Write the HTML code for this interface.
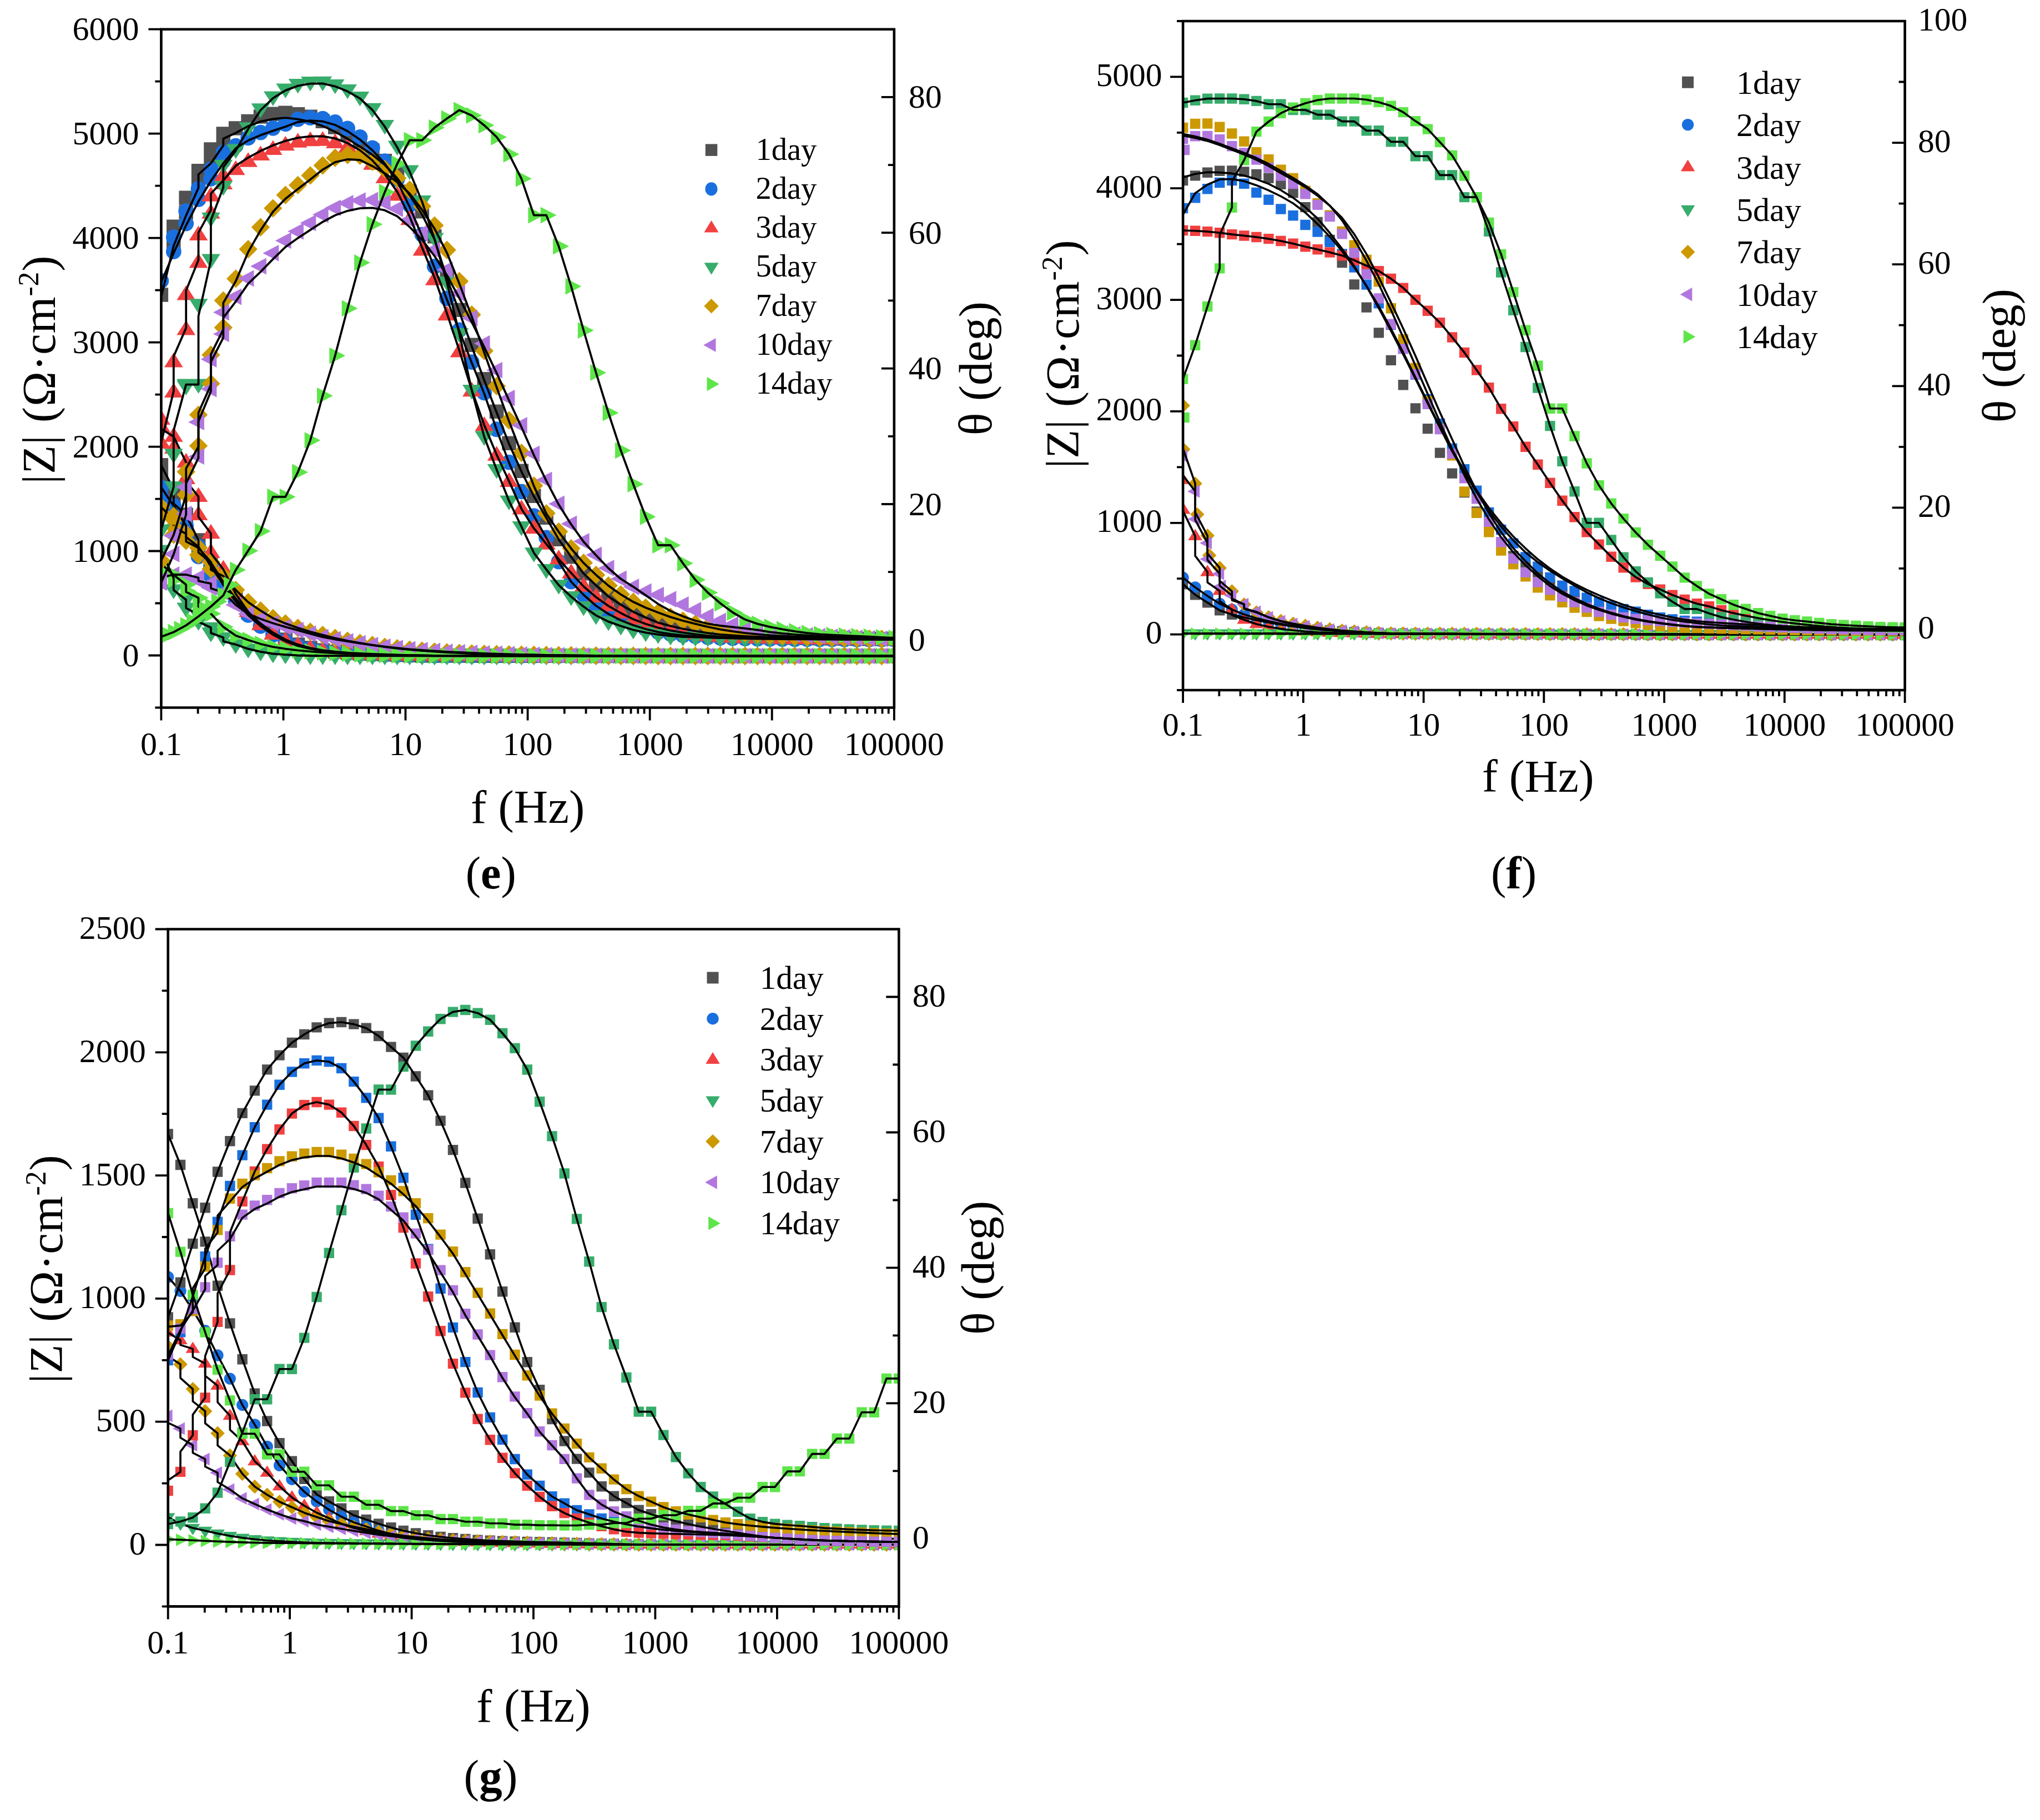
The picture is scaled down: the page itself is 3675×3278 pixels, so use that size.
<!DOCTYPE html>
<html lang="en"><head><meta charset="utf-8"><title>Bode plots (e)-(g)</title>
<style>html,body{margin:0;padding:0;background:#fff}body{width:3675px;height:3278px;overflow:hidden}svg{display:block}text{font-family:"Liberation Serif", "DejaVu Serif", serif;fill:#000}</style></head><body>
<svg width="3675" height="3278" viewBox="0 0 3675 3278">
<rect width="3675" height="3278" fill="#fff"/>
<g id="plot-e">
<clipPath id="clip-e"><rect x="290.4" y="52.7" width="1320.4" height="1221.8"/></clipPath>
<path fill="none" stroke="#000" stroke-width="3.8" d="M1610.8 1152.3h-23M1610.8 1030.1h-11M1610.8 908h-23M1610.8 785.8h-11M1610.8 663.6h-23M1610.8 541.4h-11M1610.8 419.2h-23M1610.8 297.1h-11M1610.8 174.9h-23"/>
<g clip-path="url(#clip-e)">
<g><path fill="#515151" d="M277.6 846.7h25.5v25.5h-25.5zM300 891.6h25.5v25.5h-25.5zM322.4 937.9h25.5v25.5h-25.5zM344.8 981h25.5v25.5h-25.5zM367.2 1018.7h25.5v25.5h-25.5zM277.6 825h25.5v25.5h-25.5zM300 868.8h25.5v25.5h-25.5zM322.4 914.6h25.5v25.5h-25.5zM344.8 960.2h25.5v25.5h-25.5zM367.2 1000.5h25.5v25.5h-25.5zM389.5 1035.6h25.5v25.5h-25.5zM411.9 1065.5h25.5v25.5h-25.5zM434.3 1090.3h25.5v25.5h-25.5zM456.7 1110.1h25.5v25.5h-25.5zM479.1 1126.8h25.5v25.5h-25.5zM501.4 1139.2h25.5v25.5h-25.5zM523.8 1148.2h25.5v25.5h-25.5zM546.2 1154.3h25.5v25.5h-25.5zM568.6 1158.4h25.5v25.5h-25.5zM591 1161h25.5v25.5h-25.5zM613.3 1162.9h25.5v25.5h-25.5zM635.7 1164.2h25.5v25.5h-25.5zM658.1 1165.1h25.5v25.5h-25.5zM680.5 1166h25.5v25.5h-25.5zM702.9 1166.8h25.5v25.5h-25.5zM725.2 1167.4h25.5v25.5h-25.5zM747.6 1167.9h25.5v25.5h-25.5zM770 1168.2h25.5v25.5h-25.5zM792.4 1168.3h25.5v25.5h-25.5zM814.8 1168.3h25.5v25.5h-25.5zM837.1 1168.3h25.5v25.5h-25.5zM859.5 1168.4h25.5v25.5h-25.5zM881.9 1168.4h25.5v25.5h-25.5zM904.3 1168.4h25.5v25.5h-25.5zM926.7 1168.4h25.5v25.5h-25.5zM949 1168.5h25.5v25.5h-25.5zM971.4 1168.5h25.5v25.5h-25.5zM993.8 1168.5h25.5v25.5h-25.5zM1016.2 1168.5h25.5v25.5h-25.5zM1038.6 1168.5h25.5v25.5h-25.5zM1060.9 1168.6h25.5v25.5h-25.5zM1083.3 1168.6h25.5v25.5h-25.5zM1105.7 1168.6h25.5v25.5h-25.5zM1128.1 1168.6h25.5v25.5h-25.5zM1150.5 1168.6h25.5v25.5h-25.5zM1172.8 1168.6h25.5v25.5h-25.5zM1195.2 1168.7h25.5v25.5h-25.5zM1217.6 1168.7h25.5v25.5h-25.5zM1240 1168.7h25.5v25.5h-25.5zM1262.4 1168.7h25.5v25.5h-25.5zM1284.7 1168.7h25.5v25.5h-25.5zM1307.1 1168.7h25.5v25.5h-25.5zM1329.5 1168.7h25.5v25.5h-25.5zM1351.9 1168.7h25.5v25.5h-25.5zM1374.3 1168.7h25.5v25.5h-25.5zM1396.6 1168.7h25.5v25.5h-25.5zM1419 1168.7h25.5v25.5h-25.5zM1441.4 1168.7h25.5v25.5h-25.5zM1463.8 1168.7h25.5v25.5h-25.5zM1486.2 1168.7h25.5v25.5h-25.5zM1508.5 1168.7h25.5v25.5h-25.5zM1530.9 1168.7h25.5v25.5h-25.5zM1553.3 1168.7h25.5v25.5h-25.5zM1575.7 1168.7h25.5v25.5h-25.5zM1598.1 1168.7h25.5v25.5h-25.5z"/><path fill="#1A6FDF" d="M276.5 894.1a13.9 13.9 0 1 0 27.8 0a13.9 13.9 0 1 0 -27.8 0zM298.9 928.8a13.9 13.9 0 1 0 27.8 0a13.9 13.9 0 1 0 -27.8 0zM321.3 965.8a13.9 13.9 0 1 0 27.8 0a13.9 13.9 0 1 0 -27.8 0zM343.6 1002.5a13.9 13.9 0 1 0 27.8 0a13.9 13.9 0 1 0 -27.8 0zM366 1037a13.9 13.9 0 1 0 27.8 0a13.9 13.9 0 1 0 -27.8 0zM276.5 877.6a13.9 13.9 0 1 0 27.8 0a13.9 13.9 0 1 0 -27.8 0zM298.9 911.2a13.9 13.9 0 1 0 27.8 0a13.9 13.9 0 1 0 -27.8 0zM321.3 946.9a13.9 13.9 0 1 0 27.8 0a13.9 13.9 0 1 0 -27.8 0zM343.6 984.5a13.9 13.9 0 1 0 27.8 0a13.9 13.9 0 1 0 -27.8 0zM366 1020a13.9 13.9 0 1 0 27.8 0a13.9 13.9 0 1 0 -27.8 0zM388.4 1053.3a13.9 13.9 0 1 0 27.8 0a13.9 13.9 0 1 0 -27.8 0zM410.8 1083.3a13.9 13.9 0 1 0 27.8 0a13.9 13.9 0 1 0 -27.8 0zM433.2 1108a13.9 13.9 0 1 0 27.8 0a13.9 13.9 0 1 0 -27.8 0zM455.5 1127.7a13.9 13.9 0 1 0 27.8 0a13.9 13.9 0 1 0 -27.8 0zM477.9 1143.3a13.9 13.9 0 1 0 27.8 0a13.9 13.9 0 1 0 -27.8 0zM500.3 1154.8a13.9 13.9 0 1 0 27.8 0a13.9 13.9 0 1 0 -27.8 0zM522.7 1163.1a13.9 13.9 0 1 0 27.8 0a13.9 13.9 0 1 0 -27.8 0zM545.1 1168.5a13.9 13.9 0 1 0 27.8 0a13.9 13.9 0 1 0 -27.8 0zM567.4 1172.2a13.9 13.9 0 1 0 27.8 0a13.9 13.9 0 1 0 -27.8 0zM589.8 1174.7a13.9 13.9 0 1 0 27.8 0a13.9 13.9 0 1 0 -27.8 0zM612.2 1176.7a13.9 13.9 0 1 0 27.8 0a13.9 13.9 0 1 0 -27.8 0zM634.6 1177.9a13.9 13.9 0 1 0 27.8 0a13.9 13.9 0 1 0 -27.8 0zM657 1178.7a13.9 13.9 0 1 0 27.8 0a13.9 13.9 0 1 0 -27.8 0zM679.3 1179.4a13.9 13.9 0 1 0 27.8 0a13.9 13.9 0 1 0 -27.8 0zM701.7 1179.9a13.9 13.9 0 1 0 27.8 0a13.9 13.9 0 1 0 -27.8 0zM724.1 1180.4a13.9 13.9 0 1 0 27.8 0a13.9 13.9 0 1 0 -27.8 0zM746.5 1180.7a13.9 13.9 0 1 0 27.8 0a13.9 13.9 0 1 0 -27.8 0zM768.9 1180.9a13.9 13.9 0 1 0 27.8 0a13.9 13.9 0 1 0 -27.8 0zM791.2 1181a13.9 13.9 0 1 0 27.8 0a13.9 13.9 0 1 0 -27.8 0zM813.6 1181a13.9 13.9 0 1 0 27.8 0a13.9 13.9 0 1 0 -27.8 0zM836 1181.1a13.9 13.9 0 1 0 27.8 0a13.9 13.9 0 1 0 -27.8 0zM858.4 1181.1a13.9 13.9 0 1 0 27.8 0a13.9 13.9 0 1 0 -27.8 0zM880.8 1181.1a13.9 13.9 0 1 0 27.8 0a13.9 13.9 0 1 0 -27.8 0zM903.1 1181.2a13.9 13.9 0 1 0 27.8 0a13.9 13.9 0 1 0 -27.8 0zM925.5 1181.2a13.9 13.9 0 1 0 27.8 0a13.9 13.9 0 1 0 -27.8 0zM947.9 1181.2a13.9 13.9 0 1 0 27.8 0a13.9 13.9 0 1 0 -27.8 0zM970.3 1181.2a13.9 13.9 0 1 0 27.8 0a13.9 13.9 0 1 0 -27.8 0zM992.7 1181.3a13.9 13.9 0 1 0 27.8 0a13.9 13.9 0 1 0 -27.8 0zM1015 1181.3a13.9 13.9 0 1 0 27.8 0a13.9 13.9 0 1 0 -27.8 0zM1037.4 1181.3a13.9 13.9 0 1 0 27.8 0a13.9 13.9 0 1 0 -27.8 0zM1059.8 1181.3a13.9 13.9 0 1 0 27.8 0a13.9 13.9 0 1 0 -27.8 0zM1082.2 1181.3a13.9 13.9 0 1 0 27.8 0a13.9 13.9 0 1 0 -27.8 0zM1104.5 1181.3a13.9 13.9 0 1 0 27.8 0a13.9 13.9 0 1 0 -27.8 0zM1126.9 1181.4a13.9 13.9 0 1 0 27.8 0a13.9 13.9 0 1 0 -27.8 0zM1149.3 1181.4a13.9 13.9 0 1 0 27.8 0a13.9 13.9 0 1 0 -27.8 0zM1171.7 1181.4a13.9 13.9 0 1 0 27.8 0a13.9 13.9 0 1 0 -27.8 0zM1194.1 1181.4a13.9 13.9 0 1 0 27.8 0a13.9 13.9 0 1 0 -27.8 0zM1216.4 1181.4a13.9 13.9 0 1 0 27.8 0a13.9 13.9 0 1 0 -27.8 0zM1238.8 1181.4a13.9 13.9 0 1 0 27.8 0a13.9 13.9 0 1 0 -27.8 0zM1261.2 1181.4a13.9 13.9 0 1 0 27.8 0a13.9 13.9 0 1 0 -27.8 0zM1283.6 1181.4a13.9 13.9 0 1 0 27.8 0a13.9 13.9 0 1 0 -27.8 0zM1306 1181.5a13.9 13.9 0 1 0 27.8 0a13.9 13.9 0 1 0 -27.8 0zM1328.3 1181.5a13.9 13.9 0 1 0 27.8 0a13.9 13.9 0 1 0 -27.8 0zM1350.7 1181.5a13.9 13.9 0 1 0 27.8 0a13.9 13.9 0 1 0 -27.8 0zM1373.1 1181.5a13.9 13.9 0 1 0 27.8 0a13.9 13.9 0 1 0 -27.8 0zM1395.5 1181.5a13.9 13.9 0 1 0 27.8 0a13.9 13.9 0 1 0 -27.8 0zM1417.9 1181.5a13.9 13.9 0 1 0 27.8 0a13.9 13.9 0 1 0 -27.8 0zM1440.2 1181.5a13.9 13.9 0 1 0 27.8 0a13.9 13.9 0 1 0 -27.8 0zM1462.6 1181.5a13.9 13.9 0 1 0 27.8 0a13.9 13.9 0 1 0 -27.8 0zM1485 1181.5a13.9 13.9 0 1 0 27.8 0a13.9 13.9 0 1 0 -27.8 0zM1507.4 1181.5a13.9 13.9 0 1 0 27.8 0a13.9 13.9 0 1 0 -27.8 0zM1529.8 1181.5a13.9 13.9 0 1 0 27.8 0a13.9 13.9 0 1 0 -27.8 0zM1552.1 1181.5a13.9 13.9 0 1 0 27.8 0a13.9 13.9 0 1 0 -27.8 0zM1574.5 1181.5a13.9 13.9 0 1 0 27.8 0a13.9 13.9 0 1 0 -27.8 0zM1596.9 1181.5a13.9 13.9 0 1 0 27.8 0a13.9 13.9 0 1 0 -27.8 0z"/><path fill="#F14040" d="M290.4 752.2L307.2 778.7L273.6 778.7zM312.8 790.6L329.6 817.1L295.9 817.1zM335.2 845.4L352 872L318.3 872zM357.5 910.4L374.4 936.9L340.7 936.9zM379.9 978.5L396.7 1005L363.1 1005zM290.4 738.4L307.2 765L273.6 765zM312.8 769.3L329.6 795.8L295.9 795.8zM335.2 815.8L352 842.3L318.3 842.3zM357.5 877.4L374.4 903.9L340.7 903.9zM379.9 943.8L396.7 970.3L363.1 970.3zM402.3 1008.5L419.1 1035L385.5 1035zM424.7 1052.6L441.5 1079.1L407.8 1079.1zM447.1 1084.8L463.9 1111.3L430.2 1111.3zM469.4 1108.2L486.3 1134.7L452.6 1134.7zM491.8 1125.6L508.6 1152.1L475 1152.1zM514.2 1137.9L531 1164.4L497.4 1164.4zM536.6 1146.1L553.4 1172.6L519.7 1172.6zM559 1151.5L575.8 1178L542.1 1178zM581.3 1155.2L598.2 1181.7L564.5 1181.7zM603.7 1157.7L620.5 1184.3L586.9 1184.3zM626.1 1159.7L642.9 1186.2L609.3 1186.2zM648.5 1161L665.3 1187.5L631.6 1187.5zM670.9 1161.7L687.7 1188.2L654 1188.2zM693.2 1162.4L710.1 1188.9L676.4 1188.9zM715.6 1163L732.4 1189.5L698.8 1189.5zM738 1163.4L754.8 1189.9L721.2 1189.9zM760.4 1163.7L777.2 1190.3L743.5 1190.3zM782.8 1164L799.6 1190.5L765.9 1190.5zM805.1 1164L822 1190.6L788.3 1190.6zM827.5 1164.1L844.3 1190.6L810.7 1190.6zM849.9 1164.1L866.7 1190.6L833.1 1190.6zM872.3 1164.1L889.1 1190.6L855.4 1190.6zM894.7 1164.2L911.5 1190.7L877.8 1190.7zM917 1164.2L933.9 1190.7L900.2 1190.7zM939.4 1164.2L956.2 1190.7L922.6 1190.7zM961.8 1164.2L978.6 1190.8L945 1190.8zM984.2 1164.3L1001 1190.8L967.3 1190.8zM1006.5 1164.3L1023.4 1190.8L989.7 1190.8zM1028.9 1164.3L1045.8 1190.8L1012.1 1190.8zM1051.3 1164.3L1068.1 1190.8L1034.5 1190.8zM1073.7 1164.3L1090.5 1190.9L1056.9 1190.9zM1096.1 1164.4L1112.9 1190.9L1079.2 1190.9zM1118.4 1164.4L1135.3 1190.9L1101.6 1190.9zM1140.8 1164.4L1157.7 1190.9L1124 1190.9zM1163.2 1164.4L1180 1190.9L1146.4 1190.9zM1185.6 1164.4L1202.4 1190.9L1168.8 1190.9zM1208 1164.4L1224.8 1191L1191.1 1191zM1230.3 1164.4L1247.2 1191L1213.5 1191zM1252.7 1164.5L1269.6 1191L1235.9 1191zM1275.1 1164.5L1291.9 1191L1258.3 1191zM1297.5 1164.5L1314.3 1191L1280.7 1191zM1319.9 1164.5L1336.7 1191L1303 1191zM1342.2 1164.5L1359.1 1191L1325.4 1191zM1364.6 1164.5L1381.5 1191L1347.8 1191zM1387 1164.5L1403.8 1191L1370.2 1191zM1409.4 1164.5L1426.2 1191L1392.6 1191zM1431.8 1164.5L1448.6 1191L1414.9 1191zM1454.1 1164.5L1471 1191L1437.3 1191zM1476.5 1164.5L1493.4 1191L1459.7 1191zM1498.9 1164.5L1515.7 1191L1482.1 1191zM1521.3 1164.5L1538.1 1191L1504.5 1191zM1543.7 1164.5L1560.5 1191L1526.8 1191zM1566 1164.5L1582.9 1191L1549.2 1191zM1588.4 1164.5L1605.3 1191L1571.6 1191zM1610.8 1164.5L1627.6 1191L1594 1191z"/><path fill="#37AD6B" d="M290.4 1034.9L307.2 1008.4L273.6 1008.4zM312.8 1079.1L329.6 1052.6L295.9 1052.6zM335.2 1112L352 1085.4L318.3 1085.4zM357.5 1136.1L374.4 1109.6L340.7 1109.6zM379.9 1156.8L396.7 1130.3L363.1 1130.3zM290.4 1008L307.2 981.5L273.6 981.5zM312.8 1058.5L329.6 1032L295.9 1032zM335.2 1097.1L352 1070.6L318.3 1070.6zM357.5 1124.3L374.4 1097.7L340.7 1097.7zM379.9 1147.2L396.7 1120.7L363.1 1120.7zM402.3 1165.2L419.1 1138.7L385.5 1138.7zM424.7 1177.7L441.5 1151.2L407.8 1151.2zM447.1 1185.7L463.9 1159.2L430.2 1159.2zM469.4 1190.9L486.3 1164.4L452.6 1164.4zM491.8 1194.5L508.6 1168L475 1168zM514.2 1196.2L531 1169.7L497.4 1169.7zM536.6 1197.4L553.4 1170.9L519.7 1170.9zM559 1198L575.8 1171.4L542.1 1171.4zM581.3 1198L598.2 1171.5L564.5 1171.5zM603.7 1198.1L620.5 1171.6L586.9 1171.6zM626.1 1198.2L642.9 1171.7L609.3 1171.7zM648.5 1198.2L665.3 1171.7L631.6 1171.7zM670.9 1198.3L687.7 1171.8L654 1171.8zM693.2 1198.3L710.1 1171.8L676.4 1171.8zM715.6 1198.4L732.4 1171.8L698.8 1171.8zM738 1198.4L754.8 1171.9L721.2 1171.9zM760.4 1198.4L777.2 1171.9L743.5 1171.9zM782.8 1198.4L799.6 1171.9L765.9 1171.9zM805.1 1198.4L822 1171.9L788.3 1171.9zM827.5 1198.5L844.3 1171.9L810.7 1171.9zM849.9 1198.5L866.7 1171.9L833.1 1171.9zM872.3 1198.5L889.1 1172L855.4 1172zM894.7 1198.5L911.5 1172L877.8 1172zM917 1198.5L933.9 1172L900.2 1172zM939.4 1198.5L956.2 1172L922.6 1172zM961.8 1198.5L978.6 1172L945 1172zM984.2 1198.5L1001 1172L967.3 1172zM1006.5 1198.5L1023.4 1172L989.7 1172zM1028.9 1198.5L1045.8 1172L1012.1 1172zM1051.3 1198.5L1068.1 1172L1034.5 1172zM1073.7 1198.5L1090.5 1172L1056.9 1172zM1096.1 1198.5L1112.9 1172L1079.2 1172zM1118.4 1198.5L1135.3 1172L1101.6 1172zM1140.8 1198.5L1157.7 1172L1124 1172zM1163.2 1198.5L1180 1172L1146.4 1172zM1185.6 1198.5L1202.4 1172L1168.8 1172zM1208 1198.5L1224.8 1172L1191.1 1172zM1230.3 1198.5L1247.2 1172L1213.5 1172zM1252.7 1198.5L1269.6 1172L1235.9 1172zM1275.1 1198.5L1291.9 1172L1258.3 1172zM1297.5 1198.5L1314.3 1172L1280.7 1172zM1319.9 1198.5L1336.7 1172L1303 1172zM1342.2 1198.5L1359.1 1172L1325.4 1172zM1364.6 1198.5L1381.5 1172L1347.8 1172zM1387 1198.5L1403.8 1172L1370.2 1172zM1409.4 1198.5L1426.2 1172L1392.6 1172zM1431.8 1198.5L1448.6 1172L1414.9 1172zM1454.1 1198.5L1471 1172L1437.3 1172zM1476.5 1198.5L1493.4 1172L1459.7 1172zM1498.9 1198.5L1515.7 1172L1482.1 1172zM1521.3 1198.5L1538.1 1172L1504.5 1172zM1543.7 1198.5L1560.5 1172L1526.8 1172zM1566 1198.5L1582.9 1172L1549.2 1172zM1588.4 1198.5L1605.3 1172L1571.6 1172zM1610.8 1198.5L1627.6 1172L1594 1172z"/><path fill="#CC9900" d="M290.4 907.5L307.1 924.2L290.4 940.9L273.7 924.2zM312.8 931.7L329.5 948.4L312.8 965.1L296.1 948.4zM335.2 957.3L351.9 974L335.2 990.7L318.5 974zM357.5 982.8L374.2 999.5L357.5 1016.2L340.8 999.5zM379.9 1008.2L396.6 1024.9L379.9 1041.6L363.2 1024.9zM290.4 896.7L307.1 913.4L290.4 930.1L273.7 913.4zM312.8 919.1L329.5 935.8L312.8 952.5L296.1 935.8zM335.2 944.6L351.9 961.3L335.2 978L318.5 961.3zM357.5 970L374.2 986.7L357.5 1003.5L340.8 986.7zM379.9 995.5L396.6 1012.2L379.9 1028.9L363.2 1012.2zM402.3 1020.9L419 1037.6L402.3 1054.3L385.6 1037.6zM424.7 1045.9L441.4 1062.6L424.7 1079.3L408 1062.6zM447.1 1067.9L463.8 1084.6L447.1 1101.3L430.4 1084.6zM469.4 1083.1L486.1 1099.8L469.4 1116.5L452.7 1099.8zM491.8 1096.7L508.5 1113.4L491.8 1130.1L475.1 1113.4zM514.2 1106.2L530.9 1122.9L514.2 1139.6L497.5 1122.9zM536.6 1114.2L553.3 1130.9L536.6 1147.6L519.9 1130.9zM559 1121.2L575.7 1137.9L559 1154.6L542.3 1137.9zM581.3 1126.9L598 1143.6L581.3 1160.3L564.6 1143.6zM603.7 1132.6L620.4 1149.3L603.7 1166L587 1149.3zM626.1 1137.5L642.8 1154.2L626.1 1170.9L609.4 1154.2zM648.5 1141.4L665.2 1158.1L648.5 1174.8L631.8 1158.1zM670.9 1145.1L687.6 1161.8L670.9 1178.5L654.2 1161.8zM693.2 1148.4L709.9 1165.1L693.2 1181.8L676.5 1165.1zM715.6 1151.1L732.3 1167.8L715.6 1184.5L698.9 1167.8zM738 1153.4L754.7 1170.1L738 1186.9L721.3 1170.1zM760.4 1155.3L777.1 1172L760.4 1188.7L743.7 1172zM782.8 1156.9L799.5 1173.6L782.8 1190.3L766.1 1173.6zM805.1 1158.3L821.8 1175L805.1 1191.7L788.4 1175zM827.5 1159.4L844.2 1176.1L827.5 1192.8L810.8 1176.1zM849.9 1160.3L866.6 1177L849.9 1193.7L833.2 1177zM872.3 1160.9L889 1177.6L872.3 1194.3L855.6 1177.6zM894.7 1161.5L911.4 1178.2L894.7 1194.9L877.9 1178.2zM917 1162L933.7 1178.7L917 1195.4L900.3 1178.7zM939.4 1162.4L956.1 1179.1L939.4 1195.8L922.7 1179.1zM961.8 1162.8L978.5 1179.5L961.8 1196.2L945.1 1179.5zM984.2 1163.1L1000.9 1179.8L984.2 1196.5L967.5 1179.8zM1006.5 1163.4L1023.3 1180.1L1006.5 1196.8L989.8 1180.1zM1028.9 1163.6L1045.6 1180.3L1028.9 1197L1012.2 1180.3zM1051.3 1163.9L1068 1180.6L1051.3 1197.3L1034.6 1180.6zM1073.7 1164.1L1090.4 1180.8L1073.7 1197.5L1057 1180.8zM1096.1 1164.3L1112.8 1181L1096.1 1197.7L1079.4 1181zM1118.4 1164.5L1135.1 1181.2L1118.4 1197.9L1101.7 1181.2zM1140.8 1164.6L1157.5 1181.3L1140.8 1198L1124.1 1181.3zM1163.2 1164.7L1179.9 1181.4L1163.2 1198.1L1146.5 1181.4zM1185.6 1164.8L1202.3 1181.5L1185.6 1198.2L1168.9 1181.5zM1208 1164.8L1224.7 1181.5L1208 1198.2L1191.3 1181.5zM1230.3 1164.8L1247 1181.5L1230.3 1198.2L1213.6 1181.5zM1252.7 1164.8L1269.4 1181.5L1252.7 1198.2L1236 1181.5zM1275.1 1164.8L1291.8 1181.5L1275.1 1198.2L1258.4 1181.5zM1297.5 1164.8L1314.2 1181.5L1297.5 1198.2L1280.8 1181.5zM1319.9 1164.8L1336.6 1181.5L1319.9 1198.2L1303.2 1181.5zM1342.2 1164.8L1358.9 1181.5L1342.2 1198.2L1325.5 1181.5zM1364.6 1164.8L1381.3 1181.5L1364.6 1198.2L1347.9 1181.5zM1387 1164.8L1403.7 1181.5L1387 1198.2L1370.3 1181.5zM1409.4 1164.8L1426.1 1181.5L1409.4 1198.2L1392.7 1181.5zM1431.8 1164.8L1448.5 1181.5L1431.8 1198.2L1415.1 1181.5zM1454.1 1164.8L1470.8 1181.5L1454.1 1198.2L1437.4 1181.5zM1476.5 1164.8L1493.2 1181.5L1476.5 1198.2L1459.8 1181.5zM1498.9 1164.8L1515.6 1181.5L1498.9 1198.2L1482.2 1181.5zM1521.3 1164.8L1538 1181.5L1521.3 1198.2L1504.6 1181.5zM1543.7 1164.8L1560.4 1181.5L1543.7 1198.2L1527 1181.5zM1566 1164.8L1582.7 1181.5L1566 1198.2L1549.3 1181.5zM1588.4 1164.8L1605.1 1181.5L1588.4 1198.2L1571.7 1181.5zM1610.8 1164.8L1627.5 1181.5L1610.8 1198.2L1594.1 1181.5z"/><path fill="#B177DE" d="M272 1036.4L300.8 1021.5L300.8 1051.3zM294.3 1035L323.2 1020.1L323.2 1049.9zM316.7 1037L345.5 1022.1L345.5 1052zM339.1 1045.2L367.9 1030.2L367.9 1060.1zM361.5 1058.2L390.3 1043.3L390.3 1073.1zM272 1039.9L300.8 1024.9L300.8 1054.8zM294.3 1035L323.2 1020.1L323.2 1049.9zM316.7 1035L345.5 1020.1L345.5 1049.9zM339.1 1040.5L367.9 1025.6L367.9 1055.4zM361.5 1051.1L390.3 1036.2L390.3 1066zM383.9 1067L412.7 1052.1L412.7 1081.9zM406.2 1089.4L435.1 1074.5L435.1 1104.3zM428.6 1105.8L457.4 1090.8L457.4 1120.7zM451 1114.8L479.8 1099.9L479.8 1129.7zM473.4 1122.5L502.2 1107.6L502.2 1137.4zM495.8 1129.1L524.6 1114.2L524.6 1144zM518.1 1135.1L546.9 1120.1L546.9 1150zM540.5 1141.5L569.3 1126.6L569.3 1156.4zM562.9 1147.3L591.7 1132.4L591.7 1162.2zM585.3 1151.5L614.1 1136.5L614.1 1166.4zM607.7 1155.1L636.5 1140.2L636.5 1170.1zM630 1158.7L658.8 1143.7L658.8 1173.6zM652.4 1161.8L681.2 1146.9L681.2 1176.7zM674.8 1164.6L703.6 1149.7L703.6 1179.5zM697.2 1167.1L726 1152.2L726 1182zM719.6 1169.3L748.4 1154.4L748.4 1184.2zM741.9 1171L770.7 1156.1L770.7 1185.9zM764.3 1172.5L793.1 1157.6L793.1 1187.4zM786.7 1173.9L815.5 1159L815.5 1188.8zM809.1 1175L837.9 1160.1L837.9 1190zM831.4 1176L860.3 1161.1L860.3 1190.9zM853.8 1176.8L882.6 1161.9L882.6 1191.7zM876.2 1177.6L905 1162.6L905 1192.5zM898.6 1178.3L927.4 1163.3L927.4 1193.2zM921 1178.9L949.8 1163.9L949.8 1193.8zM943.3 1179.4L972.2 1164.5L972.2 1194.3zM965.7 1179.8L994.5 1164.9L994.5 1194.7zM988.1 1180.1L1016.9 1165.2L1016.9 1195zM1010.5 1180.3L1039.3 1165.4L1039.3 1195.3zM1032.9 1180.6L1061.7 1165.7L1061.7 1195.5zM1055.2 1180.8L1084.1 1165.9L1084.1 1195.7zM1077.6 1181L1106.4 1166.1L1106.4 1195.9zM1100 1181.2L1128.8 1166.3L1128.8 1196.1zM1122.4 1181.3L1151.2 1166.4L1151.2 1196.2zM1144.8 1181.4L1173.6 1166.5L1173.6 1196.4zM1167.1 1181.5L1196 1166.6L1196 1196.4zM1189.5 1181.5L1218.3 1166.6L1218.3 1196.4zM1211.9 1181.5L1240.7 1166.6L1240.7 1196.4zM1234.3 1181.5L1263.1 1166.6L1263.1 1196.4zM1256.7 1181.5L1285.5 1166.6L1285.5 1196.4zM1279 1181.5L1307.9 1166.6L1307.9 1196.4zM1301.4 1181.5L1330.2 1166.6L1330.2 1196.4zM1323.8 1181.5L1352.6 1166.6L1352.6 1196.4zM1346.2 1181.5L1375 1166.6L1375 1196.4zM1368.6 1181.5L1397.4 1166.6L1397.4 1196.4zM1390.9 1181.5L1419.8 1166.6L1419.8 1196.4zM1413.3 1181.5L1442.1 1166.6L1442.1 1196.4zM1435.7 1181.5L1464.5 1166.6L1464.5 1196.4zM1458.1 1181.5L1486.9 1166.6L1486.9 1196.4zM1480.5 1181.5L1509.3 1166.6L1509.3 1196.4zM1502.8 1181.5L1531.7 1166.6L1531.7 1196.4zM1525.2 1181.5L1554 1166.6L1554 1196.4zM1547.6 1181.5L1576.4 1166.6L1576.4 1196.4zM1570 1181.5L1598.8 1166.6L1598.8 1196.4zM1592.4 1181.5L1621.2 1166.6L1621.2 1196.4z"/><path fill="#5EE54A" d="M308.8 1025.9L280 1011L280 1040.8zM331.2 1044.1L302.4 1029.1L302.4 1059zM353.6 1064.2L324.8 1049.3L324.8 1079.1zM376 1091.2L347.2 1076.3L347.2 1106.1zM308.8 1015.4L280 1000.5L280 1030.3zM331.2 1035.6L302.4 1020.7L302.4 1050.6zM353.6 1053L324.8 1038.1L324.8 1068zM376 1076.8L347.2 1061.9L347.2 1091.7zM398.4 1105.3L369.5 1090.3L369.5 1120.2zM420.7 1129.1L391.9 1114.1L391.9 1144zM443.1 1144.7L414.3 1129.8L414.3 1159.7zM465.5 1152.7L436.7 1137.8L436.7 1167.6zM487.9 1159.8L459.1 1144.8L459.1 1174.7zM510.3 1165.1L481.4 1150.2L481.4 1180.1zM532.6 1168.6L503.8 1153.7L503.8 1183.5zM555 1171.3L526.2 1156.3L526.2 1186.2zM577.4 1173.4L548.6 1158.5L548.6 1188.3zM599.8 1175.1L571 1160.2L571 1190zM622.2 1176.4L593.3 1161.5L593.3 1191.3zM644.5 1177.5L615.7 1162.6L615.7 1192.5zM666.9 1178.5L638.1 1163.6L638.1 1193.5zM689.3 1179.3L660.5 1164.4L660.5 1194.3zM711.7 1179.9L682.9 1165L682.9 1194.8zM734.1 1180.2L705.2 1165.3L705.2 1195.1zM756.4 1180.5L727.6 1165.6L727.6 1195.4zM778.8 1180.7L750 1165.8L750 1195.6zM801.2 1180.9L772.4 1166L772.4 1195.9zM823.6 1181.1L794.8 1166.2L794.8 1196zM846 1181.3L817.1 1166.4L817.1 1196.2zM868.3 1181.4L839.5 1166.5L839.5 1196.3zM890.7 1181.5L861.9 1166.5L861.9 1196.4zM913.1 1181.5L884.3 1166.6L884.3 1196.4zM935.5 1181.5L906.7 1166.6L906.7 1196.4zM957.9 1181.5L929 1166.6L929 1196.4zM980.2 1181.5L951.4 1166.6L951.4 1196.4zM1002.6 1181.5L973.8 1166.6L973.8 1196.4zM1025 1181.5L996.2 1166.6L996.2 1196.4zM1047.4 1181.5L1018.6 1166.6L1018.6 1196.4zM1069.8 1181.5L1040.9 1166.6L1040.9 1196.4zM1092.1 1181.5L1063.3 1166.6L1063.3 1196.4zM1114.5 1181.5L1085.7 1166.6L1085.7 1196.4zM1136.9 1181.5L1108.1 1166.6L1108.1 1196.4zM1159.3 1181.5L1130.5 1166.6L1130.5 1196.4zM1181.6 1181.5L1152.8 1166.6L1152.8 1196.4zM1204 1181.5L1175.2 1166.6L1175.2 1196.4zM1226.4 1181.5L1197.6 1166.6L1197.6 1196.4zM1248.8 1181.5L1220 1166.6L1220 1196.4zM1271.2 1181.5L1242.4 1166.6L1242.4 1196.4zM1293.5 1181.5L1264.7 1166.6L1264.7 1196.4zM1315.9 1181.5L1287.1 1166.6L1287.1 1196.4zM1338.3 1181.5L1309.5 1166.6L1309.5 1196.4zM1360.7 1181.5L1331.9 1166.6L1331.9 1196.4zM1383.1 1181.5L1354.3 1166.6L1354.3 1196.4zM1405.4 1181.5L1376.6 1166.6L1376.6 1196.4zM1427.8 1181.5L1399 1166.6L1399 1196.4zM1450.2 1181.5L1421.4 1166.6L1421.4 1196.4zM1472.6 1181.5L1443.8 1166.6L1443.8 1196.4zM1495 1181.5L1466.1 1166.6L1466.1 1196.4zM1517.3 1181.5L1488.5 1166.6L1488.5 1196.4zM1539.7 1181.5L1510.9 1166.6L1510.9 1196.4zM1562.1 1181.5L1533.3 1166.6L1533.3 1196.4zM1584.5 1181.5L1555.7 1166.6L1555.7 1196.4zM1606.9 1181.5L1578 1166.6L1578 1196.4zM1629.2 1181.5L1600.4 1166.6L1600.4 1196.4z"/></g>
<g fill="none" stroke="#000" stroke-width="3.8" stroke-linejoin="round"><polyline points="290.4,837.8 312.8,881.6 312.8,906.8 335.2,927.4 357.5,973 357.5,995.1 379.9,1013.2 402.3,1048.4 424.7,1078.3 447.1,1103 469.4,1122.9 491.8,1139.5 514.2,1152 536.6,1160.9 559,1167.1 581.3,1171.2 603.7,1173.7 626.1,1175.6 648.5,1176.9 670.9,1177.9 693.2,1178.7 715.6,1179.5 738,1180.1 760.4,1180.6 782.8,1180.9 805.1,1181 827.5,1181 849.9,1181.1 872.3,1181.1 894.7,1181.1 917,1181.2 939.4,1181.2 961.8,1181.2 984.2,1181.2 1006.5,1181.3 1028.9,1181.3 1051.3,1181.3 1073.7,1181.3 1096.1,1181.3 1118.4,1181.4 1140.8,1181.4 1163.2,1181.4 1185.6,1181.4 1208,1181.4 1230.3,1181.4 1252.7,1181.4 1275.1,1181.4 1297.5,1181.4 1319.9,1181.5 1342.2,1181.5 1364.6,1181.5 1387,1181.5 1409.4,1181.5 1431.8,1181.5 1454.1,1181.5 1476.5,1181.5 1498.9,1181.5 1521.3,1181.5 1543.7,1181.5 1566,1181.5 1588.4,1181.5 1610.8,1181.5"/><polyline points="290.4,877.6 312.8,911.2 335.2,946.9 335.2,967.6 357.5,984.5 379.9,1020 402.3,1053.3 424.7,1083.3 447.1,1108 469.4,1127.7 491.8,1143.3 514.2,1154.8 536.6,1163.1 559,1168.5 581.3,1172.2 603.7,1174.7 626.1,1176.7 648.5,1177.9 670.9,1178.7 693.2,1179.4 715.6,1179.9 738,1180.4 760.4,1180.7 782.8,1180.9 805.1,1181 827.5,1181 849.9,1181.1 872.3,1181.1 894.7,1181.1 917,1181.2 939.4,1181.2 961.8,1181.2 984.2,1181.2 1006.5,1181.3 1028.9,1181.3 1051.3,1181.3 1073.7,1181.3 1096.1,1181.3 1118.4,1181.3 1140.8,1181.4 1163.2,1181.4 1185.6,1181.4 1208,1181.4 1230.3,1181.4 1252.7,1181.4 1275.1,1181.4 1297.5,1181.4 1319.9,1181.5 1342.2,1181.5 1364.6,1181.5 1387,1181.5 1409.4,1181.5 1431.8,1181.5 1454.1,1181.5 1476.5,1181.5 1498.9,1181.5 1521.3,1181.5 1543.7,1181.5 1566,1181.5 1588.4,1181.5 1610.8,1181.5"/><polyline points="290.4,755.4 290.4,772.4 312.8,786.3 335.2,832.8 335.2,866.7 357.5,894.4 357.5,930.9 379.9,960.8 379.9,996.3 402.3,1025.5 424.7,1069.6 447.1,1101.8 469.4,1125.2 491.8,1142.6 514.2,1154.9 536.6,1163.1 559,1168.5 581.3,1172.2 603.7,1174.7 626.1,1176.7 648.5,1177.9 670.9,1178.7 693.2,1179.4 715.6,1179.9 738,1180.4 760.4,1180.7 782.8,1180.9 805.1,1181 827.5,1181 849.9,1181.1 872.3,1181.1 894.7,1181.1 917,1181.2 939.4,1181.2 961.8,1181.2 984.2,1181.2 1006.5,1181.3 1028.9,1181.3 1051.3,1181.3 1073.7,1181.3 1096.1,1181.3 1118.4,1181.3 1140.8,1181.4 1163.2,1181.4 1185.6,1181.4 1208,1181.4 1230.3,1181.4 1252.7,1181.4 1275.1,1181.4 1297.5,1181.4 1319.9,1181.5 1342.2,1181.5 1364.6,1181.5 1387,1181.5 1409.4,1181.5 1431.8,1181.5 1454.1,1181.5 1476.5,1181.5 1498.9,1181.5 1521.3,1181.5 1543.7,1181.5 1566,1181.5 1588.4,1181.5 1610.8,1181.5"/><polyline points="290.4,991 312.8,1041.5 312.8,1062.8 335.2,1080.2 335.2,1095.1 357.5,1107.3 357.5,1119.9 379.9,1130.2 379.9,1140.1 402.3,1148.3 402.3,1155.1 424.7,1160.8 447.1,1168.7 469.4,1173.9 491.8,1177.5 514.2,1179.2 536.6,1180.5 559,1181 581.3,1181.1 603.7,1181.1 626.1,1181.2 648.5,1181.3 670.9,1181.3 693.2,1181.3 715.6,1181.4 738,1181.4 760.4,1181.4 782.8,1181.5 805.1,1181.5 827.5,1181.5 849.9,1181.5 872.3,1181.5 894.7,1181.5 917,1181.5 939.4,1181.5 961.8,1181.5 984.2,1181.5 1006.5,1181.5 1028.9,1181.5 1051.3,1181.5 1073.7,1181.5 1096.1,1181.5 1118.4,1181.5 1140.8,1181.5 1163.2,1181.5 1185.6,1181.5 1208,1181.5 1230.3,1181.5 1252.7,1181.5 1275.1,1181.5 1297.5,1181.5 1319.9,1181.5 1342.2,1181.5 1364.6,1181.5 1387,1181.5 1409.4,1181.5 1431.8,1181.5 1454.1,1181.5 1476.5,1181.5 1498.9,1181.5 1521.3,1181.5 1543.7,1181.5 1566,1181.5 1588.4,1181.5 1610.8,1181.5"/><polyline points="290.4,913.4 312.8,935.8 312.8,949.8 335.2,961.3 335.2,975.3 357.5,986.7 379.9,1012.2 379.9,1026.2 402.3,1037.6 424.7,1062.6 447.1,1084.6 469.4,1099.8 491.8,1113.4 514.2,1122.9 536.6,1130.9 559,1137.9 581.3,1143.6 603.7,1149.3 626.1,1154.2 648.5,1158.1 670.9,1161.8 693.2,1165.1 715.6,1167.8 738,1170.1 760.4,1172 782.8,1173.6 805.1,1175 827.5,1176.1 849.9,1177 872.3,1177.6 894.7,1178.2 917,1178.7 939.4,1179.1 961.8,1179.5 984.2,1179.8 1006.5,1180.1 1028.9,1180.3 1051.3,1180.6 1073.7,1180.8 1096.1,1181 1118.4,1181.2 1140.8,1181.3 1163.2,1181.4 1185.6,1181.5 1208,1181.5 1230.3,1181.5 1252.7,1181.5 1275.1,1181.5 1297.5,1181.5 1319.9,1181.5 1342.2,1181.5 1364.6,1181.5 1387,1181.5 1409.4,1181.5 1431.8,1181.5 1454.1,1181.5 1476.5,1181.5 1498.9,1181.5 1521.3,1181.5 1543.7,1181.5 1566,1181.5 1588.4,1181.5 1610.8,1181.5"/><polyline points="290.4,1039.9 312.8,1035 335.2,1035 357.5,1040.5 357.5,1046.3 379.9,1051.1 379.9,1059.8 402.3,1067 424.7,1089.4 447.1,1105.8 469.4,1114.8 491.8,1122.5 514.2,1129.1 536.6,1135.1 559,1141.5 581.3,1147.3 603.7,1151.5 626.1,1155.1 648.5,1158.7 670.9,1161.8 693.2,1164.6 715.6,1167.1 738,1169.3 760.4,1171 782.8,1172.5 805.1,1173.9 827.5,1175 849.9,1176 872.3,1176.8 894.7,1177.6 917,1178.3 939.4,1178.9 961.8,1179.4 984.2,1179.8 1006.5,1180.1 1028.9,1180.3 1051.3,1180.6 1073.7,1180.8 1096.1,1181 1118.4,1181.2 1140.8,1181.3 1163.2,1181.4 1185.6,1181.5 1208,1181.5 1230.3,1181.5 1252.7,1181.5 1275.1,1181.5 1297.5,1181.5 1319.9,1181.5 1342.2,1181.5 1364.6,1181.5 1387,1181.5 1409.4,1181.5 1431.8,1181.5 1454.1,1181.5 1476.5,1181.5 1498.9,1181.5 1521.3,1181.5 1543.7,1181.5 1566,1181.5 1588.4,1181.5 1610.8,1181.5"/><polyline points="290.4,1015.4 312.8,1035.6 335.2,1053 335.2,1066.1 357.5,1076.8 357.5,1092.5 379.9,1105.3 402.3,1129.1 424.7,1144.7 447.1,1152.7 469.4,1159.8 491.8,1165.1 514.2,1168.6 536.6,1171.3 559,1173.4 581.3,1175.1 603.7,1176.4 626.1,1177.5 648.5,1178.5 670.9,1179.3 693.2,1179.9 715.6,1180.2 738,1180.5 760.4,1180.7 782.8,1180.9 805.1,1181.1 827.5,1181.3 849.9,1181.4 872.3,1181.5 894.7,1181.5 917,1181.5 939.4,1181.5 961.8,1181.5 984.2,1181.5 1006.5,1181.5 1028.9,1181.5 1051.3,1181.5 1073.7,1181.5 1096.1,1181.5 1118.4,1181.5 1140.8,1181.5 1163.2,1181.5 1185.6,1181.5 1208,1181.5 1230.3,1181.5 1252.7,1181.5 1275.1,1181.5 1297.5,1181.5 1319.9,1181.5 1342.2,1181.5 1364.6,1181.5 1387,1181.5 1409.4,1181.5 1431.8,1181.5 1454.1,1181.5 1476.5,1181.5 1498.9,1181.5 1521.3,1181.5 1543.7,1181.5 1566,1181.5 1588.4,1181.5 1610.8,1181.5"/></g>
<g><path fill="#515151" d="M300 395.4h25.5v25.5h-25.5zM322.4 343.6h25.5v25.5h-25.5zM344.8 295h25.5v25.5h-25.5zM367.2 256.3h25.5v25.5h-25.5zM389.5 228.2h25.5v25.5h-25.5zM277.6 518.2h25.5v25.5h-25.5zM300 424.8h25.5v25.5h-25.5zM322.4 369.5h25.5v25.5h-25.5zM344.8 318.9h25.5v25.5h-25.5zM367.2 274h25.5v25.5h-25.5zM389.5 241.4h25.5v25.5h-25.5zM411.9 218.3h25.5v25.5h-25.5zM434.3 205.8h25.5v25.5h-25.5zM456.7 197.3h25.5v25.5h-25.5zM479.1 192.6h25.5v25.5h-25.5zM501.4 190.4h25.5v25.5h-25.5zM523.8 192.9h25.5v25.5h-25.5zM546.2 197.5h25.5v25.5h-25.5zM568.6 205.4h25.5v25.5h-25.5zM591 216.2h25.5v25.5h-25.5zM613.3 229h25.5v25.5h-25.5zM635.7 243.3h25.5v25.5h-25.5zM658.1 258.2h25.5v25.5h-25.5zM680.5 276.9h25.5v25.5h-25.5zM702.9 301.2h25.5v25.5h-25.5zM725.2 332.4h25.5v25.5h-25.5zM747.6 367.9h25.5v25.5h-25.5zM770 412.9h25.5v25.5h-25.5zM792.4 484.3h25.5v25.5h-25.5zM814.8 545.5h25.5v25.5h-25.5zM837.1 608.6h25.5v25.5h-25.5zM859.5 670h25.5v25.5h-25.5zM881.9 728.6h25.5v25.5h-25.5zM904.3 785.4h25.5v25.5h-25.5zM926.7 835.6h25.5v25.5h-25.5zM949 880.6h25.5v25.5h-25.5zM971.4 919.4h25.5v25.5h-25.5zM993.8 958.5h25.5v25.5h-25.5zM1016.2 989.9h25.5v25.5h-25.5zM1038.6 1020h25.5v25.5h-25.5zM1060.9 1041.3h25.5v25.5h-25.5zM1083.3 1061.5h25.5v25.5h-25.5zM1105.7 1076.3h25.5v25.5h-25.5zM1128.1 1089.1h25.5v25.5h-25.5zM1150.5 1099.5h25.5v25.5h-25.5zM1172.8 1108.8h25.5v25.5h-25.5zM1195.2 1114.8h25.5v25.5h-25.5zM1217.6 1119.7h25.5v25.5h-25.5zM1240 1123.9h25.5v25.5h-25.5zM1262.4 1127.4h25.5v25.5h-25.5zM1284.7 1130h25.5v25.5h-25.5zM1307.1 1131.7h25.5v25.5h-25.5zM1329.5 1133h25.5v25.5h-25.5zM1351.9 1134.1h25.5v25.5h-25.5zM1374.3 1134.9h25.5v25.5h-25.5zM1396.6 1135.5h25.5v25.5h-25.5zM1419 1136h25.5v25.5h-25.5zM1441.4 1136.5h25.5v25.5h-25.5zM1463.8 1136.9h25.5v25.5h-25.5zM1486.2 1137.3h25.5v25.5h-25.5zM1508.5 1137.6h25.5v25.5h-25.5zM1530.9 1137.9h25.5v25.5h-25.5zM1553.3 1138.1h25.5v25.5h-25.5zM1575.7 1138.2h25.5v25.5h-25.5zM1598.1 1138.2h25.5v25.5h-25.5z"/><path fill="#1A6FDF" d="M298.9 427.2a13.9 13.9 0 1 0 27.8 0a13.9 13.9 0 1 0 -27.8 0zM321.3 380.1a13.9 13.9 0 1 0 27.8 0a13.9 13.9 0 1 0 -27.8 0zM343.6 339.9a13.9 13.9 0 1 0 27.8 0a13.9 13.9 0 1 0 -27.8 0zM366 305.4a13.9 13.9 0 1 0 27.8 0a13.9 13.9 0 1 0 -27.8 0zM388.4 274.4a13.9 13.9 0 1 0 27.8 0a13.9 13.9 0 1 0 -27.8 0zM276.5 506a13.9 13.9 0 1 0 27.8 0a13.9 13.9 0 1 0 -27.8 0zM298.9 453.2a13.9 13.9 0 1 0 27.8 0a13.9 13.9 0 1 0 -27.8 0zM321.3 402.6a13.9 13.9 0 1 0 27.8 0a13.9 13.9 0 1 0 -27.8 0zM343.6 359.2a13.9 13.9 0 1 0 27.8 0a13.9 13.9 0 1 0 -27.8 0zM366 322a13.9 13.9 0 1 0 27.8 0a13.9 13.9 0 1 0 -27.8 0zM388.4 289.8a13.9 13.9 0 1 0 27.8 0a13.9 13.9 0 1 0 -27.8 0zM410.8 262.7a13.9 13.9 0 1 0 27.8 0a13.9 13.9 0 1 0 -27.8 0zM433.2 248.4a13.9 13.9 0 1 0 27.8 0a13.9 13.9 0 1 0 -27.8 0zM455.5 238.6a13.9 13.9 0 1 0 27.8 0a13.9 13.9 0 1 0 -27.8 0zM477.9 230.8a13.9 13.9 0 1 0 27.8 0a13.9 13.9 0 1 0 -27.8 0zM500.3 223.3a13.9 13.9 0 1 0 27.8 0a13.9 13.9 0 1 0 -27.8 0zM522.7 214.8a13.9 13.9 0 1 0 27.8 0a13.9 13.9 0 1 0 -27.8 0zM545.1 212.1a13.9 13.9 0 1 0 27.8 0a13.9 13.9 0 1 0 -27.8 0zM567.4 213.7a13.9 13.9 0 1 0 27.8 0a13.9 13.9 0 1 0 -27.8 0zM589.8 220a13.9 13.9 0 1 0 27.8 0a13.9 13.9 0 1 0 -27.8 0zM612.2 231.4a13.9 13.9 0 1 0 27.8 0a13.9 13.9 0 1 0 -27.8 0zM634.6 246.9a13.9 13.9 0 1 0 27.8 0a13.9 13.9 0 1 0 -27.8 0zM657 266.4a13.9 13.9 0 1 0 27.8 0a13.9 13.9 0 1 0 -27.8 0zM679.3 290.3a13.9 13.9 0 1 0 27.8 0a13.9 13.9 0 1 0 -27.8 0zM701.7 323a13.9 13.9 0 1 0 27.8 0a13.9 13.9 0 1 0 -27.8 0zM724.1 369.3a13.9 13.9 0 1 0 27.8 0a13.9 13.9 0 1 0 -27.8 0zM746.5 422.6a13.9 13.9 0 1 0 27.8 0a13.9 13.9 0 1 0 -27.8 0zM768.9 480a13.9 13.9 0 1 0 27.8 0a13.9 13.9 0 1 0 -27.8 0zM791.2 537.3a13.9 13.9 0 1 0 27.8 0a13.9 13.9 0 1 0 -27.8 0zM813.6 594.3a13.9 13.9 0 1 0 27.8 0a13.9 13.9 0 1 0 -27.8 0zM836 652.1a13.9 13.9 0 1 0 27.8 0a13.9 13.9 0 1 0 -27.8 0zM858.4 707.5a13.9 13.9 0 1 0 27.8 0a13.9 13.9 0 1 0 -27.8 0zM880.8 773.3a13.9 13.9 0 1 0 27.8 0a13.9 13.9 0 1 0 -27.8 0zM903.1 832.7a13.9 13.9 0 1 0 27.8 0a13.9 13.9 0 1 0 -27.8 0zM925.5 885.4a13.9 13.9 0 1 0 27.8 0a13.9 13.9 0 1 0 -27.8 0zM947.9 929.1a13.9 13.9 0 1 0 27.8 0a13.9 13.9 0 1 0 -27.8 0zM970.3 968.5a13.9 13.9 0 1 0 27.8 0a13.9 13.9 0 1 0 -27.8 0zM992.7 1011.6a13.9 13.9 0 1 0 27.8 0a13.9 13.9 0 1 0 -27.8 0zM1015 1047.7a13.9 13.9 0 1 0 27.8 0a13.9 13.9 0 1 0 -27.8 0zM1037.4 1071.3a13.9 13.9 0 1 0 27.8 0a13.9 13.9 0 1 0 -27.8 0zM1059.8 1091a13.9 13.9 0 1 0 27.8 0a13.9 13.9 0 1 0 -27.8 0zM1082.2 1105.8a13.9 13.9 0 1 0 27.8 0a13.9 13.9 0 1 0 -27.8 0zM1104.5 1117.2a13.9 13.9 0 1 0 27.8 0a13.9 13.9 0 1 0 -27.8 0zM1126.9 1126a13.9 13.9 0 1 0 27.8 0a13.9 13.9 0 1 0 -27.8 0zM1149.3 1133a13.9 13.9 0 1 0 27.8 0a13.9 13.9 0 1 0 -27.8 0zM1171.7 1138.4a13.9 13.9 0 1 0 27.8 0a13.9 13.9 0 1 0 -27.8 0zM1194.1 1142a13.9 13.9 0 1 0 27.8 0a13.9 13.9 0 1 0 -27.8 0zM1216.4 1144.4a13.9 13.9 0 1 0 27.8 0a13.9 13.9 0 1 0 -27.8 0zM1238.8 1146.2a13.9 13.9 0 1 0 27.8 0a13.9 13.9 0 1 0 -27.8 0zM1261.2 1147.8a13.9 13.9 0 1 0 27.8 0a13.9 13.9 0 1 0 -27.8 0zM1283.6 1148.9a13.9 13.9 0 1 0 27.8 0a13.9 13.9 0 1 0 -27.8 0zM1306 1149.6a13.9 13.9 0 1 0 27.8 0a13.9 13.9 0 1 0 -27.8 0zM1328.3 1150.1a13.9 13.9 0 1 0 27.8 0a13.9 13.9 0 1 0 -27.8 0zM1350.7 1150.6a13.9 13.9 0 1 0 27.8 0a13.9 13.9 0 1 0 -27.8 0zM1373.1 1150.9a13.9 13.9 0 1 0 27.8 0a13.9 13.9 0 1 0 -27.8 0zM1395.5 1151.1a13.9 13.9 0 1 0 27.8 0a13.9 13.9 0 1 0 -27.8 0zM1417.9 1151.3a13.9 13.9 0 1 0 27.8 0a13.9 13.9 0 1 0 -27.8 0zM1440.2 1151.4a13.9 13.9 0 1 0 27.8 0a13.9 13.9 0 1 0 -27.8 0zM1462.6 1151.6a13.9 13.9 0 1 0 27.8 0a13.9 13.9 0 1 0 -27.8 0zM1485 1151.7a13.9 13.9 0 1 0 27.8 0a13.9 13.9 0 1 0 -27.8 0zM1507.4 1151.8a13.9 13.9 0 1 0 27.8 0a13.9 13.9 0 1 0 -27.8 0zM1529.8 1151.9a13.9 13.9 0 1 0 27.8 0a13.9 13.9 0 1 0 -27.8 0zM1552.1 1151.9a13.9 13.9 0 1 0 27.8 0a13.9 13.9 0 1 0 -27.8 0zM1574.5 1152a13.9 13.9 0 1 0 27.8 0a13.9 13.9 0 1 0 -27.8 0zM1596.9 1152a13.9 13.9 0 1 0 27.8 0a13.9 13.9 0 1 0 -27.8 0z"/><path fill="#F14040" d="M312.8 635.1L329.6 661.6L295.9 661.6zM335.2 513.9L352 540.4L318.3 540.4zM357.5 406.6L374.4 433.1L340.7 433.1zM379.9 336.3L396.7 362.8L363.1 362.8zM402.3 299.5L419.1 326L385.5 326zM290.4 781.6L307.2 808.1L273.6 808.1zM312.8 689.5L329.6 716L295.9 716zM335.2 576.9L352 603.4L318.3 603.4zM357.5 455.9L374.4 482.4L340.7 482.4zM379.9 367.1L396.7 393.7L363.1 393.7zM402.3 314.4L419.1 340.9L385.5 340.9zM424.7 288.8L441.5 315.3L407.8 315.3zM447.1 274.2L463.9 300.7L430.2 300.7zM469.4 262.3L486.3 288.9L452.6 288.9zM491.8 252.5L508.6 279L475 279zM514.2 244.7L531 271.2L497.4 271.2zM536.6 239.2L553.4 265.7L519.7 265.7zM559 236.7L575.8 263.2L542.1 263.2zM581.3 236.3L598.2 262.8L564.5 262.8zM603.7 240.4L620.5 266.9L586.9 266.9zM626.1 248.6L642.9 275.1L609.3 275.1zM648.5 261.1L665.3 287.7L631.6 287.7zM670.9 279.2L687.7 305.7L654 305.7zM693.2 303.4L710.1 329.9L676.4 329.9zM715.6 334.9L732.4 361.4L698.8 361.4zM738 378.7L754.8 405.2L721.2 405.2zM760.4 433.9L777.2 460.4L743.5 460.4zM782.8 487.2L799.6 513.7L765.9 513.7zM805.1 550.7L822 577.2L788.3 577.2zM827.5 617.1L844.3 643.6L810.7 643.6zM849.9 687.7L866.7 714.2L833.1 714.2zM872.3 749.9L889.1 776.4L855.4 776.4zM894.7 803.2L911.5 829.7L877.8 829.7zM917 850.4L933.9 876.9L900.2 876.9zM939.4 900L956.2 926.5L922.6 926.5zM961.8 934.8L978.6 961.3L945 961.3zM984.2 963.2L1001 989.8L967.3 989.8zM1006.5 990.1L1023.4 1016.7L989.7 1016.7zM1028.9 1015.2L1045.8 1041.7L1012.1 1041.7zM1051.3 1039.3L1068.1 1065.8L1034.5 1065.8zM1073.7 1058.6L1090.5 1085.1L1056.9 1085.1zM1096.1 1074.4L1112.9 1101L1079.2 1101zM1118.4 1087.2L1135.3 1113.7L1101.6 1113.7zM1140.8 1098.2L1157.7 1124.8L1124 1124.8zM1163.2 1106.8L1180 1133.4L1146.4 1133.4zM1185.6 1113.6L1202.4 1140.1L1168.8 1140.1zM1208 1118.6L1224.8 1145.1L1191.1 1145.1zM1230.3 1122.4L1247.2 1148.9L1213.5 1148.9zM1252.7 1125.4L1269.6 1151.9L1235.9 1151.9zM1275.1 1128L1291.9 1154.5L1258.3 1154.5zM1297.5 1129.9L1314.3 1156.4L1280.7 1156.4zM1319.9 1130.9L1336.7 1157.4L1303 1157.4zM1342.2 1131.7L1359.1 1158.2L1325.4 1158.2zM1364.6 1132.3L1381.5 1158.9L1347.8 1158.9zM1387 1132.8L1403.8 1159.3L1370.2 1159.3zM1409.4 1133.2L1426.2 1159.7L1392.6 1159.7zM1431.8 1133.5L1448.6 1160L1414.9 1160zM1454.1 1133.8L1471 1160.3L1437.3 1160.3zM1476.5 1134.1L1493.4 1160.6L1459.7 1160.6zM1498.9 1134.4L1515.7 1160.9L1482.1 1160.9zM1521.3 1134.6L1538.1 1161.1L1504.5 1161.1zM1543.7 1134.8L1560.5 1161.3L1526.8 1161.3zM1566 1134.9L1582.9 1161.4L1549.2 1161.4zM1588.4 1135L1605.3 1161.5L1571.6 1161.5zM1610.8 1135L1627.6 1161.5L1594 1161.5z"/><path fill="#37AD6B" d="M312.8 834.8L329.6 808.3L295.9 808.3zM335.2 712L352 685.5L318.3 685.5zM357.5 564.8L374.4 538.3L340.7 538.3zM379.9 409.3L396.7 382.8L363.1 382.8zM402.3 314.2L419.1 287.7L385.5 287.7zM290.4 971L307.2 944.5L273.6 944.5zM312.8 893.6L329.6 867.1L295.9 867.1zM335.2 708.9L352 682.4L318.3 682.4zM357.5 708.9L374.4 682.4L340.7 682.4zM379.9 484.1L396.7 457.6L363.1 457.6zM402.3 352.6L419.1 326.1L385.5 326.1zM424.7 286L441.5 259.5L407.8 259.5zM447.1 246.7L463.9 220.2L430.2 220.2zM469.4 212.8L486.3 186.2L452.6 186.2zM491.8 190.9L508.6 164.4L475 164.4zM514.2 176.9L531 150.4L497.4 150.4zM536.6 168.6L553.4 142.1L519.7 142.1zM559 164.6L575.8 138.1L542.1 138.1zM581.3 164.3L598.2 137.8L564.5 137.8zM603.7 169.6L620.5 143.1L586.9 143.1zM626.1 178.6L642.9 152.1L609.3 152.1zM648.5 191.4L665.3 164.9L631.6 164.9zM670.9 212.4L687.7 185.8L654 185.8zM693.2 242.6L710.1 216.1L676.4 216.1zM715.6 280.1L732.4 253.6L698.8 253.6zM738 324L754.8 297.4L721.2 297.4zM760.4 378.5L777.2 352L743.5 352zM782.8 446L799.6 419.5L765.9 419.5zM805.1 524.4L822 497.9L788.3 497.9zM827.5 617.4L844.3 590.9L810.7 590.9zM849.9 719.5L866.7 693L833.1 693zM872.3 803.1L889.1 776.6L855.4 776.6zM894.7 862.5L911.5 836L877.8 836zM917 919L933.9 892.5L900.2 892.5zM939.4 965.4L956.2 938.9L922.6 938.9zM961.8 1012.7L978.6 986.2L945 986.2zM984.2 1042.7L1001 1016.1L967.3 1016.1zM1006.5 1070.8L1023.4 1044.3L989.7 1044.3zM1028.9 1091.6L1045.8 1065.1L1012.1 1065.1zM1051.3 1109.5L1068.1 1082.9L1034.5 1082.9zM1073.7 1125.4L1090.5 1098.9L1056.9 1098.9zM1096.1 1136.6L1112.9 1110.1L1079.2 1110.1zM1118.4 1144.5L1135.3 1118L1101.6 1118zM1140.8 1151.4L1157.7 1124.9L1124 1124.9zM1163.2 1156.2L1180 1129.7L1146.4 1129.7zM1185.6 1159.8L1202.4 1133.3L1168.8 1133.3zM1208 1162.4L1224.8 1135.9L1191.1 1135.9zM1230.3 1164L1247.2 1137.5L1213.5 1137.5zM1252.7 1164.7L1269.6 1138.2L1235.9 1138.2zM1275.1 1165.3L1291.9 1138.7L1258.3 1138.7zM1297.5 1165.7L1314.3 1139.2L1280.7 1139.2zM1319.9 1166.1L1336.7 1139.6L1303 1139.6zM1342.2 1166.4L1359.1 1139.9L1325.4 1139.9zM1364.6 1166.7L1381.5 1140.1L1347.8 1140.1zM1387 1166.9L1403.8 1140.3L1370.2 1140.3zM1409.4 1167L1426.2 1140.5L1392.6 1140.5zM1431.8 1167.2L1448.6 1140.7L1414.9 1140.7zM1454.1 1167.4L1471 1140.8L1437.3 1140.8zM1476.5 1167.5L1493.4 1141L1459.7 1141zM1498.9 1167.6L1515.7 1141.1L1482.1 1141.1zM1521.3 1167.8L1538.1 1141.2L1504.5 1141.2zM1543.7 1167.8L1560.5 1141.3L1526.8 1141.3zM1566 1167.9L1582.9 1141.4L1549.2 1141.4zM1588.4 1168L1605.3 1141.4L1571.6 1141.4zM1610.8 1168L1627.6 1141.5L1594 1141.5z"/><path fill="#CC9900" d="M312.8 912.8L329.5 929.6L312.8 946.3L296.1 929.6zM335.2 833L351.9 849.7L335.2 866.4L318.5 849.7zM357.5 730.4L374.2 747.1L357.5 763.8L340.8 747.1zM379.9 622.5L396.6 639.2L379.9 655.9L363.2 639.2zM402.3 524.5L419 541.2L402.3 557.9L385.6 541.2zM290.4 992.7L307.1 1009.4L290.4 1026.1L273.7 1009.4zM312.8 946.3L329.5 963L312.8 979.7L296.1 963zM335.2 874.2L351.9 890.9L335.2 907.6L318.5 890.9zM357.5 786.4L374.2 803.1L357.5 819.8L340.8 803.1zM379.9 674.2L396.6 690.9L379.9 707.6L363.2 690.9zM402.3 573.3L419 590L402.3 606.7L385.6 590zM424.7 485.2L441.4 501.9L424.7 518.6L408 501.9zM447.1 432L463.8 448.7L447.1 465.4L430.4 448.7zM469.4 392.4L486.1 409.2L469.4 425.9L452.7 409.2zM491.8 358.4L508.5 375.1L491.8 391.8L475.1 375.1zM514.2 334.5L530.9 351.2L514.2 367.9L497.5 351.2zM536.6 316.7L553.3 333.4L536.6 350.1L519.9 333.4zM559 299.2L575.7 316L559 332.7L542.3 316zM581.3 281.3L598 298L581.3 314.7L564.6 298zM603.7 267.5L620.4 284.2L603.7 300.9L587 284.2zM626.1 262.3L642.8 279L626.1 295.7L609.4 279zM648.5 263.5L665.2 280.3L648.5 297L631.8 280.3zM670.9 274.7L687.6 291.4L670.9 308.1L654.2 291.4zM693.2 287.9L709.9 304.6L693.2 321.3L676.5 304.6zM715.6 304L732.3 320.7L715.6 337.4L698.9 320.7zM738 325.1L754.7 341.8L738 358.5L721.3 341.8zM760.4 354.8L777.1 371.5L760.4 388.2L743.7 371.5zM782.8 389.4L799.5 406.1L782.8 422.8L766.1 406.1zM805.1 433.4L821.8 450.2L805.1 466.9L788.4 450.2zM827.5 489.8L844.2 506.5L827.5 523.2L810.8 506.5zM849.9 550.1L866.6 566.8L849.9 583.5L833.2 566.8zM872.3 615.3L889 632L872.3 648.7L855.6 632zM894.7 678.7L911.4 695.4L894.7 712.1L877.9 695.4zM917 740.3L933.7 757L917 773.7L900.3 757zM939.4 798.9L956.1 815.6L939.4 832.3L922.7 815.6zM961.8 857.9L978.5 874.6L961.8 891.3L945.1 874.6zM984.2 907.9L1000.9 924.6L984.2 941.3L967.5 924.6zM1006.5 940.8L1023.3 957.5L1006.5 974.2L989.8 957.5zM1028.9 971L1045.6 987.7L1028.9 1004.4L1012.2 987.7zM1051.3 997L1068 1013.7L1051.3 1030.4L1034.6 1013.7zM1073.7 1018.7L1090.4 1035.4L1073.7 1052.1L1057 1035.4zM1096.1 1038.1L1112.8 1054.8L1096.1 1071.5L1079.4 1054.8zM1118.4 1054L1135.1 1070.7L1118.4 1087.4L1101.7 1070.7zM1140.8 1067.3L1157.5 1084L1140.8 1100.7L1124.1 1084zM1163.2 1077.7L1179.9 1094.4L1163.2 1111.1L1146.5 1094.4zM1185.6 1086.5L1202.3 1103.2L1185.6 1119.9L1168.9 1103.2zM1208 1094.6L1224.7 1111.3L1208 1128.1L1191.3 1111.3zM1230.3 1101.2L1247 1117.9L1230.3 1134.6L1213.6 1117.9zM1252.7 1107L1269.4 1123.7L1252.7 1140.4L1236 1123.7zM1275.1 1112.3L1291.8 1129L1275.1 1145.7L1258.4 1129zM1297.5 1116.9L1314.2 1133.6L1297.5 1150.3L1280.8 1133.6zM1319.9 1120.5L1336.6 1137.2L1319.9 1153.9L1303.2 1137.2zM1342.2 1123.5L1358.9 1140.2L1342.2 1156.9L1325.5 1140.2zM1364.6 1125.7L1381.3 1142.4L1364.6 1159.1L1347.9 1142.4zM1387 1127.5L1403.7 1144.2L1387 1160.9L1370.3 1144.2zM1409.4 1128.8L1426.1 1145.5L1409.4 1162.2L1392.7 1145.5zM1431.8 1129.9L1448.5 1146.6L1431.8 1163.3L1415.1 1146.6zM1454.1 1130.8L1470.8 1147.5L1454.1 1164.2L1437.4 1147.5zM1476.5 1131.6L1493.2 1148.3L1476.5 1165L1459.8 1148.3zM1498.9 1132.3L1515.6 1149L1498.9 1165.7L1482.2 1149zM1521.3 1132.8L1538 1149.5L1521.3 1166.2L1504.6 1149.5zM1543.7 1133.3L1560.4 1150L1543.7 1166.7L1527 1150zM1566 1133.7L1582.7 1150.4L1566 1167.2L1549.3 1150.4zM1588.4 1134.1L1605.1 1150.8L1588.4 1167.5L1571.7 1150.8zM1610.8 1134.3L1627.5 1151L1610.8 1167.7L1594.1 1151z"/><path fill="#B177DE" d="M294.3 964.9L323.2 950L323.2 979.8zM316.7 877L345.5 862.1L345.5 891.9zM339.1 760.2L367.9 745.2L367.9 775.1zM361.5 647L390.3 632.1L390.3 661.9zM383.9 562.6L412.7 547.6L412.7 577.5zM272 1049.3L300.8 1034.4L300.8 1064.2zM294.3 997.9L323.2 983L323.2 1012.8zM316.7 925.6L345.5 910.7L345.5 940.5zM339.1 822.2L367.9 807.3L367.9 837.1zM361.5 700.5L390.3 685.6L390.3 715.4zM383.9 601.4L412.7 586.5L412.7 616.3zM406.2 534.5L435.1 519.6L435.1 549.5zM428.6 501.4L457.4 486.5L457.4 516.4zM451 479.5L479.8 464.5L479.8 494.4zM473.4 455.9L502.2 441L502.2 470.8zM495.8 433.4L524.6 418.5L524.6 448.3zM518.1 416.8L546.9 401.8L546.9 431.7zM540.5 401.6L569.3 386.7L569.3 416.5zM562.9 386.6L591.7 371.7L591.7 401.5zM585.3 374.3L614.1 359.4L614.1 389.3zM607.7 366L636.5 351.1L636.5 380.9zM630 361.1L658.8 346.2L658.8 376.1zM652.4 360.4L681.2 345.5L681.2 375.3zM674.8 364.9L703.6 350L703.6 379.8zM697.2 376.1L726 361.2L726 391zM719.6 396.1L748.4 381.2L748.4 411.1zM741.9 419.9L770.7 405L770.7 434.8zM764.3 450.1L793.1 435.2L793.1 465zM786.7 485.8L815.5 470.9L815.5 500.7zM809.1 528.3L837.9 513.4L837.9 543.2zM831.4 573.1L860.3 558.1L860.3 588zM853.8 618.7L882.6 603.8L882.6 633.6zM876.2 666.7L905 651.8L905 681.6zM898.6 716.9L927.4 701.9L927.4 731.8zM921 766L949.8 751.1L949.8 780.9zM943.3 817.3L972.2 802.4L972.2 832.2zM965.7 864.3L994.5 849.4L994.5 879.3zM988.1 907.5L1016.9 892.5L1016.9 922.4zM1010.5 943.4L1039.3 928.5L1039.3 958.3zM1032.9 974.9L1061.7 960L1061.7 989.8zM1055.2 999.5L1084.1 984.6L1084.1 1014.4zM1077.6 1023.2L1106.4 1008.2L1106.4 1038.1zM1100 1042.4L1128.8 1027.5L1128.8 1057.3zM1122.4 1057L1151.2 1042L1151.2 1071.9zM1144.8 1065.4L1173.6 1050.5L1173.6 1080.4zM1167.1 1071.6L1196 1056.7L1196 1086.5zM1189.5 1079.2L1218.3 1064.3L1218.3 1094.1zM1211.9 1088.8L1240.7 1073.9L1240.7 1103.7zM1234.3 1098.9L1263.1 1084L1263.1 1113.9zM1256.7 1109.9L1285.5 1095L1285.5 1124.8zM1279 1118.3L1307.9 1103.4L1307.9 1133.2zM1301.4 1125L1330.2 1110L1330.2 1139.9zM1323.8 1130.4L1352.6 1115.5L1352.6 1145.3zM1346.2 1134.8L1375 1119.9L1375 1149.7zM1368.6 1138.4L1397.4 1123.5L1397.4 1153.3zM1390.9 1140.9L1419.8 1126L1419.8 1155.8zM1413.3 1142.8L1442.1 1127.9L1442.1 1157.7zM1435.7 1144.4L1464.5 1129.5L1464.5 1159.4zM1458.1 1145.8L1486.9 1130.9L1486.9 1160.7zM1480.5 1146.9L1509.3 1132L1509.3 1161.9zM1502.8 1148L1531.7 1133.1L1531.7 1162.9zM1525.2 1148.9L1554 1134L1554 1163.9zM1547.6 1149.8L1576.4 1134.9L1576.4 1164.7zM1570 1150.5L1598.8 1135.6L1598.8 1165.4zM1592.4 1151L1621.2 1136.1L1621.2 1165.9z"/><path fill="#5EE54A" d="M320 1143.4L291.2 1128.5L291.2 1158.3zM342.4 1132.9L313.6 1118L313.6 1147.9zM364.8 1119.1L336 1104.1L336 1134zM387.2 1101L358.4 1086.1L358.4 1115.9zM409.6 1083.6L380.7 1068.7L380.7 1098.5zM431.9 1053.3L403.1 1038.4L403.1 1068.2zM308.8 1147L280 1132.1L280 1161.9zM331.2 1138.5L302.4 1123.6L302.4 1153.4zM353.6 1126.4L324.8 1111.5L324.8 1141.4zM376 1110.3L347.2 1095.4L347.2 1125.2zM398.4 1092.5L369.5 1077.6L369.5 1107.4zM420.7 1072.3L391.9 1057.3L391.9 1087.2zM443.1 1026.6L414.3 1011.6L414.3 1041.5zM465.5 991.9L436.7 977L436.7 1006.8zM487.9 956.7L459.1 941.8L459.1 971.6zM510.3 894.9L481.4 879.9L481.4 909.8zM532.6 894.9L503.8 879.9L503.8 909.8zM555 850.4L526.2 835.5L526.2 865.3zM577.4 793.1L548.6 778.2L548.6 808.1zM599.8 712.8L571 697.9L571 727.7zM622.2 640.6L593.3 625.7L593.3 655.5zM644.5 555.4L615.7 540.5L615.7 570.3zM666.9 472.9L638.1 458L638.1 487.9zM689.3 404L660.5 389.1L660.5 418.9zM711.7 345.9L682.9 331L682.9 360.8zM734.1 295L705.2 280L705.2 309.9zM756.4 252.6L727.6 237.7L727.6 267.5zM778.8 252.6L750 237.7L750 267.5zM801.2 229.9L772.4 215L772.4 244.8zM823.6 213.5L794.8 198.5L794.8 228.4zM846 198.3L817.1 183.4L817.1 213.2zM868.3 207.9L839.5 193L839.5 222.8zM890.7 225.7L861.9 210.8L861.9 240.6zM913.1 246.9L884.3 232L884.3 261.8zM935.5 277.7L906.7 262.8L906.7 292.7zM957.9 321.8L929 306.9L929 336.8zM980.2 387.6L951.4 372.7L951.4 402.5zM1002.6 387.6L973.8 372.7L973.8 402.5zM1025 443.5L996.2 428.6L996.2 458.4zM1047.4 515.7L1018.6 500.8L1018.6 530.7zM1069.8 595.1L1040.9 580.2L1040.9 610zM1092.1 671.2L1063.3 656.3L1063.3 686.1zM1114.5 743.6L1085.7 728.7L1085.7 758.5zM1136.9 811.3L1108.1 796.4L1108.1 826.3zM1159.3 872L1130.5 857.1L1130.5 886.9zM1181.6 930.8L1152.8 915.8L1152.8 945.7zM1204 982L1175.2 967.1L1175.2 996.9zM1226.4 982L1197.6 967.1L1197.6 996.9zM1248.8 1014.6L1220 999.6L1220 1029.5zM1271.2 1044.3L1242.4 1029.4L1242.4 1059.2zM1293.5 1067.3L1264.7 1052.4L1264.7 1082.3zM1315.9 1086.5L1287.1 1071.6L1287.1 1101.4zM1338.3 1103L1309.5 1088.1L1309.5 1117.9zM1360.7 1115.8L1331.9 1100.9L1331.9 1130.7zM1383.1 1123.6L1354.3 1108.6L1354.3 1138.5zM1405.4 1129.1L1376.6 1114.2L1376.6 1144zM1427.8 1133.4L1399 1118.5L1399 1148.3zM1450.2 1137.1L1421.4 1122.1L1421.4 1152zM1472.6 1140.1L1443.8 1125.2L1443.8 1155.1zM1495 1142.3L1466.1 1127.3L1466.1 1157.2zM1517.3 1143.7L1488.5 1128.7L1488.5 1158.6zM1539.7 1144.7L1510.9 1129.8L1510.9 1159.6zM1562.1 1145.7L1533.3 1130.7L1533.3 1160.6zM1584.5 1146.7L1555.7 1131.7L1555.7 1161.6zM1606.9 1147.8L1578 1132.9L1578 1162.7zM1629.2 1149L1600.4 1134.1L1600.4 1163.9z"/></g>
<g fill="none" stroke="#000" stroke-width="3.8" stroke-linejoin="round"><polyline points="290.4,534.8 312.8,442.7 335.2,388.2 357.5,338.4 357.5,314.1 379.9,294.2 402.3,262.2 402.3,249.7 424.7,239.5 447.1,227.2 469.4,218.9 491.8,214.3 514.2,212.1 536.6,214.6 559,219.1 581.3,226.9 603.7,237.4 626.1,250 648.5,264.1 670.9,278.7 693.2,297.1 715.6,321 738,351.6 760.4,386.6 782.8,430.9 805.1,501.3 827.5,561.8 849.9,624.1 872.3,684.9 894.7,743 917,799.4 939.4,849.3 961.8,894 984.2,932.7 1006.5,971.6 1028.9,1002.9 1051.3,1032.9 1073.7,1054.2 1096.1,1074.3 1118.4,1089.1 1140.8,1101.9 1163.2,1112.2 1185.6,1121.5 1208,1127.5 1230.3,1132.5 1252.7,1136.6 1275.1,1140.1 1297.5,1142.8 1319.9,1144.4 1342.2,1145.8 1364.6,1146.8 1387,1147.6 1409.4,1148.2 1431.8,1148.7 1454.1,1149.2 1476.5,1149.6 1498.9,1150 1521.3,1150.4 1543.7,1150.6 1566,1150.8 1588.4,1151 1610.8,1151"/><polyline points="290.4,508.4 312.8,456 335.2,405.8 357.5,362.8 379.9,325.9 402.3,294 424.7,267.2 447.1,253 469.4,243.4 491.8,235.6 514.2,228.2 536.6,219.8 559,217.1 581.3,218.7 603.7,225 626.1,236.2 648.5,251.5 670.9,270.8 693.2,294.5 715.6,326.9 738,372.8 760.4,425.6 782.8,482.6 805.1,539.5 827.5,596.1 849.9,653.5 872.3,708.6 894.7,774.1 917,833.3 939.4,885.8 961.8,929.4 984.2,968.7 1006.5,1011.7 1028.9,1047.7 1051.3,1071.3 1073.7,1091 1096.1,1105.8 1118.4,1117.2 1140.8,1126 1163.2,1133 1185.6,1138.4 1208,1142 1230.3,1144.4 1252.7,1146.2 1275.1,1147.8 1297.5,1148.9 1319.9,1149.6 1342.2,1150.1 1364.6,1150.6 1387,1150.9 1409.4,1151.1 1431.8,1151.3 1454.1,1151.4 1476.5,1151.6 1498.9,1151.7 1521.3,1151.8 1543.7,1151.9 1566,1151.9 1588.4,1152 1610.8,1152"/><polyline points="290.4,797.3 312.8,704.5 312.8,642 335.2,590.8 335.2,523.4 357.5,468.3 357.5,418.8 379.9,378.3 379.9,348.8 402.3,324.7 424.7,298.7 447.1,283.8 469.4,271.8 491.8,261.8 514.2,253.8 536.6,248.2 559,245.7 581.3,245.3 603.7,249.4 626.1,257.8 648.5,270.6 670.9,288.9 693.2,313.6 715.6,345.5 738,390 760.4,446 782.8,500 805.1,564.3 827.5,631.4 849.9,702.6 872.3,765.4 894.7,819 917,866.6 939.4,916.4 961.8,951.4 984.2,979.9 1006.5,1006.9 1028.9,1032 1051.3,1056.2 1073.7,1075.5 1096.1,1091.4 1118.4,1104.2 1140.8,1115.2 1163.2,1123.8 1185.6,1130.5 1208,1135.6 1230.3,1139.3 1252.7,1142.3 1275.1,1145 1297.5,1146.9 1319.9,1147.9 1342.2,1148.7 1364.6,1149.3 1387,1149.8 1409.4,1150.1 1431.8,1150.5 1454.1,1150.8 1476.5,1151.1 1498.9,1151.3 1521.3,1151.6 1543.7,1151.7 1566,1151.9 1588.4,1152 1610.8,1152"/><polyline points="290.4,954.2 312.8,876.9 312.8,775.5 335.2,692.6 335.2,692.6 357.5,692.6 357.5,569.3 379.9,468.5 379.9,396.5 402.3,337.6 402.3,301.2 424.7,271.4 447.1,232.3 469.4,198.5 491.8,176.8 514.2,162.9 536.6,154.6 559,150.6 581.3,150.4 603.7,155.6 626.1,164.6 648.5,177.3 670.9,198.1 693.2,228.2 715.6,265.4 738,309.1 760.4,363.4 782.8,430.6 805.1,508.6 827.5,601.3 849.9,703.1 872.3,786.5 894.7,845.8 917,902.2 939.4,948.5 961.8,995.8 984.2,1025.7 1006.5,1053.8 1028.9,1074.7 1051.3,1092.5 1073.7,1108.4 1096.1,1119.6 1118.4,1127.5 1140.8,1134.5 1163.2,1139.3 1185.6,1142.8 1208,1145.4 1230.3,1147 1252.7,1147.7 1275.1,1148.3 1297.5,1148.8 1319.9,1149.1 1342.2,1149.4 1364.6,1149.7 1387,1149.9 1409.4,1150.1 1431.8,1150.2 1454.1,1150.4 1476.5,1150.5 1498.9,1150.7 1521.3,1150.8 1543.7,1150.9 1566,1150.9 1588.4,1151 1610.8,1151"/><polyline points="290.4,1009.6 312.8,963.4 335.2,891.7 335.2,843.7 357.5,804.4 357.5,743.2 379.9,693.1 379.9,638.2 402.3,593.3 402.3,545.5 424.7,506.4 447.1,453.9 469.4,414.9 491.8,381.4 514.2,357.9 536.6,340.4 559,323.3 581.3,305.6 603.7,292.1 626.1,287 648.5,288.2 670.9,299.2 693.2,312.1 715.6,328 738,348.7 760.4,377.9 782.8,411.9 805.1,455.3 827.5,510.9 849.9,570.4 872.3,634.8 894.7,697.6 917,758.6 939.4,816.8 961.8,875.4 984.2,925.2 1006.5,957.9 1028.9,987.9 1051.3,1013.9 1073.7,1035.5 1096.1,1054.9 1118.4,1070.7 1140.8,1084.1 1163.2,1094.4 1185.6,1103.2 1208,1111.4 1230.3,1118 1252.7,1123.7 1275.1,1129 1297.5,1133.6 1319.9,1137.2 1342.2,1140.2 1364.6,1142.4 1387,1144.2 1409.4,1145.5 1431.8,1146.6 1454.1,1147.5 1476.5,1148.3 1498.9,1149 1521.3,1149.5 1543.7,1150 1566,1150.4 1588.4,1150.8 1610.8,1151"/><polyline points="290.4,1049.5 312.8,998.4 335.2,926.7 335.2,870.6 357.5,824.6 357.5,758.9 379.9,705 379.9,651.8 402.3,608.2 402.3,572.4 424.7,543.1 447.1,510.9 469.4,489.6 491.8,466.7 514.2,444.9 536.6,428.8 559,414.2 581.3,399.7 603.7,387.8 626.1,379.8 648.5,375.1 670.9,374.4 693.2,378.7 715.6,389.5 738,408.9 760.4,431.9 782.8,461.1 805.1,495.7 827.5,537 849.9,580.5 872.3,625.1 894.7,671.9 917,721.1 939.4,769.3 961.8,819.8 984.2,866.2 1006.5,908.8 1028.9,944.4 1051.3,975.6 1073.7,1000 1096.1,1023.5 1118.4,1042.7 1140.8,1056.8 1163.2,1072.1 1185.6,1087.8 1208,1100.5 1230.3,1110.1 1252.7,1118 1275.1,1123.4 1297.5,1126.8 1319.9,1129.4 1342.2,1131.8 1364.6,1134.7 1387,1138.3 1409.4,1140.9 1431.8,1142.8 1454.1,1144.4 1476.5,1145.8 1498.9,1146.9 1521.3,1148 1543.7,1148.9 1566,1149.8 1588.4,1150.5 1610.8,1151"/><polyline points="290.4,1147 312.8,1138.5 335.2,1126.4 357.5,1110.3 379.9,1092.5 402.3,1072.3 424.7,1026.6 447.1,991.9 469.4,956.7 491.8,894.9 514.2,894.9 536.6,850.4 559,793.1 581.3,712.8 603.7,640.6 626.1,555.4 648.5,472.9 670.9,404 693.2,345.9 715.6,295 738,252.6 760.4,252.6 782.8,229.9 805.1,213.5 827.5,198.3 849.9,207.9 872.3,225.7 894.7,246.9 917,277.7 939.4,321.8 961.8,387.6 984.2,387.6 1006.5,443.5 1028.9,515.7 1051.3,595.1 1073.7,671.2 1096.1,743.6 1118.4,811.3 1140.8,872 1163.2,930.8 1185.6,982 1208,982 1230.3,1014.6 1252.7,1044.3 1275.1,1067.3 1297.5,1086.5 1319.9,1103 1342.2,1115.8 1364.6,1123.6 1387,1129.1 1409.4,1133.4 1431.8,1137.1 1454.1,1140.1 1476.5,1142.3 1498.9,1143.7 1521.3,1144.7 1543.7,1145.7 1566,1146.7 1588.4,1147.8 1610.8,1149"/></g>
</g>
<path fill="none" stroke="#000" stroke-width="4.6" stroke-linejoin="miter" d="M290.4 52.7H1610.8V1274.5H290.4z"/>
<path fill="none" stroke="#000" stroke-width="3.8" stroke-linecap="butt" d="M290.4 1274.5h-11M290.4 1180.5h-23M290.4 1086.5h-11M290.4 992.5h-23M290.4 898.6h-11M290.4 804.6h-23M290.4 710.6h-11M290.4 616.6h-23M290.4 522.6h-11M290.4 428.6h-23M290.4 334.7h-11M290.4 240.7h-23M290.4 146.7h-11M290.4 52.7h-23M290.4 1274.5v23M356.6 1274.5v11M395.4 1274.5v11M422.9 1274.5v11M444.2 1274.5v11M461.6 1274.5v11M476.4 1274.5v11M489.1 1274.5v11M500.4 1274.5v11M510.5 1274.5v23M576.7 1274.5v11M615.5 1274.5v11M643 1274.5v11M664.3 1274.5v11M681.7 1274.5v11M696.4 1274.5v11M709.2 1274.5v11M720.5 1274.5v11M730.5 1274.5v23M796.8 1274.5v11M835.5 1274.5v11M863 1274.5v11M884.4 1274.5v11M901.8 1274.5v11M916.5 1274.5v11M929.3 1274.5v11M940.5 1274.5v11M950.6 1274.5v23M1016.8 1274.5v11M1055.6 1274.5v11M1083.1 1274.5v11M1104.4 1274.5v11M1121.8 1274.5v11M1136.6 1274.5v11M1149.3 1274.5v11M1160.6 1274.5v11M1170.7 1274.5v23M1236.9 1274.5v11M1275.7 1274.5v11M1303.2 1274.5v11M1324.5 1274.5v11M1341.9 1274.5v11M1356.6 1274.5v11M1369.4 1274.5v11M1380.7 1274.5v11M1390.7 1274.5v23M1457 1274.5v11M1495.7 1274.5v11M1523.2 1274.5v11M1544.6 1274.5v11M1562 1274.5v11M1576.7 1274.5v11M1589.5 1274.5v11M1600.7 1274.5v11M1610.8 1274.5v23"/>
<g font-size="60">
<text x="250.4" y="1200" text-anchor="end">0</text>
<text x="250.4" y="1012" text-anchor="end">1000</text>
<text x="250.4" y="824.1" text-anchor="end">2000</text>
<text x="250.4" y="636.1" text-anchor="end">3000</text>
<text x="250.4" y="448.1" text-anchor="end">4000</text>
<text x="250.4" y="260.2" text-anchor="end">5000</text>
<text x="250.4" y="72.2" text-anchor="end">6000</text>
<text x="1636.8" y="1171.8">0</text>
<text x="1636.8" y="927.5">20</text>
<text x="1636.8" y="683.1">40</text>
<text x="1636.8" y="438.7">60</text>
<text x="1636.8" y="194.4">80</text>
<text x="290.4" y="1360" text-anchor="middle">0.1</text>
<text x="510.5" y="1360" text-anchor="middle">1</text>
<text x="730.5" y="1360" text-anchor="middle">10</text>
<text x="950.6" y="1360" text-anchor="middle">100</text>
<text x="1170.7" y="1360" text-anchor="middle">1000</text>
<text x="1390.7" y="1360" text-anchor="middle">10000</text>
<text x="1610.8" y="1360" text-anchor="middle">100000</text>
</g>
<g font-size="85" text-anchor="middle">
<text letter-spacing="0.8" transform="translate(98.9 665.6) rotate(-90)">|Z| (Ω·cm<tspan font-size="52" dy="-30">-2</tspan><tspan dy="30">)</tspan></text>
<text transform="translate(1785.8 663.6) rotate(-90)">θ (deg)</text>
<text x="950.6" y="1482" font-size="85">f (Hz)</text>
</g>
<g font-size="56.5">
<path fill="#515151" d="M1270.8 259.4h21.5v21.5h-21.5z"/>
<text x="1361.5" y="287.7">1day</text>
<path fill="#1A6FDF" d="M1270.5 340.4a11 11 0 1 0 21.9 0a11 11 0 1 0 -21.9 0z"/>
<text x="1361.5" y="357.9">2day</text>
<path fill="#F14040" d="M1281.5 396.9L1294.5 418.4L1268.5 418.4z"/>
<text x="1361.5" y="428.2">3day</text>
<path fill="#37AD6B" d="M1281.5 494.7L1294.5 473.2L1268.5 473.2z"/>
<text x="1361.5" y="498.4">5day</text>
<path fill="#CC9900" d="M1281.5 538L1294.7 551.2L1281.5 564.4L1268.3 551.2z"/>
<text x="1361.5" y="568.7">7day</text>
<path fill="#B177DE" d="M1267.3 621.5L1289.5 608.9L1289.5 634z"/>
<text x="1361.5" y="639">10day</text>
<path fill="#5EE54A" d="M1295.7 691.7L1273.5 679.1L1273.5 704.3z"/>
<text x="1361.5" y="709.2">14day</text>
</g>
<text x="884.3" y="1600" font-size="82" text-anchor="middle" font-family='"Liberation Serif", "DejaVu Serif", serif'>(<tspan font-weight="bold">e</tspan>)</text>
</g>
<g id="plot-f">
<clipPath id="clip-f"><rect x="2131.1" y="38" width="1300.5" height="1205"/></clipPath>
<path fill="none" stroke="#000" stroke-width="3.8" d="M3431.6 1133.5h-23M3431.6 1023.9h-11M3431.6 914.4h-23M3431.6 804.8h-11M3431.6 695.3h-23M3431.6 585.7h-11M3431.6 476.2h-23M3431.6 366.6h-11M3431.6 257.1h-23M3431.6 147.5h-11"/>
<g clip-path="url(#clip-f)">
<g><path fill="#515151" d="M2121.9 1043h18.4v18.4h-18.4zM2143.9 1062h18.4v18.4h-18.4zM2166 1076.1h18.4v18.4h-18.4zM2188 1090.1h18.4v18.4h-18.4zM2210.1 1097.5h18.4v18.4h-18.4zM2232.1 1102.7h18.4v18.4h-18.4zM2254.2 1107.8h18.4v18.4h-18.4zM2276.2 1112h18.4v18.4h-18.4zM2298.2 1115.7h18.4v18.4h-18.4zM2320.3 1118.9h18.4v18.4h-18.4zM2342.3 1121.9h18.4v18.4h-18.4zM2364.4 1124.5h18.4v18.4h-18.4zM2386.4 1126.3h18.4v18.4h-18.4zM2408.5 1127.8h18.4v18.4h-18.4zM2430.5 1129.2h18.4v18.4h-18.4zM2452.5 1130.4h18.4v18.4h-18.4zM2474.6 1131.3h18.4v18.4h-18.4zM2496.6 1131.9h18.4v18.4h-18.4zM2518.7 1132.2h18.4v18.4h-18.4zM2540.7 1132.3h18.4v18.4h-18.4zM2562.7 1132.4h18.4v18.4h-18.4zM2584.8 1132.5h18.4v18.4h-18.4zM2606.8 1132.6h18.4v18.4h-18.4zM2628.9 1132.7h18.4v18.4h-18.4zM2650.9 1132.8h18.4v18.4h-18.4zM2673 1132.9h18.4v18.4h-18.4zM2695 1133h18.4v18.4h-18.4zM2717 1133.1h18.4v18.4h-18.4zM2739.1 1133.2h18.4v18.4h-18.4zM2761.1 1133.2h18.4v18.4h-18.4zM2783.2 1133.3h18.4v18.4h-18.4zM2805.2 1133.4h18.4v18.4h-18.4zM2827.3 1133.4h18.4v18.4h-18.4zM2849.3 1133.5h18.4v18.4h-18.4zM2871.3 1133.6h18.4v18.4h-18.4zM2893.4 1133.6h18.4v18.4h-18.4zM2915.4 1133.7h18.4v18.4h-18.4zM2937.5 1133.7h18.4v18.4h-18.4zM2959.5 1133.8h18.4v18.4h-18.4zM2981.6 1133.8h18.4v18.4h-18.4zM3003.6 1133.8h18.4v18.4h-18.4zM3025.6 1133.9h18.4v18.4h-18.4zM3047.7 1133.9h18.4v18.4h-18.4zM3069.7 1133.9h18.4v18.4h-18.4zM3091.8 1134h18.4v18.4h-18.4zM3113.8 1134h18.4v18.4h-18.4zM3135.8 1134h18.4v18.4h-18.4zM3157.9 1134h18.4v18.4h-18.4zM3179.9 1134.1h18.4v18.4h-18.4zM3202 1134.1h18.4v18.4h-18.4zM3224 1134.1h18.4v18.4h-18.4zM3246.1 1134.1h18.4v18.4h-18.4zM3268.1 1134.1h18.4v18.4h-18.4zM3290.1 1134.1h18.4v18.4h-18.4zM3312.2 1134.1h18.4v18.4h-18.4zM3334.2 1134.1h18.4v18.4h-18.4zM3356.3 1134.1h18.4v18.4h-18.4zM3378.3 1134.1h18.4v18.4h-18.4zM3400.4 1134.2h18.4v18.4h-18.4zM3422.4 1134.2h18.4v18.4h-18.4z"/><path fill="#1A6FDF" d="M2120.5 1040.5a10.6 10.6 0 1 0 21.3 0a10.6 10.6 0 1 0 -21.3 0zM2142.5 1057.8a10.6 10.6 0 1 0 21.3 0a10.6 10.6 0 1 0 -21.3 0zM2164.6 1073.4a10.6 10.6 0 1 0 21.3 0a10.6 10.6 0 1 0 -21.3 0zM2186.6 1087.3a10.6 10.6 0 1 0 21.3 0a10.6 10.6 0 1 0 -21.3 0zM2208.6 1097.9a10.6 10.6 0 1 0 21.3 0a10.6 10.6 0 1 0 -21.3 0zM2230.7 1106.6a10.6 10.6 0 1 0 21.3 0a10.6 10.6 0 1 0 -21.3 0zM2252.7 1113.5a10.6 10.6 0 1 0 21.3 0a10.6 10.6 0 1 0 -21.3 0zM2274.8 1118.8a10.6 10.6 0 1 0 21.3 0a10.6 10.6 0 1 0 -21.3 0zM2296.8 1123.5a10.6 10.6 0 1 0 21.3 0a10.6 10.6 0 1 0 -21.3 0zM2318.9 1127.2a10.6 10.6 0 1 0 21.3 0a10.6 10.6 0 1 0 -21.3 0zM2340.9 1130.4a10.6 10.6 0 1 0 21.3 0a10.6 10.6 0 1 0 -21.3 0zM2362.9 1133a10.6 10.6 0 1 0 21.3 0a10.6 10.6 0 1 0 -21.3 0zM2385 1134.9a10.6 10.6 0 1 0 21.3 0a10.6 10.6 0 1 0 -21.3 0zM2407 1136.5a10.6 10.6 0 1 0 21.3 0a10.6 10.6 0 1 0 -21.3 0zM2429.1 1137.9a10.6 10.6 0 1 0 21.3 0a10.6 10.6 0 1 0 -21.3 0zM2451.1 1139.2a10.6 10.6 0 1 0 21.3 0a10.6 10.6 0 1 0 -21.3 0zM2473.2 1140.1a10.6 10.6 0 1 0 21.3 0a10.6 10.6 0 1 0 -21.3 0zM2495.2 1140.8a10.6 10.6 0 1 0 21.3 0a10.6 10.6 0 1 0 -21.3 0zM2517.2 1141a10.6 10.6 0 1 0 21.3 0a10.6 10.6 0 1 0 -21.3 0zM2539.3 1141.2a10.6 10.6 0 1 0 21.3 0a10.6 10.6 0 1 0 -21.3 0zM2561.3 1141.3a10.6 10.6 0 1 0 21.3 0a10.6 10.6 0 1 0 -21.3 0zM2583.4 1141.4a10.6 10.6 0 1 0 21.3 0a10.6 10.6 0 1 0 -21.3 0zM2605.4 1141.6a10.6 10.6 0 1 0 21.3 0a10.6 10.6 0 1 0 -21.3 0zM2627.4 1141.7a10.6 10.6 0 1 0 21.3 0a10.6 10.6 0 1 0 -21.3 0zM2649.5 1141.8a10.6 10.6 0 1 0 21.3 0a10.6 10.6 0 1 0 -21.3 0zM2671.5 1141.9a10.6 10.6 0 1 0 21.3 0a10.6 10.6 0 1 0 -21.3 0zM2693.6 1142a10.6 10.6 0 1 0 21.3 0a10.6 10.6 0 1 0 -21.3 0zM2715.6 1142.1a10.6 10.6 0 1 0 21.3 0a10.6 10.6 0 1 0 -21.3 0zM2737.7 1142.2a10.6 10.6 0 1 0 21.3 0a10.6 10.6 0 1 0 -21.3 0zM2759.7 1142.3a10.6 10.6 0 1 0 21.3 0a10.6 10.6 0 1 0 -21.3 0zM2781.7 1142.4a10.6 10.6 0 1 0 21.3 0a10.6 10.6 0 1 0 -21.3 0zM2803.8 1142.4a10.6 10.6 0 1 0 21.3 0a10.6 10.6 0 1 0 -21.3 0zM2825.8 1142.5a10.6 10.6 0 1 0 21.3 0a10.6 10.6 0 1 0 -21.3 0zM2847.9 1142.6a10.6 10.6 0 1 0 21.3 0a10.6 10.6 0 1 0 -21.3 0zM2869.9 1142.6a10.6 10.6 0 1 0 21.3 0a10.6 10.6 0 1 0 -21.3 0zM2892 1142.7a10.6 10.6 0 1 0 21.3 0a10.6 10.6 0 1 0 -21.3 0zM2914 1142.8a10.6 10.6 0 1 0 21.3 0a10.6 10.6 0 1 0 -21.3 0zM2936 1142.8a10.6 10.6 0 1 0 21.3 0a10.6 10.6 0 1 0 -21.3 0zM2958.1 1142.9a10.6 10.6 0 1 0 21.3 0a10.6 10.6 0 1 0 -21.3 0zM2980.1 1142.9a10.6 10.6 0 1 0 21.3 0a10.6 10.6 0 1 0 -21.3 0zM3002.2 1143a10.6 10.6 0 1 0 21.3 0a10.6 10.6 0 1 0 -21.3 0zM3024.2 1143a10.6 10.6 0 1 0 21.3 0a10.6 10.6 0 1 0 -21.3 0zM3046.3 1143.1a10.6 10.6 0 1 0 21.3 0a10.6 10.6 0 1 0 -21.3 0zM3068.3 1143.1a10.6 10.6 0 1 0 21.3 0a10.6 10.6 0 1 0 -21.3 0zM3090.3 1143.1a10.6 10.6 0 1 0 21.3 0a10.6 10.6 0 1 0 -21.3 0zM3112.4 1143.2a10.6 10.6 0 1 0 21.3 0a10.6 10.6 0 1 0 -21.3 0zM3134.4 1143.2a10.6 10.6 0 1 0 21.3 0a10.6 10.6 0 1 0 -21.3 0zM3156.5 1143.2a10.6 10.6 0 1 0 21.3 0a10.6 10.6 0 1 0 -21.3 0zM3178.5 1143.2a10.6 10.6 0 1 0 21.3 0a10.6 10.6 0 1 0 -21.3 0zM3200.5 1143.3a10.6 10.6 0 1 0 21.3 0a10.6 10.6 0 1 0 -21.3 0zM3222.6 1143.3a10.6 10.6 0 1 0 21.3 0a10.6 10.6 0 1 0 -21.3 0zM3244.6 1143.3a10.6 10.6 0 1 0 21.3 0a10.6 10.6 0 1 0 -21.3 0zM3266.7 1143.3a10.6 10.6 0 1 0 21.3 0a10.6 10.6 0 1 0 -21.3 0zM3288.7 1143.3a10.6 10.6 0 1 0 21.3 0a10.6 10.6 0 1 0 -21.3 0zM3310.8 1143.3a10.6 10.6 0 1 0 21.3 0a10.6 10.6 0 1 0 -21.3 0zM3332.8 1143.3a10.6 10.6 0 1 0 21.3 0a10.6 10.6 0 1 0 -21.3 0zM3354.8 1143.3a10.6 10.6 0 1 0 21.3 0a10.6 10.6 0 1 0 -21.3 0zM3376.9 1143.3a10.6 10.6 0 1 0 21.3 0a10.6 10.6 0 1 0 -21.3 0zM3398.9 1143.4a10.6 10.6 0 1 0 21.3 0a10.6 10.6 0 1 0 -21.3 0zM3421 1143.4a10.6 10.6 0 1 0 21.3 0a10.6 10.6 0 1 0 -21.3 0z"/><path fill="#F14040" d="M2131.7 905.2L2144.6 925.5L2118.9 925.5zM2175.3 1017.4L2188.2 1037.7L2162.4 1037.7zM2131.1 851.6L2144 871.8L2118.2 871.8zM2153.1 952.6L2166 972.9L2140.3 972.9zM2175.2 1017.2L2188.1 1037.5L2162.3 1037.5zM2197.2 1051.4L2210.1 1071.6L2184.4 1071.6zM2219.3 1084.7L2232.1 1105L2206.4 1105zM2241.3 1103.2L2254.2 1123.5L2228.4 1123.5zM2263.4 1111.1L2276.2 1131.3L2250.5 1131.3zM2285.4 1115.9L2298.3 1136.2L2272.5 1136.2zM2307.4 1119.6L2320.3 1139.9L2294.6 1139.9zM2329.5 1122.2L2342.4 1142.5L2316.6 1142.5zM2351.5 1124.2L2364.4 1144.5L2338.7 1144.5zM2373.6 1125.7L2386.4 1146L2360.7 1146zM2395.6 1126.6L2408.5 1146.9L2382.7 1146.9zM2417.7 1127.3L2430.5 1147.6L2404.8 1147.6zM2439.7 1127.9L2452.6 1148.1L2426.8 1148.1zM2461.7 1128.3L2474.6 1148.6L2448.9 1148.6zM2483.8 1128.7L2496.6 1149L2470.9 1149zM2505.8 1128.9L2518.7 1149.2L2493 1149.2zM2527.9 1129.1L2540.7 1149.3L2515 1149.3zM2549.9 1129.1L2562.8 1149.4L2537 1149.4zM2571.9 1129.2L2584.8 1149.5L2559.1 1149.5zM2594 1129.3L2606.9 1149.5L2581.1 1149.5zM2616 1129.3L2628.9 1149.6L2603.2 1149.6zM2638.1 1129.4L2650.9 1149.7L2625.2 1149.7zM2660.1 1129.5L2673 1149.7L2647.2 1149.7zM2682.2 1129.5L2695 1149.8L2669.3 1149.8zM2704.2 1129.6L2717.1 1149.9L2691.3 1149.9zM2726.2 1129.6L2739.1 1149.9L2713.4 1149.9zM2748.3 1129.7L2761.2 1150L2735.4 1150zM2770.3 1129.7L2783.2 1150L2757.5 1150zM2792.4 1129.8L2805.2 1150.1L2779.5 1150.1zM2814.4 1129.8L2827.3 1150.1L2801.5 1150.1zM2836.5 1129.9L2849.3 1150.2L2823.6 1150.2zM2858.5 1129.9L2871.4 1150.2L2845.6 1150.2zM2880.5 1130L2893.4 1150.2L2867.7 1150.2zM2902.6 1130L2915.5 1150.3L2889.7 1150.3zM2924.6 1130L2937.5 1150.3L2911.8 1150.3zM2946.7 1130.1L2959.5 1150.3L2933.8 1150.3zM2968.7 1130.1L2981.6 1150.4L2955.8 1150.4zM2990.8 1130.1L3003.6 1150.4L2977.9 1150.4zM3012.8 1130.1L3025.7 1150.4L2999.9 1150.4zM3034.8 1130.2L3047.7 1150.5L3022 1150.5zM3056.9 1130.2L3069.7 1150.5L3044 1150.5zM3078.9 1130.2L3091.8 1150.5L3066.1 1150.5zM3101 1130.2L3113.8 1150.5L3088.1 1150.5zM3123 1130.3L3135.9 1150.5L3110.1 1150.5zM3145 1130.3L3157.9 1150.6L3132.2 1150.6zM3167.1 1130.3L3180 1150.6L3154.2 1150.6zM3189.1 1130.3L3202 1150.6L3176.3 1150.6zM3211.2 1130.3L3224 1150.6L3198.3 1150.6zM3233.2 1130.3L3246.1 1150.6L3220.3 1150.6zM3255.3 1130.3L3268.1 1150.6L3242.4 1150.6zM3277.3 1130.3L3290.2 1150.6L3264.4 1150.6zM3299.3 1130.4L3312.2 1150.6L3286.5 1150.6zM3321.4 1130.4L3334.3 1150.6L3308.5 1150.6zM3343.4 1130.4L3356.3 1150.6L3330.6 1150.6zM3365.5 1130.4L3378.3 1150.6L3352.6 1150.6zM3387.5 1130.4L3400.4 1150.7L3374.6 1150.7zM3409.6 1130.4L3422.4 1150.7L3396.7 1150.7zM3431.6 1130.4L3444.5 1150.7L3418.7 1150.7z"/><path fill="#37AD6B" d="M2131.1 1153.6L2144 1133.4L2118.2 1133.4zM2153.1 1153.7L2166 1133.4L2140.3 1133.4zM2175.2 1153.7L2188.1 1133.4L2162.3 1133.4zM2197.2 1153.8L2210.1 1133.5L2184.4 1133.5zM2219.3 1153.8L2232.1 1133.5L2206.4 1133.5zM2241.3 1153.8L2254.2 1133.5L2228.4 1133.5zM2263.4 1153.9L2276.2 1133.6L2250.5 1133.6zM2285.4 1153.9L2298.3 1133.6L2272.5 1133.6zM2307.4 1153.9L2320.3 1133.6L2294.6 1133.6zM2329.5 1154L2342.4 1133.7L2316.6 1133.7zM2351.5 1154L2364.4 1133.7L2338.7 1133.7zM2373.6 1154L2386.4 1133.7L2360.7 1133.7zM2395.6 1154.1L2408.5 1133.8L2382.7 1133.8zM2417.7 1154.1L2430.5 1133.8L2404.8 1133.8zM2439.7 1154.1L2452.6 1133.8L2426.8 1133.8zM2461.7 1154.2L2474.6 1133.9L2448.9 1133.9zM2483.8 1154.2L2496.6 1133.9L2470.9 1133.9zM2505.8 1154.2L2518.7 1134L2493 1134zM2527.9 1154.3L2540.7 1134L2515 1134zM2549.9 1154.3L2562.8 1134L2537 1134zM2571.9 1154.3L2584.8 1134.1L2559.1 1134.1zM2594 1154.4L2606.9 1134.1L2581.1 1134.1zM2616 1154.4L2628.9 1134.1L2603.2 1134.1zM2638.1 1154.4L2650.9 1134.2L2625.2 1134.2zM2660.1 1154.5L2673 1134.2L2647.2 1134.2zM2682.2 1154.5L2695 1134.2L2669.3 1134.2zM2704.2 1154.5L2717.1 1134.3L2691.3 1134.3zM2726.2 1154.6L2739.1 1134.3L2713.4 1134.3zM2748.3 1154.6L2761.2 1134.3L2735.4 1134.3zM2770.3 1154.6L2783.2 1134.4L2757.5 1134.4zM2792.4 1154.7L2805.2 1134.4L2779.5 1134.4zM2814.4 1154.7L2827.3 1134.4L2801.5 1134.4zM2836.5 1154.7L2849.3 1134.5L2823.6 1134.5zM2858.5 1154.8L2871.4 1134.5L2845.6 1134.5zM2880.5 1154.8L2893.4 1134.5L2867.7 1134.5zM2902.6 1154.8L2915.5 1134.6L2889.7 1134.6zM2924.6 1154.9L2937.5 1134.6L2911.8 1134.6zM2946.7 1154.9L2959.5 1134.6L2933.8 1134.6zM2968.7 1154.9L2981.6 1134.7L2955.8 1134.7zM2990.8 1155L3003.6 1134.7L2977.9 1134.7zM3012.8 1155L3025.7 1134.7L2999.9 1134.7zM3034.8 1155.1L3047.7 1134.8L3022 1134.8zM3056.9 1155.1L3069.7 1134.8L3044 1134.8zM3078.9 1155.1L3091.8 1134.8L3066.1 1134.8zM3101 1155.2L3113.8 1134.9L3088.1 1134.9zM3123 1155.2L3135.9 1134.9L3110.1 1134.9zM3145 1155.2L3157.9 1134.9L3132.2 1134.9zM3167.1 1155.3L3180 1135L3154.2 1135zM3189.1 1155.3L3202 1135L3176.3 1135zM3211.2 1155.3L3224 1135L3198.3 1135zM3233.2 1155.4L3246.1 1135.1L3220.3 1135.1zM3255.3 1155.4L3268.1 1135.1L3242.4 1135.1zM3277.3 1155.4L3290.2 1135.1L3264.4 1135.1zM3299.3 1155.5L3312.2 1135.2L3286.5 1135.2zM3321.4 1155.5L3334.3 1135.2L3308.5 1135.2zM3343.4 1155.5L3356.3 1135.3L3330.6 1135.3zM3365.5 1155.6L3378.3 1135.3L3352.6 1135.3zM3387.5 1155.6L3400.4 1135.3L3374.6 1135.3zM3409.6 1155.6L3422.4 1135.4L3396.7 1135.4zM3431.6 1155.7L3444.5 1135.4L3418.7 1135.4z"/><path fill="#CC9900" d="M2131.7 796.5L2144.5 809.2L2131.7 822L2119 809.2zM2156.9 913.8L2169.6 926.5L2156.9 939.3L2144.1 926.5zM2178.6 987.5L2191.4 1000.3L2178.6 1013L2165.9 1000.3zM2131.1 717.7L2143.9 730.5L2131.1 743.3L2118.3 730.5zM2153.1 858.2L2165.9 870.9L2153.1 883.7L2140.4 870.9zM2175.2 952L2188 964.8L2175.2 977.5L2162.4 964.8zM2197.2 1010.1L2210 1022.9L2197.2 1035.7L2184.5 1022.9zM2219.3 1052.2L2232 1065L2219.3 1077.7L2206.5 1065zM2241.3 1075.9L2254.1 1088.6L2241.3 1101.4L2228.5 1088.6zM2263.4 1090.2L2276.1 1103L2263.4 1115.7L2250.6 1103zM2285.4 1099L2298.2 1111.8L2285.4 1124.6L2272.6 1111.8zM2307.4 1105.6L2320.2 1118.4L2307.4 1131.1L2294.7 1118.4zM2329.5 1110.4L2342.3 1123.2L2329.5 1136L2316.7 1123.2zM2351.5 1114.3L2364.3 1127.1L2351.5 1139.9L2338.8 1127.1zM2373.6 1117.7L2386.3 1130.5L2373.6 1143.2L2360.8 1130.5zM2395.6 1120.6L2408.4 1133.4L2395.6 1146.2L2382.8 1133.4zM2417.7 1122.9L2430.4 1135.7L2417.7 1148.4L2404.9 1135.7zM2439.7 1124.5L2452.5 1137.3L2439.7 1150.1L2426.9 1137.3zM2461.7 1126L2474.5 1138.8L2461.7 1151.5L2449 1138.8zM2483.8 1127.2L2496.6 1140L2483.8 1152.7L2471 1140zM2505.8 1128L2518.6 1140.8L2505.8 1153.5L2493 1140.8zM2527.9 1128.3L2540.6 1141L2527.9 1153.8L2515.1 1141zM2549.9 1128.4L2562.7 1141.1L2549.9 1153.9L2537.1 1141.1zM2571.9 1128.5L2584.7 1141.2L2571.9 1154L2559.2 1141.2zM2594 1128.6L2606.8 1141.3L2594 1154.1L2581.2 1141.3zM2616 1128.6L2628.8 1141.4L2616 1154.2L2603.3 1141.4zM2638.1 1128.7L2650.8 1141.5L2638.1 1154.3L2625.3 1141.5zM2660.1 1128.8L2672.9 1141.6L2660.1 1154.4L2647.3 1141.6zM2682.2 1128.9L2694.9 1141.7L2682.2 1154.4L2669.4 1141.7zM2704.2 1129L2717 1141.7L2704.2 1154.5L2691.4 1141.7zM2726.2 1129L2739 1141.8L2726.2 1154.6L2713.5 1141.8zM2748.3 1129.1L2761.1 1141.9L2748.3 1154.6L2735.5 1141.9zM2770.3 1129.2L2783.1 1141.9L2770.3 1154.7L2757.6 1141.9zM2792.4 1129.2L2805.1 1142L2792.4 1154.8L2779.6 1142zM2814.4 1129.3L2827.2 1142.1L2814.4 1154.8L2801.6 1142.1zM2836.5 1129.3L2849.2 1142.1L2836.5 1154.9L2823.7 1142.1zM2858.5 1129.4L2871.3 1142.2L2858.5 1154.9L2845.7 1142.2zM2880.5 1129.4L2893.3 1142.2L2880.5 1155L2867.8 1142.2zM2902.6 1129.5L2915.4 1142.3L2902.6 1155L2889.8 1142.3zM2924.6 1129.5L2937.4 1142.3L2924.6 1155.1L2911.9 1142.3zM2946.7 1129.6L2959.4 1142.3L2946.7 1155.1L2933.9 1142.3zM2968.7 1129.6L2981.5 1142.4L2968.7 1155.1L2955.9 1142.4zM2990.8 1129.6L3003.5 1142.4L2990.8 1155.2L2978 1142.4zM3012.8 1129.7L3025.6 1142.4L3012.8 1155.2L3000 1142.4zM3034.8 1129.7L3047.6 1142.5L3034.8 1155.2L3022.1 1142.5zM3056.9 1129.7L3069.7 1142.5L3056.9 1155.3L3044.1 1142.5zM3078.9 1129.7L3091.7 1142.5L3078.9 1155.3L3066.1 1142.5zM3101 1129.8L3113.7 1142.5L3101 1155.3L3088.2 1142.5zM3123 1129.8L3135.8 1142.6L3123 1155.3L3110.2 1142.6zM3145 1129.8L3157.8 1142.6L3145 1155.4L3132.3 1142.6zM3167.1 1129.8L3179.9 1142.6L3167.1 1155.4L3154.3 1142.6zM3189.1 1129.8L3201.9 1142.6L3189.1 1155.4L3176.4 1142.6zM3211.2 1129.9L3223.9 1142.6L3211.2 1155.4L3198.4 1142.6zM3233.2 1129.9L3246 1142.6L3233.2 1155.4L3220.4 1142.6zM3255.3 1129.9L3268 1142.6L3255.3 1155.4L3242.5 1142.6zM3277.3 1129.9L3290.1 1142.7L3277.3 1155.4L3264.5 1142.7zM3299.3 1129.9L3312.1 1142.7L3299.3 1155.4L3286.6 1142.7zM3321.4 1129.9L3334.2 1142.7L3321.4 1155.4L3308.6 1142.7zM3343.4 1129.9L3356.2 1142.7L3343.4 1155.4L3330.7 1142.7zM3365.5 1129.9L3378.2 1142.7L3365.5 1155.4L3352.7 1142.7zM3387.5 1129.9L3400.3 1142.7L3387.5 1155.5L3374.7 1142.7zM3409.6 1129.9L3422.3 1142.7L3409.6 1155.5L3396.8 1142.7zM3431.6 1129.9L3444.4 1142.7L3431.6 1155.5L3418.8 1142.7z"/><path fill="#B177DE" d="M2139.4 934.9L2161.4 923.5L2161.4 946.3zM2161.2 1007L2183.2 995.5L2183.2 1018.4zM2186.3 1055.5L2208.4 1044.1L2208.4 1067zM2117 821L2139 809.6L2139 832.4zM2139 885L2161.1 873.6L2161.1 896.4zM2161.1 978.1L2183.1 966.7L2183.1 989.5zM2183.1 1033.4L2205.2 1022L2205.2 1044.8zM2205.2 1072.6L2227.2 1061.1L2227.2 1084zM2227.2 1088.2L2249.2 1076.8L2249.2 1099.6zM2249.3 1102L2271.3 1090.5L2271.3 1113.4zM2271.3 1111.8L2293.3 1100.4L2293.3 1123.2zM2293.3 1119L2315.4 1107.6L2315.4 1130.4zM2315.4 1123.9L2337.4 1112.5L2337.4 1135.4zM2337.4 1127.8L2359.5 1116.4L2359.5 1139.2zM2359.5 1131L2381.5 1119.6L2381.5 1142.4zM2381.5 1133.8L2403.5 1122.4L2403.5 1145.2zM2403.5 1136L2425.6 1124.6L2425.6 1147.4zM2425.6 1137.6L2447.6 1126.2L2447.6 1149zM2447.6 1139.1L2469.7 1127.7L2469.7 1150.5zM2469.7 1140.3L2491.7 1128.9L2491.7 1151.7zM2491.7 1141.1L2513.8 1129.7L2513.8 1152.5zM2513.8 1141.4L2535.8 1130L2535.8 1152.8zM2535.8 1141.5L2557.8 1130.1L2557.8 1152.9zM2557.8 1141.6L2579.9 1130.2L2579.9 1153zM2579.9 1141.7L2601.9 1130.3L2601.9 1153.1zM2601.9 1141.7L2624 1130.3L2624 1153.2zM2624 1141.8L2646 1130.4L2646 1153.2zM2646 1141.9L2668 1130.5L2668 1153.3zM2668.1 1142L2690.1 1130.6L2690.1 1153.4zM2690.1 1142.1L2712.1 1130.7L2712.1 1153.5zM2712.1 1142.1L2734.2 1130.7L2734.2 1153.5zM2734.2 1142.2L2756.2 1130.8L2756.2 1153.6zM2756.2 1142.3L2778.3 1130.9L2778.3 1153.7zM2778.3 1142.3L2800.3 1130.9L2800.3 1153.7zM2800.3 1142.4L2822.3 1131L2822.3 1153.8zM2822.4 1142.4L2844.4 1131L2844.4 1153.8zM2844.4 1142.5L2866.4 1131.1L2866.4 1153.9zM2866.4 1142.5L2888.5 1131.1L2888.5 1153.9zM2888.5 1142.6L2910.5 1131.2L2910.5 1154zM2910.5 1142.6L2932.6 1131.2L2932.6 1154zM2932.6 1142.7L2954.6 1131.3L2954.6 1154.1zM2954.6 1142.7L2976.6 1131.3L2976.6 1154.1zM2976.7 1142.7L2998.7 1131.3L2998.7 1154.1zM2998.7 1142.8L3020.7 1131.4L3020.7 1154.2zM3020.7 1142.8L3042.8 1131.4L3042.8 1154.2zM3042.8 1142.8L3064.8 1131.4L3064.8 1154.2zM3064.8 1142.9L3086.9 1131.4L3086.9 1154.3zM3086.9 1142.9L3108.9 1131.5L3108.9 1154.3zM3108.9 1142.9L3130.9 1131.5L3130.9 1154.3zM3130.9 1142.9L3153 1131.5L3153 1154.3zM3153 1142.9L3175 1131.5L3175 1154.3zM3175 1142.9L3197.1 1131.5L3197.1 1154.4zM3197.1 1143L3219.1 1131.6L3219.1 1154.4zM3219.1 1143L3241.2 1131.6L3241.2 1154.4zM3241.2 1143L3263.2 1131.6L3263.2 1154.4zM3263.2 1143L3285.2 1131.6L3285.2 1154.4zM3285.2 1143L3307.3 1131.6L3307.3 1154.4zM3307.3 1143L3329.3 1131.6L3329.3 1154.4zM3329.3 1143L3351.4 1131.6L3351.4 1154.4zM3351.4 1143L3373.4 1131.6L3373.4 1154.4zM3373.4 1143L3395.4 1131.6L3395.4 1154.4zM3395.5 1143L3417.5 1131.6L3417.5 1154.4zM3417.5 1143L3439.5 1131.6L3439.5 1154.4z"/><path fill="#5EE54A" d="M2145.2 1141.3L2123.2 1129.9L2123.2 1152.7zM2167.2 1141.4L2145.2 1130L2145.2 1152.8zM2189.3 1141.4L2167.3 1130L2167.3 1152.8zM2211.3 1141.4L2189.3 1130L2189.3 1152.8zM2233.4 1141.5L2211.3 1130L2211.3 1152.9zM2255.4 1141.5L2233.4 1130.1L2233.4 1152.9zM2277.5 1141.5L2255.4 1130.1L2255.4 1152.9zM2299.5 1141.5L2277.5 1130.1L2277.5 1152.9zM2321.5 1141.6L2299.5 1130.2L2299.5 1153zM2343.6 1141.6L2321.5 1130.2L2321.5 1153zM2365.6 1141.6L2343.6 1130.2L2343.6 1153zM2387.7 1141.7L2365.6 1130.2L2365.6 1153.1zM2409.7 1141.7L2387.7 1130.3L2387.7 1153.1zM2431.8 1141.7L2409.7 1130.3L2409.7 1153.1zM2453.8 1141.7L2431.8 1130.3L2431.8 1153.1zM2475.8 1141.8L2453.8 1130.4L2453.8 1153.2zM2497.9 1141.8L2475.8 1130.4L2475.8 1153.2zM2519.9 1141.8L2497.9 1130.4L2497.9 1153.2zM2542 1141.9L2519.9 1130.4L2519.9 1153.3zM2564 1141.9L2542 1130.5L2542 1153.3zM2586 1141.9L2564 1130.5L2564 1153.3zM2608.1 1141.9L2586.1 1130.5L2586.1 1153.3zM2630.1 1142L2608.1 1130.6L2608.1 1153.4zM2652.2 1142L2630.1 1130.6L2630.1 1153.4zM2674.2 1142L2652.2 1130.6L2652.2 1153.4zM2696.3 1142.1L2674.2 1130.6L2674.2 1153.5zM2718.3 1142.1L2696.3 1130.7L2696.3 1153.5zM2740.3 1142.1L2718.3 1130.7L2718.3 1153.5zM2762.4 1142.1L2740.4 1130.7L2740.4 1153.5zM2784.4 1142.2L2762.4 1130.8L2762.4 1153.6zM2806.5 1142.2L2784.4 1130.8L2784.4 1153.6zM2828.5 1142.2L2806.5 1130.8L2806.5 1153.6zM2850.6 1142.3L2828.5 1130.8L2828.5 1153.7zM2872.6 1142.3L2850.6 1130.9L2850.6 1153.7zM2894.6 1142.3L2872.6 1130.9L2872.6 1153.7zM2916.7 1142.3L2894.7 1130.9L2894.7 1153.7zM2938.7 1142.4L2916.7 1131L2916.7 1153.8zM2960.8 1142.4L2938.7 1131L2938.7 1153.8zM2982.8 1142.4L2960.8 1131L2960.8 1153.8zM3004.9 1142.5L2982.8 1131L2982.8 1153.9zM3026.9 1142.5L3004.9 1131.1L3004.9 1153.9zM3048.9 1142.5L3026.9 1131.1L3026.9 1153.9zM3071 1142.5L3048.9 1131.1L3048.9 1153.9zM3093 1142.6L3071 1131.2L3071 1154zM3115.1 1142.6L3093 1131.2L3093 1154zM3137.1 1142.6L3115.1 1131.2L3115.1 1154zM3159.2 1142.7L3137.1 1131.2L3137.1 1154.1zM3181.2 1142.7L3159.2 1131.3L3159.2 1154.1zM3203.2 1142.7L3181.2 1131.3L3181.2 1154.1zM3225.3 1142.7L3203.2 1131.3L3203.2 1154.1zM3247.3 1142.8L3225.3 1131.4L3225.3 1154.2zM3269.4 1142.8L3247.3 1131.4L3247.3 1154.2zM3291.4 1142.8L3269.4 1131.4L3269.4 1154.2zM3313.4 1142.9L3291.4 1131.4L3291.4 1154.3zM3335.5 1142.9L3313.5 1131.5L3313.5 1154.3zM3357.5 1142.9L3335.5 1131.5L3335.5 1154.3zM3379.6 1142.9L3357.5 1131.5L3357.5 1154.3zM3401.6 1143L3379.6 1131.6L3379.6 1154.4zM3423.7 1143L3401.6 1131.6L3401.6 1154.4zM3445.7 1143L3423.7 1131.6L3423.7 1154.4z"/></g>
<g fill="none" stroke="#000" stroke-width="3.6" stroke-linejoin="round"><polyline points="2131.1,1052.2 2153.1,1071.2 2175.2,1085.3 2197.2,1099.3 2219.3,1106.7 2241.3,1111.9 2263.4,1117 2285.4,1121.2 2307.4,1124.9 2329.5,1128.1 2351.5,1131.1 2373.6,1133.7 2395.6,1135.5 2417.7,1137 2439.7,1138.4 2461.7,1139.6 2483.8,1140.5 2505.8,1141.1 2527.9,1141.4 2549.9,1141.5 2571.9,1141.6 2594,1141.7 2616,1141.8 2638.1,1141.9 2660.1,1142 2682.2,1142.1 2704.2,1142.2 2726.2,1142.3 2748.3,1142.4 2770.3,1142.4 2792.4,1142.5 2814.4,1142.6 2836.5,1142.6 2858.5,1142.7 2880.5,1142.8 2902.6,1142.8 2924.6,1142.9 2946.7,1142.9 2968.7,1143 2990.8,1143 3012.8,1143 3034.8,1143.1 3056.9,1143.1 3078.9,1143.1 3101,1143.2 3123,1143.2 3145,1143.2 3167.1,1143.2 3189.1,1143.3 3211.2,1143.3 3233.2,1143.3 3255.3,1143.3 3277.3,1143.3 3299.3,1143.3 3321.4,1143.3 3343.4,1143.3 3365.5,1143.3 3387.5,1143.3 3409.6,1143.4 3431.6,1143.4"/><polyline points="2131.1,1040.5 2153.1,1057.8 2175.2,1073.4 2197.2,1087.3 2219.3,1097.9 2241.3,1106.6 2263.4,1113.5 2285.4,1118.8 2307.4,1123.5 2329.5,1127.2 2351.5,1130.4 2373.6,1133 2395.6,1134.9 2417.7,1136.5 2439.7,1137.9 2461.7,1139.2 2483.8,1140.1 2505.8,1140.8 2527.9,1141 2549.9,1141.2 2571.9,1141.3 2594,1141.4 2616,1141.6 2638.1,1141.7 2660.1,1141.8 2682.2,1141.9 2704.2,1142 2726.2,1142.1 2748.3,1142.2 2770.3,1142.3 2792.4,1142.4 2814.4,1142.4 2836.5,1142.5 2858.5,1142.6 2880.5,1142.6 2902.6,1142.7 2924.6,1142.8 2946.7,1142.8 2968.7,1142.9 2990.8,1142.9 3012.8,1143 3034.8,1143 3056.9,1143.1 3078.9,1143.1 3101,1143.1 3123,1143.2 3145,1143.2 3167.1,1143.2 3189.1,1143.2 3211.2,1143.3 3233.2,1143.3 3255.3,1143.3 3277.3,1143.3 3299.3,1143.3 3321.4,1143.3 3343.4,1143.3 3365.5,1143.3 3387.5,1143.3 3409.6,1143.4 3431.6,1143.4"/><polyline points="2131.1,864.5 2131.1,920.1 2153.1,965.6 2153.1,1001.1 2175.2,1030.2 2175.2,1049 2197.2,1064.3 2197.2,1082.7 2219.3,1097.7 2219.3,1107.9 2241.3,1116.2 2263.4,1124 2285.4,1128.9 2307.4,1132.6 2329.5,1135.2 2351.5,1137.2 2373.6,1138.7 2395.6,1139.6 2417.7,1140.3 2439.7,1140.8 2461.7,1141.3 2483.8,1141.7 2505.8,1141.9 2527.9,1142 2549.9,1142.1 2571.9,1142.2 2594,1142.2 2616,1142.3 2638.1,1142.4 2660.1,1142.4 2682.2,1142.5 2704.2,1142.6 2726.2,1142.6 2748.3,1142.7 2770.3,1142.7 2792.4,1142.8 2814.4,1142.8 2836.5,1142.9 2858.5,1142.9 2880.5,1142.9 2902.6,1143 2924.6,1143 2946.7,1143 2968.7,1143.1 2990.8,1143.1 3012.8,1143.1 3034.8,1143.2 3056.9,1143.2 3078.9,1143.2 3101,1143.2 3123,1143.2 3145,1143.3 3167.1,1143.3 3189.1,1143.3 3211.2,1143.3 3233.2,1143.3 3255.3,1143.3 3277.3,1143.3 3299.3,1143.3 3321.4,1143.3 3343.4,1143.3 3365.5,1143.3 3387.5,1143.3 3409.6,1143.4 3431.6,1143.4"/><polyline points="2131.1,1140.7 2153.1,1140.7 2175.2,1140.7 2197.2,1140.8 2219.3,1140.8 2241.3,1140.8 2263.4,1140.9 2285.4,1140.9 2307.4,1140.9 2329.5,1141 2351.5,1141 2373.6,1141 2395.6,1141.1 2417.7,1141.1 2439.7,1141.1 2461.7,1141.2 2483.8,1141.2 2505.8,1141.3 2527.9,1141.3 2549.9,1141.3 2571.9,1141.4 2594,1141.4 2616,1141.4 2638.1,1141.5 2660.1,1141.5 2682.2,1141.5 2704.2,1141.6 2726.2,1141.6 2748.3,1141.6 2770.3,1141.7 2792.4,1141.7 2814.4,1141.7 2836.5,1141.8 2858.5,1141.8 2880.5,1141.8 2902.6,1141.9 2924.6,1141.9 2946.7,1141.9 2968.7,1142 2990.8,1142 3012.8,1142 3034.8,1142.1 3056.9,1142.1 3078.9,1142.1 3101,1142.2 3123,1142.2 3145,1142.2 3167.1,1142.3 3189.1,1142.3 3211.2,1142.3 3233.2,1142.4 3255.3,1142.4 3277.3,1142.4 3299.3,1142.5 3321.4,1142.5 3343.4,1142.6 3365.5,1142.6 3387.5,1142.6 3409.6,1142.7 3431.6,1142.7"/><polyline points="2131.1,730.5 2131.1,807.7 2153.1,870.9 2153.1,922.5 2175.2,964.8 2175.2,996.8 2197.2,1022.9 2197.2,1046 2219.3,1065 2219.3,1078 2241.3,1088.6 2241.3,1096.5 2263.4,1103 2285.4,1111.8 2307.4,1118.4 2329.5,1123.2 2351.5,1127.1 2373.6,1130.5 2395.6,1133.4 2417.7,1135.7 2439.7,1137.3 2461.7,1138.8 2483.8,1140 2505.8,1140.8 2527.9,1141 2549.9,1141.1 2571.9,1141.2 2594,1141.3 2616,1141.4 2638.1,1141.5 2660.1,1141.6 2682.2,1141.7 2704.2,1141.7 2726.2,1141.8 2748.3,1141.9 2770.3,1141.9 2792.4,1142 2814.4,1142.1 2836.5,1142.1 2858.5,1142.2 2880.5,1142.2 2902.6,1142.3 2924.6,1142.3 2946.7,1142.3 2968.7,1142.4 2990.8,1142.4 3012.8,1142.4 3034.8,1142.5 3056.9,1142.5 3078.9,1142.5 3101,1142.5 3123,1142.6 3145,1142.6 3167.1,1142.6 3189.1,1142.6 3211.2,1142.6 3233.2,1142.6 3255.3,1142.6 3277.3,1142.7 3299.3,1142.7 3321.4,1142.7 3343.4,1142.7 3365.5,1142.7 3387.5,1142.7 3409.6,1142.7 3431.6,1142.7"/><polyline points="2131.1,821 2131.1,856.2 2153.1,885 2153.1,936.2 2175.2,978.1 2175.2,1008.5 2197.2,1033.4 2197.2,1054.9 2219.3,1072.6 2219.3,1081.1 2241.3,1088.2 2241.3,1095.7 2263.4,1102 2285.4,1111.8 2307.4,1119 2329.5,1123.9 2351.5,1127.8 2373.6,1131 2395.6,1133.8 2417.7,1136 2439.7,1137.6 2461.7,1139.1 2483.8,1140.3 2505.8,1141.1 2527.9,1141.4 2549.9,1141.5 2571.9,1141.6 2594,1141.7 2616,1141.7 2638.1,1141.8 2660.1,1141.9 2682.2,1142 2704.2,1142.1 2726.2,1142.1 2748.3,1142.2 2770.3,1142.3 2792.4,1142.3 2814.4,1142.4 2836.5,1142.4 2858.5,1142.5 2880.5,1142.5 2902.6,1142.6 2924.6,1142.6 2946.7,1142.7 2968.7,1142.7 2990.8,1142.7 3012.8,1142.8 3034.8,1142.8 3056.9,1142.8 3078.9,1142.9 3101,1142.9 3123,1142.9 3145,1142.9 3167.1,1142.9 3189.1,1142.9 3211.2,1143 3233.2,1143 3255.3,1143 3277.3,1143 3299.3,1143 3321.4,1143 3343.4,1143 3365.5,1143 3387.5,1143 3409.6,1143 3431.6,1143"/><polyline points="2131.1,1141.3 2153.1,1141.4 2175.2,1141.4 2197.2,1141.4 2219.3,1141.5 2241.3,1141.5 2263.4,1141.5 2285.4,1141.5 2307.4,1141.6 2329.5,1141.6 2351.5,1141.6 2373.6,1141.7 2395.6,1141.7 2417.7,1141.7 2439.7,1141.7 2461.7,1141.8 2483.8,1141.8 2505.8,1141.8 2527.9,1141.9 2549.9,1141.9 2571.9,1141.9 2594,1141.9 2616,1142 2638.1,1142 2660.1,1142 2682.2,1142.1 2704.2,1142.1 2726.2,1142.1 2748.3,1142.1 2770.3,1142.2 2792.4,1142.2 2814.4,1142.2 2836.5,1142.3 2858.5,1142.3 2880.5,1142.3 2902.6,1142.3 2924.6,1142.4 2946.7,1142.4 2968.7,1142.4 2990.8,1142.5 3012.8,1142.5 3034.8,1142.5 3056.9,1142.5 3078.9,1142.6 3101,1142.6 3123,1142.6 3145,1142.7 3167.1,1142.7 3189.1,1142.7 3211.2,1142.7 3233.2,1142.8 3255.3,1142.8 3277.3,1142.8 3299.3,1142.9 3321.4,1142.9 3343.4,1142.9 3365.5,1142.9 3387.5,1143 3409.6,1143 3431.6,1143"/></g>
<g><path fill="#515151" d="M2121.9 315.8h18.4v18.4h-18.4zM2143.9 307.2h18.4v18.4h-18.4zM2166 301.6h18.4v18.4h-18.4zM2188 298.5h18.4v18.4h-18.4zM2210.1 298.3h18.4v18.4h-18.4zM2232.1 300.2h18.4v18.4h-18.4zM2254.2 304.7h18.4v18.4h-18.4zM2276.2 311.5h18.4v18.4h-18.4zM2298.2 322.6h18.4v18.4h-18.4zM2320.3 338.1h18.4v18.4h-18.4zM2342.3 363.9h18.4v18.4h-18.4zM2364.4 390.7h18.4v18.4h-18.4zM2386.4 422.7h18.4v18.4h-18.4zM2408.5 463.9h18.4v18.4h-18.4zM2430.5 503.2h18.4v18.4h-18.4zM2452.5 544.4h18.4v18.4h-18.4zM2474.6 590.2h18.4v18.4h-18.4zM2496.6 639.7h18.4v18.4h-18.4zM2518.7 684.1h18.4v18.4h-18.4zM2540.7 726.2h18.4v18.4h-18.4zM2562.7 762.9h18.4v18.4h-18.4zM2584.8 806.4h18.4v18.4h-18.4zM2606.8 843.4h18.4v18.4h-18.4zM2628.9 877.8h18.4v18.4h-18.4zM2650.9 912.3h18.4v18.4h-18.4zM2673 942.2h18.4v18.4h-18.4zM2695 969.6h18.4v18.4h-18.4zM2717 992.2h18.4v18.4h-18.4zM2739.1 1012.3h18.4v18.4h-18.4zM2761.1 1030h18.4v18.4h-18.4zM2783.2 1044.8h18.4v18.4h-18.4zM2805.2 1057.8h18.4v18.4h-18.4zM2827.3 1069h18.4v18.4h-18.4zM2849.3 1078.9h18.4v18.4h-18.4zM2871.3 1087h18.4v18.4h-18.4zM2893.4 1093.8h18.4v18.4h-18.4zM2915.4 1099.4h18.4v18.4h-18.4zM2937.5 1104.4h18.4v18.4h-18.4zM2959.5 1109h18.4v18.4h-18.4zM2981.6 1112.8h18.4v18.4h-18.4zM3003.6 1115.3h18.4v18.4h-18.4zM3025.6 1116.5h18.4v18.4h-18.4zM3047.7 1117.6h18.4v18.4h-18.4zM3069.7 1118.5h18.4v18.4h-18.4zM3091.8 1119.4h18.4v18.4h-18.4zM3113.8 1120.3h18.4v18.4h-18.4zM3135.8 1121h18.4v18.4h-18.4zM3157.9 1121.7h18.4v18.4h-18.4zM3179.9 1122.4h18.4v18.4h-18.4zM3202 1123h18.4v18.4h-18.4zM3224 1123.5h18.4v18.4h-18.4zM3246.1 1124h18.4v18.4h-18.4zM3268.1 1124.4h18.4v18.4h-18.4zM3290.1 1124.8h18.4v18.4h-18.4zM3312.2 1125.1h18.4v18.4h-18.4zM3334.2 1125.3h18.4v18.4h-18.4zM3356.3 1125.5h18.4v18.4h-18.4zM3378.3 1125.7h18.4v18.4h-18.4zM3400.4 1125.8h18.4v18.4h-18.4zM3422.4 1125.8h18.4v18.4h-18.4z"/><path fill="#1A6FDF" d="M2121.9 365.8h18.4v18.4h-18.4zM2143.9 347h18.4v18.4h-18.4zM2166 331h18.4v18.4h-18.4zM2188 319.8h18.4v18.4h-18.4zM2210.1 315.9h18.4v18.4h-18.4zM2232.1 321.6h18.4v18.4h-18.4zM2254.2 337.7h18.4v18.4h-18.4zM2276.2 350.5h18.4v18.4h-18.4zM2298.2 367.3h18.4v18.4h-18.4zM2320.3 379.1h18.4v18.4h-18.4zM2342.3 395.8h18.4v18.4h-18.4zM2364.4 408.3h18.4v18.4h-18.4zM2386.4 426.5h18.4v18.4h-18.4zM2408.5 448.3h18.4v18.4h-18.4zM2430.5 472.4h18.4v18.4h-18.4zM2452.5 503.4h18.4v18.4h-18.4zM2474.6 537.2h18.4v18.4h-18.4zM2496.6 575.5h18.4v18.4h-18.4zM2518.7 618.8h18.4v18.4h-18.4zM2540.7 665.4h18.4v18.4h-18.4zM2562.7 709.7h18.4v18.4h-18.4zM2584.8 753.8h18.4v18.4h-18.4zM2606.8 798.4h18.4v18.4h-18.4zM2628.9 835.9h18.4v18.4h-18.4zM2650.9 874.6h18.4v18.4h-18.4zM2673 913.8h18.4v18.4h-18.4zM2695 944.8h18.4v18.4h-18.4zM2717 969.4h18.4v18.4h-18.4zM2739.1 994.2h18.4v18.4h-18.4zM2761.1 1011.6h18.4v18.4h-18.4zM2783.2 1030.7h18.4v18.4h-18.4zM2805.2 1045.5h18.4v18.4h-18.4zM2827.3 1055.3h18.4v18.4h-18.4zM2849.3 1067.6h18.4v18.4h-18.4zM2871.3 1075.2h18.4v18.4h-18.4zM2893.4 1082.6h18.4v18.4h-18.4zM2915.4 1087.7h18.4v18.4h-18.4zM2937.5 1092.5h18.4v18.4h-18.4zM2959.5 1098h18.4v18.4h-18.4zM2981.6 1103h18.4v18.4h-18.4zM3003.6 1106.2h18.4v18.4h-18.4zM3025.6 1108.8h18.4v18.4h-18.4zM3047.7 1110.6h18.4v18.4h-18.4zM3069.7 1111.9h18.4v18.4h-18.4zM3091.8 1113.1h18.4v18.4h-18.4zM3113.8 1114.3h18.4v18.4h-18.4zM3135.8 1115.4h18.4v18.4h-18.4zM3157.9 1116.5h18.4v18.4h-18.4zM3179.9 1117.5h18.4v18.4h-18.4zM3202 1118.4h18.4v18.4h-18.4zM3224 1119.3h18.4v18.4h-18.4zM3246.1 1120.1h18.4v18.4h-18.4zM3268.1 1120.8h18.4v18.4h-18.4zM3290.1 1121.4h18.4v18.4h-18.4zM3312.2 1122h18.4v18.4h-18.4zM3334.2 1122.4h18.4v18.4h-18.4zM3356.3 1122.8h18.4v18.4h-18.4zM3378.3 1123.1h18.4v18.4h-18.4zM3400.4 1123.2h18.4v18.4h-18.4zM3422.4 1123.3h18.4v18.4h-18.4z"/><path fill="#F14040" d="M2121.9 405.8h18.4v18.4h-18.4zM2143.9 406.5h18.4v18.4h-18.4zM2166 407.9h18.4v18.4h-18.4zM2188 410.1h18.4v18.4h-18.4zM2210.1 412.9h18.4v18.4h-18.4zM2232.1 415.3h18.4v18.4h-18.4zM2254.2 417.8h18.4v18.4h-18.4zM2276.2 420.9h18.4v18.4h-18.4zM2298.2 424.8h18.4v18.4h-18.4zM2320.3 429.6h18.4v18.4h-18.4zM2342.3 435h18.4v18.4h-18.4zM2364.4 440.1h18.4v18.4h-18.4zM2386.4 445.3h18.4v18.4h-18.4zM2408.5 451.1h18.4v18.4h-18.4zM2430.5 459.6h18.4v18.4h-18.4zM2452.5 469.3h18.4v18.4h-18.4zM2474.6 478.9h18.4v18.4h-18.4zM2496.6 492.8h18.4v18.4h-18.4zM2518.7 509.4h18.4v18.4h-18.4zM2540.7 530.8h18.4v18.4h-18.4zM2562.7 550.5h18.4v18.4h-18.4zM2584.8 572h18.4v18.4h-18.4zM2606.8 598.3h18.4v18.4h-18.4zM2628.9 625.8h18.4v18.4h-18.4zM2650.9 657.3h18.4v18.4h-18.4zM2673 688.9h18.4v18.4h-18.4zM2695 727h18.4v18.4h-18.4zM2717 758.9h18.4v18.4h-18.4zM2739.1 795.6h18.4v18.4h-18.4zM2761.1 827.6h18.4v18.4h-18.4zM2783.2 860.6h18.4v18.4h-18.4zM2805.2 892.5h18.4v18.4h-18.4zM2827.3 922h18.4v18.4h-18.4zM2849.3 949.1h18.4v18.4h-18.4zM2871.3 971.4h18.4v18.4h-18.4zM2893.4 993.5h18.4v18.4h-18.4zM2915.4 1013h18.4v18.4h-18.4zM2937.5 1030.3h18.4v18.4h-18.4zM2959.5 1042.7h18.4v18.4h-18.4zM2981.6 1052.5h18.4v18.4h-18.4zM3003.6 1062.4h18.4v18.4h-18.4zM3025.6 1070.7h18.4v18.4h-18.4zM3047.7 1078.1h18.4v18.4h-18.4zM3069.7 1083h18.4v18.4h-18.4zM3091.8 1089.7h18.4v18.4h-18.4zM3113.8 1095h18.4v18.4h-18.4zM3135.8 1099.8h18.4v18.4h-18.4zM3157.9 1104.1h18.4v18.4h-18.4zM3179.9 1107.8h18.4v18.4h-18.4zM3202 1111h18.4v18.4h-18.4zM3224 1113.7h18.4v18.4h-18.4zM3246.1 1116.2h18.4v18.4h-18.4zM3268.1 1118.4h18.4v18.4h-18.4zM3290.1 1120.1h18.4v18.4h-18.4zM3312.2 1121.5h18.4v18.4h-18.4zM3334.2 1122.7h18.4v18.4h-18.4zM3356.3 1123.8h18.4v18.4h-18.4zM3378.3 1124.7h18.4v18.4h-18.4zM3400.4 1125.4h18.4v18.4h-18.4zM3422.4 1125.8h18.4v18.4h-18.4z"/><path fill="#37AD6B" d="M2121.9 175.8h18.4v18.4h-18.4zM2143.9 171.5h18.4v18.4h-18.4zM2166 168.4h18.4v18.4h-18.4zM2188 168.3h18.4v18.4h-18.4zM2210.1 168.3h18.4v18.4h-18.4zM2232.1 169.6h18.4v18.4h-18.4zM2254.2 172.7h18.4v18.4h-18.4zM2276.2 178.5h18.4v18.4h-18.4zM2298.2 178.5h18.4v18.4h-18.4zM2320.3 188.8h18.4v18.4h-18.4zM2342.3 188.8h18.4v18.4h-18.4zM2364.4 197.4h18.4v18.4h-18.4zM2386.4 197.4h18.4v18.4h-18.4zM2408.5 209.4h18.4v18.4h-18.4zM2430.5 209.4h18.4v18.4h-18.4zM2452.5 226.1h18.4v18.4h-18.4zM2474.6 226.1h18.4v18.4h-18.4zM2496.6 246.2h18.4v18.4h-18.4zM2518.7 246.2h18.4v18.4h-18.4zM2540.7 272.1h18.4v18.4h-18.4zM2562.7 272.1h18.4v18.4h-18.4zM2584.8 306.2h18.4v18.4h-18.4zM2606.8 306.2h18.4v18.4h-18.4zM2628.9 345.9h18.4v18.4h-18.4zM2650.9 345.9h18.4v18.4h-18.4zM2673 407.6h18.4v18.4h-18.4zM2695 481.3h18.4v18.4h-18.4zM2717 549.6h18.4v18.4h-18.4zM2739.1 615.8h18.4v18.4h-18.4zM2761.1 689.4h18.4v18.4h-18.4zM2783.2 757.9h18.4v18.4h-18.4zM2805.2 821.7h18.4v18.4h-18.4zM2827.3 876h18.4v18.4h-18.4zM2849.3 932.6h18.4v18.4h-18.4zM2871.3 932.6h18.4v18.4h-18.4zM2893.4 963.3h18.4v18.4h-18.4zM2915.4 994.4h18.4v18.4h-18.4zM2937.5 1020h18.4v18.4h-18.4zM2959.5 1039.7h18.4v18.4h-18.4zM2981.6 1059.4h18.4v18.4h-18.4zM3003.6 1074.5h18.4v18.4h-18.4zM3025.6 1087.7h18.4v18.4h-18.4zM3047.7 1087.7h18.4v18.4h-18.4zM3069.7 1095.5h18.4v18.4h-18.4zM3091.8 1102.3h18.4v18.4h-18.4zM3113.8 1106.9h18.4v18.4h-18.4zM3135.8 1110.8h18.4v18.4h-18.4zM3157.9 1114.1h18.4v18.4h-18.4zM3179.9 1116.7h18.4v18.4h-18.4zM3202 1118.4h18.4v18.4h-18.4zM3224 1119.6h18.4v18.4h-18.4zM3246.1 1120.8h18.4v18.4h-18.4zM3268.1 1121.8h18.4v18.4h-18.4zM3290.1 1122.8h18.4v18.4h-18.4zM3312.2 1123.7h18.4v18.4h-18.4zM3334.2 1124.4h18.4v18.4h-18.4zM3356.3 1125h18.4v18.4h-18.4zM3378.3 1125.4h18.4v18.4h-18.4zM3400.4 1125.7h18.4v18.4h-18.4zM3422.4 1125.8h18.4v18.4h-18.4z"/><path fill="#CC9900" d="M2121.9 220.8h18.4v18.4h-18.4zM2143.9 213.7h18.4v18.4h-18.4zM2166 213.3h18.4v18.4h-18.4zM2188 219.5h18.4v18.4h-18.4zM2210.1 231.3h18.4v18.4h-18.4zM2232.1 245.6h18.4v18.4h-18.4zM2254.2 265.1h18.4v18.4h-18.4zM2276.2 278h18.4v18.4h-18.4zM2298.2 296.5h18.4v18.4h-18.4zM2320.3 311.7h18.4v18.4h-18.4zM2342.3 334.4h18.4v18.4h-18.4zM2364.4 356.9h18.4v18.4h-18.4zM2386.4 378.4h18.4v18.4h-18.4zM2408.5 407.8h18.4v18.4h-18.4zM2430.5 432.6h18.4v18.4h-18.4zM2452.5 458.7h18.4v18.4h-18.4zM2474.6 498.2h18.4v18.4h-18.4zM2496.6 546h18.4v18.4h-18.4zM2518.7 601.7h18.4v18.4h-18.4zM2540.7 653.4h18.4v18.4h-18.4zM2562.7 712.9h18.4v18.4h-18.4zM2584.8 763.1h18.4v18.4h-18.4zM2606.8 811.1h18.4v18.4h-18.4zM2628.9 876.3h18.4v18.4h-18.4zM2650.9 914.5h18.4v18.4h-18.4zM2673 949h18.4v18.4h-18.4zM2695 982.3h18.4v18.4h-18.4zM2717 1007h18.4v18.4h-18.4zM2739.1 1029.2h18.4v18.4h-18.4zM2761.1 1049.2h18.4v18.4h-18.4zM2783.2 1063.2h18.4v18.4h-18.4zM2805.2 1075.5h18.4v18.4h-18.4zM2827.3 1085.4h18.4v18.4h-18.4zM2849.3 1092.8h18.4v18.4h-18.4zM2871.3 1100.3h18.4v18.4h-18.4zM2893.4 1105.3h18.4v18.4h-18.4zM2915.4 1109.4h18.4v18.4h-18.4zM2937.5 1112.8h18.4v18.4h-18.4zM2959.5 1115.8h18.4v18.4h-18.4zM2981.6 1118.6h18.4v18.4h-18.4zM3003.6 1120.5h18.4v18.4h-18.4zM3025.6 1121.3h18.4v18.4h-18.4zM3047.7 1121.9h18.4v18.4h-18.4zM3069.7 1122.5h18.4v18.4h-18.4zM3091.8 1123h18.4v18.4h-18.4zM3113.8 1123.5h18.4v18.4h-18.4zM3135.8 1124h18.4v18.4h-18.4zM3157.9 1124.4h18.4v18.4h-18.4zM3179.9 1124.8h18.4v18.4h-18.4zM3202 1125.2h18.4v18.4h-18.4zM3224 1125.5h18.4v18.4h-18.4zM3246.1 1125.8h18.4v18.4h-18.4zM3268.1 1126h18.4v18.4h-18.4zM3290.1 1126.2h18.4v18.4h-18.4zM3312.2 1126.4h18.4v18.4h-18.4zM3334.2 1126.5h18.4v18.4h-18.4zM3356.3 1126.7h18.4v18.4h-18.4zM3378.3 1126.7h18.4v18.4h-18.4zM3400.4 1126.8h18.4v18.4h-18.4zM3422.4 1126.8h18.4v18.4h-18.4z"/><path fill="#B177DE" d="M2124.8 260.8h18.4v18.4h-18.4zM2121.9 240.8h18.4v18.4h-18.4zM2143.9 236.1h18.4v18.4h-18.4zM2166 235.8h18.4v18.4h-18.4zM2188 242h18.4v18.4h-18.4zM2210.1 254h18.4v18.4h-18.4zM2232.1 266.3h18.4v18.4h-18.4zM2254.2 278.4h18.4v18.4h-18.4zM2276.2 292.7h18.4v18.4h-18.4zM2298.2 307.4h18.4v18.4h-18.4zM2320.3 321.8h18.4v18.4h-18.4zM2342.3 340.2h18.4v18.4h-18.4zM2364.4 359.7h18.4v18.4h-18.4zM2386.4 380.8h18.4v18.4h-18.4zM2408.5 412.2h18.4v18.4h-18.4zM2430.5 446.2h18.4v18.4h-18.4zM2452.5 484.7h18.4v18.4h-18.4zM2474.6 528.2h18.4v18.4h-18.4zM2496.6 574.6h18.4v18.4h-18.4zM2518.7 618.9h18.4v18.4h-18.4zM2540.7 664.4h18.4v18.4h-18.4zM2562.7 718.7h18.4v18.4h-18.4zM2584.8 763.9h18.4v18.4h-18.4zM2606.8 807.9h18.4v18.4h-18.4zM2628.9 852.2h18.4v18.4h-18.4zM2650.9 889.2h18.4v18.4h-18.4zM2673 930.7h18.4v18.4h-18.4zM2695 967.1h18.4v18.4h-18.4zM2717 996.8h18.4v18.4h-18.4zM2739.1 1021.7h18.4v18.4h-18.4zM2761.1 1039.3h18.4v18.4h-18.4zM2783.2 1053.2h18.4v18.4h-18.4zM2805.2 1065.5h18.4v18.4h-18.4zM2827.3 1075.3h18.4v18.4h-18.4zM2849.3 1085.2h18.4v18.4h-18.4zM2871.3 1092.8h18.4v18.4h-18.4zM2893.4 1097.8h18.4v18.4h-18.4zM2915.4 1102.8h18.4v18.4h-18.4zM2937.5 1105.7h18.4v18.4h-18.4zM2959.5 1107.9h18.4v18.4h-18.4zM2981.6 1109.6h18.4v18.4h-18.4zM3003.6 1111h18.4v18.4h-18.4zM3025.6 1112.2h18.4v18.4h-18.4zM3047.7 1113.4h18.4v18.4h-18.4zM3069.7 1114.6h18.4v18.4h-18.4zM3091.8 1115.7h18.4v18.4h-18.4zM3113.8 1116.9h18.4v18.4h-18.4zM3135.8 1117.9h18.4v18.4h-18.4zM3157.9 1119h18.4v18.4h-18.4zM3179.9 1119.9h18.4v18.4h-18.4zM3202 1120.9h18.4v18.4h-18.4zM3224 1121.7h18.4v18.4h-18.4zM3246.1 1122.5h18.4v18.4h-18.4zM3268.1 1123.2h18.4v18.4h-18.4zM3290.1 1123.9h18.4v18.4h-18.4zM3312.2 1124.4h18.4v18.4h-18.4zM3334.2 1124.9h18.4v18.4h-18.4zM3356.3 1125.3h18.4v18.4h-18.4zM3378.3 1125.5h18.4v18.4h-18.4zM3400.4 1125.7h18.4v18.4h-18.4zM3422.4 1125.8h18.4v18.4h-18.4z"/><path fill="#5EE54A" d="M2124.3 742.8h18.4v18.4h-18.4zM2121.9 673.3h18.4v18.4h-18.4zM2143.9 612.5h18.4v18.4h-18.4zM2166 542.8h18.4v18.4h-18.4zM2188 474.2h18.4v18.4h-18.4zM2210.1 364.6h18.4v18.4h-18.4zM2232.1 279.2h18.4v18.4h-18.4zM2254.2 227.9h18.4v18.4h-18.4zM2276.2 209.8h18.4v18.4h-18.4zM2298.2 194.7h18.4v18.4h-18.4zM2320.3 184.5h18.4v18.4h-18.4zM2342.3 176.8h18.4v18.4h-18.4zM2364.4 171h18.4v18.4h-18.4zM2386.4 168.3h18.4v18.4h-18.4zM2408.5 168.3h18.4v18.4h-18.4zM2430.5 168.3h18.4v18.4h-18.4zM2452.5 170.3h18.4v18.4h-18.4zM2474.6 174.8h18.4v18.4h-18.4zM2496.6 181.6h18.4v18.4h-18.4zM2518.7 192.9h18.4v18.4h-18.4zM2540.7 208.9h18.4v18.4h-18.4zM2562.7 223.4h18.4v18.4h-18.4zM2584.8 246.8h18.4v18.4h-18.4zM2606.8 270.7h18.4v18.4h-18.4zM2628.9 307.3h18.4v18.4h-18.4zM2650.9 346.3h18.4v18.4h-18.4zM2673 391.7h18.4v18.4h-18.4zM2695 448.9h18.4v18.4h-18.4zM2717 516.9h18.4v18.4h-18.4zM2739.1 585.6h18.4v18.4h-18.4zM2761.1 649.6h18.4v18.4h-18.4zM2783.2 726.5h18.4v18.4h-18.4zM2805.2 726.5h18.4v18.4h-18.4zM2827.3 776.3h18.4v18.4h-18.4zM2849.3 825.3h18.4v18.4h-18.4zM2871.3 865.1h18.4v18.4h-18.4zM2893.4 897.6h18.4v18.4h-18.4zM2915.4 924.9h18.4v18.4h-18.4zM2937.5 949.8h18.4v18.4h-18.4zM2959.5 972.1h18.4v18.4h-18.4zM2981.6 991.8h18.4v18.4h-18.4zM3003.6 1011.3h18.4v18.4h-18.4zM3025.6 1031.2h18.4v18.4h-18.4zM3047.7 1046.3h18.4v18.4h-18.4zM3069.7 1060.2h18.4v18.4h-18.4zM3091.8 1070.1h18.4v18.4h-18.4zM3113.8 1080h18.4v18.4h-18.4zM3135.8 1087.5h18.4v18.4h-18.4zM3157.9 1095h18.4v18.4h-18.4zM3179.9 1100.1h18.4v18.4h-18.4zM3202 1105.1h18.4v18.4h-18.4zM3224 1108.1h18.4v18.4h-18.4zM3246.1 1110.3h18.4v18.4h-18.4zM3268.1 1112.7h18.4v18.4h-18.4zM3290.1 1115h18.4v18.4h-18.4zM3312.2 1116.5h18.4v18.4h-18.4zM3334.2 1117.8h18.4v18.4h-18.4zM3356.3 1118.9h18.4v18.4h-18.4zM3378.3 1119.9h18.4v18.4h-18.4zM3400.4 1120.5h18.4v18.4h-18.4zM3422.4 1120.8h18.4v18.4h-18.4z"/></g>
<g fill="none" stroke="#000" stroke-width="3.6" stroke-linejoin="round"><polyline points="2131.1,319.6 2153.1,313.2 2175.2,310.1 2197.2,310.6 2219.3,312.4 2241.3,316.3 2263.4,322.8 2285.4,331.1 2307.4,342.5 2329.5,356.2 2351.5,373.2 2373.6,393.6 2395.6,419.5 2417.7,448 2439.7,479.5 2461.7,515.6 2483.8,554.8 2505.8,596 2527.9,638.3 2549.9,682.2 2571.9,726.5 2594,770.3 2616,812.8 2638.1,850.6 2660.1,886.6 2682.2,920.5 2704.2,948.2 2726.2,973.4 2748.3,995 2770.3,1012.7 2792.4,1027.9 2814.4,1041.7 2836.5,1054.7 2858.5,1066.9 2880.5,1077.3 2902.6,1086.4 2924.6,1094 2946.7,1100.7 2968.7,1106.8 2990.8,1112.2 3012.8,1116.4 3034.8,1119.6 3056.9,1122.3 3078.9,1124.7 3101,1126.5 3123,1127.6 3145,1128.4 3167.1,1129.2 3189.1,1129.9 3211.2,1130.6 3233.2,1131.2 3255.3,1131.8 3277.3,1132.3 3299.3,1132.7 3321.4,1133.1 3343.4,1133.4 3365.5,1133.7 3387.5,1133.8 3409.6,1134 3431.6,1134"/><polyline points="2131.1,386.4 2153.1,348 2175.2,332.5 2197.2,323.1 2219.3,322.5 2241.3,326.3 2263.4,333.7 2285.4,342.9 2307.4,353.5 2329.5,366.3 2351.5,382.9 2373.6,403.6 2395.6,426.3 2417.7,452.1 2439.7,481.6 2461.7,514.8 2483.8,551.7 2505.8,592.1 2527.9,635 2549.9,679.7 2571.9,724.4 2594,768.5 2616,809.9 2638.1,848.7 2660.1,883.5 2682.2,914.9 2704.2,942.1 2726.2,966.2 2748.3,987.8 2770.3,1007.3 2792.4,1024.1 2814.4,1038.7 2836.5,1051.3 2858.5,1062.3 2880.5,1072.1 2902.6,1081.1 2924.6,1089.1 2946.7,1096.2 2968.7,1102.2 2990.8,1107.2 3012.8,1111.9 3034.8,1115.9 3056.9,1118.8 3078.9,1120.6 3101,1122 3123,1123.4 3145,1124.6 3167.1,1125.8 3189.1,1126.9 3211.2,1127.9 3233.2,1128.9 3255.3,1129.7 3277.3,1130.4 3299.3,1131.1 3321.4,1131.7 3343.4,1132.1 3365.5,1132.5 3387.5,1132.8 3409.6,1132.9 3431.6,1133"/><polyline points="2131.1,415 2153.1,415.7 2175.2,417.1 2197.2,419.3 2219.3,422.1 2241.3,424.5 2263.4,427 2285.4,430.1 2307.4,434 2329.5,438.8 2351.5,444.2 2373.6,449.3 2395.6,454.5 2417.7,460.3 2439.7,468.8 2461.7,478.5 2483.8,488.1 2505.8,502 2527.9,518.6 2549.9,540 2571.9,559.7 2594,581.2 2616,607.5 2638.1,635 2660.1,666.5 2682.2,698.1 2704.2,736.2 2726.2,768.1 2748.3,804.8 2770.3,836.8 2792.4,869.8 2814.4,901.7 2836.5,931.2 2858.5,958.3 2880.5,980.6 2902.6,1002.7 2924.6,1022.2 2946.7,1039.5 2968.7,1051.9 2990.8,1061.7 3012.8,1071.6 3034.8,1079.9 3056.9,1087.3 3078.9,1092.2 3101,1098.9 3123,1104.2 3145,1109 3167.1,1113.3 3189.1,1117 3211.2,1120.2 3233.2,1122.9 3255.3,1125.4 3277.3,1127.6 3299.3,1129.3 3321.4,1130.7 3343.4,1131.9 3365.5,1133 3387.5,1133.9 3409.6,1134.6 3431.6,1135"/><polyline points="2131.1,185 2153.1,180.7 2175.2,177.6 2197.2,177.5 2219.3,177.5 2241.3,178.8 2263.4,181.9 2285.4,187.7 2307.4,187.7 2329.5,198 2351.5,198 2373.6,206.6 2395.6,206.6 2417.7,218.6 2439.7,218.6 2461.7,235.3 2483.8,235.3 2505.8,255.4 2527.9,255.4 2549.9,281.3 2571.9,281.3 2594,315.4 2616,315.4 2638.1,355.1 2660.1,355.1 2682.2,416.8 2704.2,490.5 2726.2,558.8 2748.3,625 2770.3,698.6 2792.4,767.1 2814.4,830.9 2836.5,885.2 2858.5,941.8 2880.5,941.8 2902.6,972.5 2924.6,1003.6 2946.7,1029.2 2968.7,1048.9 2990.8,1068.6 3012.8,1083.7 3034.8,1096.9 3056.9,1096.9 3078.9,1104.7 3101,1111.5 3123,1116.1 3145,1120 3167.1,1123.3 3189.1,1125.9 3211.2,1127.6 3233.2,1128.8 3255.3,1130 3277.3,1131 3299.3,1132 3321.4,1132.9 3343.4,1133.6 3365.5,1134.2 3387.5,1134.6 3409.6,1134.9 3431.6,1135"/><polyline points="2131.1,241.2 2153.1,245.7 2175.2,251.5 2197.2,258.9 2219.3,267.2 2241.3,275.5 2263.4,284.5 2285.4,295.2 2307.4,307.7 2329.5,320.5 2351.5,334.2 2373.6,349.7 2395.6,370.3 2417.7,396.9 2439.7,431 2461.7,469.6 2483.8,511.9 2505.8,558.3 2527.9,607.9 2549.9,658.8 2571.9,709.5 2594,760.2 2616,808.9 2638.1,856.1 2660.1,897.9 2682.2,935.3 2704.2,967.7 2726.2,994.8 2748.3,1018.2 2770.3,1037.8 2792.4,1055.6 2814.4,1069.4 2836.5,1081 2858.5,1090.7 2880.5,1098.6 2902.6,1105.4 2924.6,1111.1 2946.7,1116 2968.7,1119.8 2990.8,1122.8 3012.8,1125.5 3034.8,1127.8 3056.9,1129.4 3078.9,1130.3 3101,1131 3123,1131.6 3145,1132.2 3167.1,1132.8 3189.1,1133.3 3211.2,1133.7 3233.2,1134.2 3255.3,1134.5 3277.3,1134.9 3299.3,1135.2 3321.4,1135.4 3343.4,1135.6 3365.5,1135.8 3387.5,1135.9 3409.6,1136 3431.6,1136"/><polyline points="2131.1,244.2 2153.1,248.4 2175.2,253.9 2197.2,261.3 2219.3,269.7 2241.3,278.4 2263.4,287.9 2285.4,299 2307.4,311.8 2329.5,324.2 2351.5,337.1 2373.6,352.5 2395.6,370.6 2417.7,392.4 2439.7,421.9 2461.7,457.6 2483.8,499.4 2505.8,544.9 2527.9,592 2549.9,641.1 2571.9,692 2594,742.7 2616,791.3 2638.1,840.3 2660.1,884.4 2682.2,924 2704.2,958.7 2726.2,987.4 2748.3,1010.9 2770.3,1032.8 2792.4,1050.6 2814.4,1065.7 2836.5,1077.5 2858.5,1087.7 2880.5,1096.4 2902.6,1103.6 2924.6,1109.7 2946.7,1114.8 2968.7,1118.8 2990.8,1122 3012.8,1124.8 3034.8,1127.2 3056.9,1128.9 3078.9,1129.8 3101,1130.5 3123,1131.1 3145,1131.7 3167.1,1132.3 3189.1,1132.8 3211.2,1133.3 3233.2,1133.7 3255.3,1134.1 3277.3,1134.4 3299.3,1134.7 3321.4,1134.9 3343.4,1135.1 3365.5,1135.3 3387.5,1135.4 3409.6,1135.5 3431.6,1135.5"/><polyline points="2131.1,682.5 2153.1,621.7 2175.2,552 2197.2,483.4 2197.2,423.1 2219.3,373.8 2219.3,326.8 2241.3,288.4 2263.4,237.1 2285.4,219 2307.4,203.9 2329.5,193.7 2351.5,186 2373.6,180.2 2395.6,177.5 2417.7,177.5 2439.7,177.5 2461.7,179.5 2483.8,184 2505.8,190.8 2527.9,202.1 2549.9,218.1 2571.9,232.6 2594,256 2616,279.9 2638.1,316.5 2660.1,355.5 2682.2,400.9 2704.2,458.1 2726.2,526.1 2748.3,594.8 2770.3,658.8 2792.4,735.7 2814.4,735.7 2836.5,785.5 2858.5,834.5 2880.5,874.3 2902.6,906.8 2924.6,934.1 2946.7,959 2968.7,981.3 2990.8,1001 3012.8,1020.5 3034.8,1040.4 3056.9,1055.5 3078.9,1069.4 3101,1079.3 3123,1089.2 3145,1096.7 3167.1,1104.2 3189.1,1109.3 3211.2,1114.3 3233.2,1117.3 3255.3,1119.5 3277.3,1121.9 3299.3,1124.2 3321.4,1125.7 3343.4,1127 3365.5,1128.1 3387.5,1129.1 3409.6,1129.7 3431.6,1130"/></g>
</g>
<path fill="none" stroke="#000" stroke-width="4.6" stroke-linejoin="miter" d="M2131.1 38H3431.6V1243H2131.1z"/>
<path fill="none" stroke="#000" stroke-width="3.8" stroke-linecap="butt" d="M2131.1 1243h-11M2131.1 1142.6h-23M2131.1 1042.2h-11M2131.1 941.8h-23M2131.1 841.3h-11M2131.1 740.9h-23M2131.1 640.5h-11M2131.1 540.1h-23M2131.1 439.7h-11M2131.1 339.2h-23M2131.1 238.8h-11M2131.1 138.4h-23M2131.1 38h-11M2131.1 1243v23M2196.3 1243v11M2234.5 1243v11M2261.6 1243v11M2282.6 1243v11M2299.8 1243v11M2314.3 1243v11M2326.8 1243v11M2337.9 1243v11M2347.8 1243v23M2413.1 1243v11M2451.3 1243v11M2478.3 1243v11M2499.4 1243v11M2516.5 1243v11M2531 1243v11M2543.6 1243v11M2554.7 1243v11M2564.6 1243v23M2629.8 1243v11M2668 1243v11M2695.1 1243v11M2716.1 1243v11M2733.3 1243v11M2747.8 1243v11M2760.3 1243v11M2771.4 1243v11M2781.3 1243v23M2846.6 1243v11M2884.8 1243v11M2911.8 1243v11M2932.9 1243v11M2950 1243v11M2964.5 1243v11M2977.1 1243v11M2988.2 1243v11M2998.1 1243v23M3063.3 1243v11M3101.5 1243v11M3128.6 1243v11M3149.6 1243v11M3166.8 1243v11M3181.3 1243v11M3193.8 1243v11M3204.9 1243v11M3214.8 1243v23M3280.1 1243v11M3318.3 1243v11M3345.3 1243v11M3366.4 1243v11M3383.5 1243v11M3398 1243v11M3410.6 1243v11M3421.7 1243v11M3431.6 1243v23"/>
<g font-size="59.5">
<text x="2093.5" y="1159.1" text-anchor="end">0</text>
<text x="2093.5" y="958.2" text-anchor="end">1000</text>
<text x="2093.5" y="757.4" text-anchor="end">2000</text>
<text x="2093.5" y="556.6" text-anchor="end">3000</text>
<text x="2093.5" y="355.8" text-anchor="end">4000</text>
<text x="2093.5" y="154.9" text-anchor="end">5000</text>
<text x="3455.1" y="1150">0</text>
<text x="3455.1" y="930.9">20</text>
<text x="3455.1" y="711.8">40</text>
<text x="3455.1" y="492.7">60</text>
<text x="3455.1" y="273.6">80</text>
<text x="3455.1" y="54.5">100</text>
<text x="2131.1" y="1325" text-anchor="middle">0.1</text>
<text x="2347.8" y="1325" text-anchor="middle">1</text>
<text x="2564.6" y="1325" text-anchor="middle">10</text>
<text x="2781.3" y="1325" text-anchor="middle">100</text>
<text x="2998.1" y="1325" text-anchor="middle">1000</text>
<text x="3214.8" y="1325" text-anchor="middle">10000</text>
<text x="3431.6" y="1325" text-anchor="middle">100000</text>
</g>
<g font-size="85" text-anchor="middle">
<text letter-spacing="0.8" transform="translate(1943.1 637.5) rotate(-90)">|Z| (Ω·cm<tspan font-size="52" dy="-30">-2</tspan><tspan dy="30">)</tspan></text>
<text transform="translate(3629.6 640.5) rotate(-90)">θ (deg)</text>
<text x="2770.8" y="1426" font-size="83.5">f (Hz)</text>
</g>
<g font-size="60">
<path fill="#515151" d="M3030.1 137.7h21v21h-21z"/>
<text x="3128" y="168.7">1day</text>
<path fill="#1A6FDF" d="M3029.9 224.6a10.7 10.7 0 1 0 21.4 0a10.7 10.7 0 1 0 -21.4 0z"/>
<text x="3128" y="245.1">2day</text>
<path fill="#F14040" d="M3040.6 287.6L3053.3 308.6L3027.9 308.6z"/>
<text x="3128" y="321.5">3day</text>
<path fill="#37AD6B" d="M3040.6 390.8L3053.3 369.8L3027.9 369.8z"/>
<text x="3128" y="397.9">5day</text>
<path fill="#CC9900" d="M3040.6 440.9L3053.5 453.8L3040.6 466.7L3027.7 453.8z"/>
<text x="3128" y="474.3">7day</text>
<path fill="#B177DE" d="M3026.8 530.2L3048.4 517.9L3048.4 542.5z"/>
<text x="3128" y="550.7">10day</text>
<path fill="#5EE54A" d="M3054.4 606.6L3032.8 594.3L3032.8 618.9z"/>
<text x="3128" y="627.1">14day</text>
</g>
<text x="2727" y="1599.5" font-size="82" text-anchor="middle" font-family='"Liberation Serif", "DejaVu Serif", serif'>(<tspan font-weight="bold">f</tspan>)</text>
</g>
<g id="plot-g">
<clipPath id="clip-g"><rect x="302.7" y="1673.5" width="1316.6" height="1219.9"/></clipPath>
<path fill="none" stroke="#000" stroke-width="3.8" d="M1619.3 2771.4h-23M1619.3 2649.4h-11M1619.3 2527.4h-23M1619.3 2405.4h-11M1619.3 2283.4h-23M1619.3 2161.5h-11M1619.3 2039.5h-23M1619.3 1917.5h-11M1619.3 1795.5h-23"/>
<g clip-path="url(#clip-g)">
<g><path fill="#515151" d="M293.5 2033.3h18.4v18.4h-18.4zM315.8 2088.8h18.4v18.4h-18.4zM338.1 2158.1h18.4v18.4h-18.4zM360.4 2227.2h18.4v18.4h-18.4zM382.8 2306.5h18.4v18.4h-18.4zM405.1 2374.3h18.4v18.4h-18.4zM427.4 2439h18.4v18.4h-18.4zM449.7 2500.6h18.4v18.4h-18.4zM472 2550.3h18.4v18.4h-18.4zM494.3 2590.1h18.4v18.4h-18.4zM516.7 2622.4h18.4v18.4h-18.4zM539 2654.7h18.4v18.4h-18.4zM561.3 2682.5h18.4v18.4h-18.4zM583.6 2695.1h18.4v18.4h-18.4zM605.9 2707.5h18.4v18.4h-18.4zM628.2 2720.1h18.4v18.4h-18.4zM650.5 2727.7h18.4v18.4h-18.4zM672.9 2735.2h18.4v18.4h-18.4zM695.2 2742h18.4v18.4h-18.4zM717.5 2747.8h18.4v18.4h-18.4zM739.8 2752.3h18.4v18.4h-18.4zM762.1 2756h18.4v18.4h-18.4zM784.4 2758.8h18.4v18.4h-18.4zM806.8 2761h18.4v18.4h-18.4zM829.1 2762.8h18.4v18.4h-18.4zM851.4 2764.4h18.4v18.4h-18.4zM873.7 2765.5h18.4v18.4h-18.4zM896 2766.4h18.4v18.4h-18.4zM918.3 2767.2h18.4v18.4h-18.4zM940.6 2767.8h18.4v18.4h-18.4zM963 2768.3h18.4v18.4h-18.4zM985.3 2768.8h18.4v18.4h-18.4zM1007.6 2769.3h18.4v18.4h-18.4zM1029.9 2769.8h18.4v18.4h-18.4zM1052.2 2770.4h18.4v18.4h-18.4zM1074.5 2770.9h18.4v18.4h-18.4zM1096.8 2771.5h18.4v18.4h-18.4zM1119.2 2772.1h18.4v18.4h-18.4zM1141.5 2772.5h18.4v18.4h-18.4zM1163.8 2772.7h18.4v18.4h-18.4zM1186.1 2772.8h18.4v18.4h-18.4zM1208.4 2772.8h18.4v18.4h-18.4zM1230.7 2772.8h18.4v18.4h-18.4zM1253.1 2772.8h18.4v18.4h-18.4zM1275.4 2772.8h18.4v18.4h-18.4zM1297.7 2772.8h18.4v18.4h-18.4zM1320 2772.8h18.4v18.4h-18.4zM1342.3 2772.8h18.4v18.4h-18.4zM1364.6 2772.8h18.4v18.4h-18.4zM1386.9 2772.8h18.4v18.4h-18.4zM1409.3 2772.8h18.4v18.4h-18.4zM1431.6 2772.8h18.4v18.4h-18.4zM1453.9 2772.8h18.4v18.4h-18.4zM1476.2 2772.8h18.4v18.4h-18.4zM1498.5 2772.8h18.4v18.4h-18.4zM1520.8 2772.8h18.4v18.4h-18.4zM1543.2 2772.8h18.4v18.4h-18.4zM1565.5 2772.8h18.4v18.4h-18.4zM1587.8 2772.8h18.4v18.4h-18.4zM1610.1 2772.8h18.4v18.4h-18.4z"/><path fill="#1A6FDF" d="M292.1 2300a10.6 10.6 0 1 0 21.3 0a10.6 10.6 0 1 0 -21.3 0zM314.4 2325.3a10.6 10.6 0 1 0 21.3 0a10.6 10.6 0 1 0 -21.3 0zM336.7 2359.8a10.6 10.6 0 1 0 21.3 0a10.6 10.6 0 1 0 -21.3 0zM359 2396.7a10.6 10.6 0 1 0 21.3 0a10.6 10.6 0 1 0 -21.3 0zM381.3 2441a10.6 10.6 0 1 0 21.3 0a10.6 10.6 0 1 0 -21.3 0zM403.6 2483.1a10.6 10.6 0 1 0 21.3 0a10.6 10.6 0 1 0 -21.3 0zM426 2530.5a10.6 10.6 0 1 0 21.3 0a10.6 10.6 0 1 0 -21.3 0zM448.3 2565.8a10.6 10.6 0 1 0 21.3 0a10.6 10.6 0 1 0 -21.3 0zM470.6 2605.4a10.6 10.6 0 1 0 21.3 0a10.6 10.6 0 1 0 -21.3 0zM492.9 2639.4a10.6 10.6 0 1 0 21.3 0a10.6 10.6 0 1 0 -21.3 0zM515.2 2664.3a10.6 10.6 0 1 0 21.3 0a10.6 10.6 0 1 0 -21.3 0zM537.5 2686.8a10.6 10.6 0 1 0 21.3 0a10.6 10.6 0 1 0 -21.3 0zM559.9 2704.3a10.6 10.6 0 1 0 21.3 0a10.6 10.6 0 1 0 -21.3 0zM582.2 2719.3a10.6 10.6 0 1 0 21.3 0a10.6 10.6 0 1 0 -21.3 0zM604.5 2731.8a10.6 10.6 0 1 0 21.3 0a10.6 10.6 0 1 0 -21.3 0zM626.8 2741.9a10.6 10.6 0 1 0 21.3 0a10.6 10.6 0 1 0 -21.3 0zM649.1 2749.4a10.6 10.6 0 1 0 21.3 0a10.6 10.6 0 1 0 -21.3 0zM671.4 2757a10.6 10.6 0 1 0 21.3 0a10.6 10.6 0 1 0 -21.3 0zM693.7 2762.7a10.6 10.6 0 1 0 21.3 0a10.6 10.6 0 1 0 -21.3 0zM716.1 2767.1a10.6 10.6 0 1 0 21.3 0a10.6 10.6 0 1 0 -21.3 0zM738.4 2770.2a10.6 10.6 0 1 0 21.3 0a10.6 10.6 0 1 0 -21.3 0zM760.7 2772.6a10.6 10.6 0 1 0 21.3 0a10.6 10.6 0 1 0 -21.3 0zM783 2774.3a10.6 10.6 0 1 0 21.3 0a10.6 10.6 0 1 0 -21.3 0zM805.3 2775.6a10.6 10.6 0 1 0 21.3 0a10.6 10.6 0 1 0 -21.3 0zM827.6 2776.8a10.6 10.6 0 1 0 21.3 0a10.6 10.6 0 1 0 -21.3 0zM850 2777.7a10.6 10.6 0 1 0 21.3 0a10.6 10.6 0 1 0 -21.3 0zM872.3 2778.4a10.6 10.6 0 1 0 21.3 0a10.6 10.6 0 1 0 -21.3 0zM894.6 2778.8a10.6 10.6 0 1 0 21.3 0a10.6 10.6 0 1 0 -21.3 0zM916.9 2779.3a10.6 10.6 0 1 0 21.3 0a10.6 10.6 0 1 0 -21.3 0zM939.2 2779.7a10.6 10.6 0 1 0 21.3 0a10.6 10.6 0 1 0 -21.3 0zM961.5 2780.1a10.6 10.6 0 1 0 21.3 0a10.6 10.6 0 1 0 -21.3 0zM983.8 2780.4a10.6 10.6 0 1 0 21.3 0a10.6 10.6 0 1 0 -21.3 0zM1006.2 2780.7a10.6 10.6 0 1 0 21.3 0a10.6 10.6 0 1 0 -21.3 0zM1028.5 2781a10.6 10.6 0 1 0 21.3 0a10.6 10.6 0 1 0 -21.3 0zM1050.8 2781.3a10.6 10.6 0 1 0 21.3 0a10.6 10.6 0 1 0 -21.3 0zM1073.1 2781.5a10.6 10.6 0 1 0 21.3 0a10.6 10.6 0 1 0 -21.3 0zM1095.4 2781.7a10.6 10.6 0 1 0 21.3 0a10.6 10.6 0 1 0 -21.3 0zM1117.7 2781.8a10.6 10.6 0 1 0 21.3 0a10.6 10.6 0 1 0 -21.3 0zM1140.1 2781.9a10.6 10.6 0 1 0 21.3 0a10.6 10.6 0 1 0 -21.3 0zM1162.4 2782a10.6 10.6 0 1 0 21.3 0a10.6 10.6 0 1 0 -21.3 0zM1184.7 2782a10.6 10.6 0 1 0 21.3 0a10.6 10.6 0 1 0 -21.3 0zM1207 2782a10.6 10.6 0 1 0 21.3 0a10.6 10.6 0 1 0 -21.3 0zM1229.3 2782a10.6 10.6 0 1 0 21.3 0a10.6 10.6 0 1 0 -21.3 0zM1251.6 2782a10.6 10.6 0 1 0 21.3 0a10.6 10.6 0 1 0 -21.3 0zM1273.9 2782a10.6 10.6 0 1 0 21.3 0a10.6 10.6 0 1 0 -21.3 0zM1296.3 2782a10.6 10.6 0 1 0 21.3 0a10.6 10.6 0 1 0 -21.3 0zM1318.6 2782a10.6 10.6 0 1 0 21.3 0a10.6 10.6 0 1 0 -21.3 0zM1340.9 2782a10.6 10.6 0 1 0 21.3 0a10.6 10.6 0 1 0 -21.3 0zM1363.2 2782a10.6 10.6 0 1 0 21.3 0a10.6 10.6 0 1 0 -21.3 0zM1385.5 2782a10.6 10.6 0 1 0 21.3 0a10.6 10.6 0 1 0 -21.3 0zM1407.8 2782a10.6 10.6 0 1 0 21.3 0a10.6 10.6 0 1 0 -21.3 0zM1430.2 2782a10.6 10.6 0 1 0 21.3 0a10.6 10.6 0 1 0 -21.3 0zM1452.5 2782a10.6 10.6 0 1 0 21.3 0a10.6 10.6 0 1 0 -21.3 0zM1474.8 2782a10.6 10.6 0 1 0 21.3 0a10.6 10.6 0 1 0 -21.3 0zM1497.1 2782a10.6 10.6 0 1 0 21.3 0a10.6 10.6 0 1 0 -21.3 0zM1519.4 2782a10.6 10.6 0 1 0 21.3 0a10.6 10.6 0 1 0 -21.3 0zM1541.7 2782a10.6 10.6 0 1 0 21.3 0a10.6 10.6 0 1 0 -21.3 0zM1564 2782a10.6 10.6 0 1 0 21.3 0a10.6 10.6 0 1 0 -21.3 0zM1586.4 2782a10.6 10.6 0 1 0 21.3 0a10.6 10.6 0 1 0 -21.3 0zM1608.7 2782a10.6 10.6 0 1 0 21.3 0a10.6 10.6 0 1 0 -21.3 0z"/><path fill="#F14040" d="M302.7 2387L315.6 2407.3L289.8 2407.3zM325 2400.9L337.9 2421.2L312.1 2421.2zM347.3 2416.4L360.2 2436.7L334.5 2436.7zM369.6 2442.9L382.5 2463.2L356.8 2463.2zM392 2482.8L404.8 2503.1L379.1 2503.1zM414.3 2537L427.1 2557.2L401.4 2557.2zM436.6 2582.7L449.5 2603L423.7 2603zM458.9 2618.9L471.8 2639.2L446 2639.2zM481.2 2639.4L494.1 2659.7L468.4 2659.7zM503.5 2664.1L516.4 2684.3L490.7 2684.3zM525.9 2684L538.7 2704.3L513 2704.3zM548.2 2699L561 2719.3L535.3 2719.3zM570.5 2711.5L583.4 2731.8L557.6 2731.8zM592.8 2721.5L605.7 2741.8L579.9 2741.8zM615.1 2731.5L628 2751.8L602.2 2751.8zM637.4 2739.1L650.3 2759.4L624.6 2759.4zM659.7 2744.6L672.6 2764.9L646.9 2764.9zM682.1 2749.2L694.9 2769.4L669.2 2769.4zM704.4 2753.2L717.2 2773.5L691.5 2773.5zM726.7 2756.6L739.6 2776.9L713.8 2776.9zM749 2759L761.9 2779.2L736.1 2779.2zM771.3 2760.9L784.2 2781.1L758.5 2781.1zM793.6 2762.5L806.5 2782.7L780.8 2782.7zM816 2763.7L828.8 2784L803.1 2784zM838.3 2764.5L851.1 2784.8L825.4 2784.8zM860.6 2765L873.5 2785.3L847.7 2785.3zM882.9 2765.5L895.8 2785.8L870 2785.8zM905.2 2766L918.1 2786.3L892.3 2786.3zM927.5 2766.4L940.4 2786.7L914.7 2786.7zM949.8 2766.9L962.7 2787.1L937 2787.1zM972.2 2767.2L985 2787.5L959.3 2787.5zM994.5 2767.6L1007.3 2787.9L981.6 2787.9zM1016.8 2767.9L1029.7 2788.2L1003.9 2788.2zM1039.1 2768.2L1052 2788.4L1026.2 2788.4zM1061.4 2768.4L1074.3 2788.7L1048.5 2788.7zM1083.7 2768.6L1096.6 2788.9L1070.9 2788.9zM1106 2768.7L1118.9 2789L1093.2 2789zM1128.4 2768.9L1141.2 2789.2L1115.5 2789.2zM1150.7 2769L1163.5 2789.2L1137.8 2789.2zM1173 2769L1185.9 2789.3L1160.1 2789.3zM1195.3 2769L1208.2 2789.3L1182.4 2789.3zM1217.6 2769L1230.5 2789.3L1204.8 2789.3zM1239.9 2769L1252.8 2789.3L1227.1 2789.3zM1262.3 2769L1275.1 2789.3L1249.4 2789.3zM1284.6 2769L1297.4 2789.3L1271.7 2789.3zM1306.9 2769L1319.8 2789.3L1294 2789.3zM1329.2 2769L1342.1 2789.3L1316.3 2789.3zM1351.5 2769L1364.4 2789.3L1338.6 2789.3zM1373.8 2769L1386.7 2789.3L1361 2789.3zM1396.1 2769L1409 2789.3L1383.3 2789.3zM1418.5 2769L1431.3 2789.3L1405.6 2789.3zM1440.8 2769L1453.6 2789.3L1427.9 2789.3zM1463.1 2769L1476 2789.3L1450.2 2789.3zM1485.4 2769L1498.3 2789.3L1472.5 2789.3zM1507.7 2769L1520.6 2789.3L1494.9 2789.3zM1530 2769L1542.9 2789.3L1517.2 2789.3zM1552.4 2769L1565.2 2789.3L1539.5 2789.3zM1574.7 2769L1587.5 2789.3L1561.8 2789.3zM1597 2769L1609.9 2789.3L1584.1 2789.3zM1619.3 2769L1632.2 2789.3L1606.4 2789.3z"/><path fill="#37AD6B" d="M302.7 2745.5L315.6 2725.2L289.8 2725.2zM325 2757.3L337.9 2737L312.1 2737zM347.3 2765L360.2 2744.8L334.5 2744.8zM369.6 2770.1L382.5 2749.8L356.8 2749.8zM392 2775.1L404.8 2754.8L379.1 2754.8zM414.3 2779.2L427.1 2758.9L401.4 2758.9zM436.6 2782.7L449.5 2762.4L423.7 2762.4zM458.9 2785.3L471.8 2765.1L446 2765.1zM481.2 2787.4L494.1 2767.2L468.4 2767.2zM503.5 2788.8L516.4 2768.5L490.7 2768.5zM525.9 2790L538.7 2769.7L513 2769.7zM548.2 2791L561 2770.7L535.3 2770.7zM570.5 2791.7L583.4 2771.4L557.6 2771.4zM592.8 2792L605.7 2771.7L579.9 2771.7zM615.1 2792.3L628 2772L602.2 2772zM637.4 2792.5L650.3 2772.2L624.6 2772.2zM659.7 2792.7L672.6 2772.4L646.9 2772.4zM682.1 2792.9L694.9 2772.6L669.2 2772.6zM704.4 2793.1L717.2 2772.8L691.5 2772.8zM726.7 2793.3L739.6 2773L713.8 2773zM749 2793.4L761.9 2773.2L736.1 2773.2zM771.3 2793.6L784.2 2773.3L758.5 2773.3zM793.6 2793.8L806.5 2773.5L780.8 2773.5zM816 2793.9L828.8 2773.6L803.1 2773.6zM838.3 2794L851.1 2773.8L825.4 2773.8zM860.6 2794.2L873.5 2773.9L847.7 2773.9zM882.9 2794.3L895.8 2774L870 2774zM905.2 2794.4L918.1 2774.1L892.3 2774.1zM927.5 2794.5L940.4 2774.2L914.7 2774.2zM949.8 2794.6L962.7 2774.3L937 2774.3zM972.2 2794.6L985 2774.4L959.3 2774.4zM994.5 2794.7L1007.3 2774.4L981.6 2774.4zM1016.8 2794.8L1029.7 2774.5L1003.9 2774.5zM1039.1 2794.8L1052 2774.5L1026.2 2774.5zM1061.4 2794.9L1074.3 2774.6L1048.5 2774.6zM1083.7 2794.9L1096.6 2774.6L1070.9 2774.6zM1106 2794.9L1118.9 2774.7L1093.2 2774.7zM1128.4 2795L1141.2 2774.7L1115.5 2774.7zM1150.7 2795L1163.5 2774.7L1137.8 2774.7zM1173 2795L1185.9 2774.7L1160.1 2774.7zM1195.3 2795L1208.2 2774.7L1182.4 2774.7zM1217.6 2795L1230.5 2774.7L1204.8 2774.7zM1239.9 2795L1252.8 2774.7L1227.1 2774.7zM1262.3 2795L1275.1 2774.7L1249.4 2774.7zM1284.6 2795L1297.4 2774.7L1271.7 2774.7zM1306.9 2795L1319.8 2774.7L1294 2774.7zM1329.2 2795L1342.1 2774.7L1316.3 2774.7zM1351.5 2795L1364.4 2774.7L1338.6 2774.7zM1373.8 2795L1386.7 2774.7L1361 2774.7zM1396.1 2795L1409 2774.7L1383.3 2774.7zM1418.5 2795L1431.3 2774.7L1405.6 2774.7zM1440.8 2795L1453.6 2774.7L1427.9 2774.7zM1463.1 2795L1476 2774.7L1450.2 2774.7zM1485.4 2795L1498.3 2774.7L1472.5 2774.7zM1507.7 2795L1520.6 2774.7L1494.9 2774.7zM1530 2795L1542.9 2774.7L1517.2 2774.7zM1552.4 2795L1565.2 2774.7L1539.5 2774.7zM1574.7 2795L1587.5 2774.7L1561.8 2774.7zM1597 2795L1609.9 2774.7L1584.1 2774.7zM1619.3 2795L1632.2 2774.7L1606.4 2774.7z"/><path fill="#CC9900" d="M302.7 2412.2L315.5 2425L302.7 2437.8L289.9 2425zM325 2444.5L337.8 2457.2L325 2470L312.2 2457.2zM347.3 2489L360.1 2501.8L347.3 2514.6L334.6 2501.8zM369.6 2528.9L382.4 2541.7L369.6 2554.5L356.9 2541.7zM392 2568.6L404.7 2581.4L392 2594.1L379.2 2581.4zM414.3 2608.6L427 2621.4L414.3 2634.2L401.5 2621.4zM436.6 2641.8L449.4 2654.6L436.6 2667.3L423.8 2654.6zM458.9 2664.7L471.7 2677.4L458.9 2690.2L446.1 2677.4zM481.2 2679.6L494 2692.3L481.2 2705.1L468.4 2692.3zM503.5 2692L516.3 2704.8L503.5 2717.5L490.8 2704.8zM525.9 2701.9L538.6 2714.7L525.9 2727.5L513.1 2714.7zM548.2 2711.9L560.9 2724.7L548.2 2737.5L535.4 2724.7zM570.5 2719.4L583.3 2732.2L570.5 2744.9L557.7 2732.2zM592.8 2726.9L605.6 2739.7L592.8 2752.4L580 2739.7zM615.1 2731.9L627.9 2744.7L615.1 2757.5L602.3 2744.7zM637.4 2736.9L650.2 2749.7L637.4 2762.4L624.7 2749.7zM659.7 2741.6L672.5 2754.3L659.7 2767.1L647 2754.3zM682.1 2745.9L694.8 2758.7L682.1 2771.4L669.3 2758.7zM704.4 2749.8L717.1 2762.6L704.4 2775.3L691.6 2762.6zM726.7 2753.2L739.5 2766L726.7 2778.8L713.9 2766zM749 2755.8L761.8 2768.5L749 2781.3L736.2 2768.5zM771.3 2757.9L784.1 2770.6L771.3 2783.4L758.5 2770.6zM793.6 2759.7L806.4 2772.5L793.6 2785.2L780.9 2772.5zM816 2761.2L828.7 2773.9L816 2786.7L803.2 2773.9zM838.3 2762.2L851 2775L838.3 2787.7L825.5 2775zM860.6 2763L873.4 2775.7L860.6 2788.5L847.8 2775.7zM882.9 2763.7L895.7 2776.5L882.9 2789.3L870.1 2776.5zM905.2 2764.4L918 2777.2L905.2 2790L892.4 2777.2zM927.5 2765.1L940.3 2777.9L927.5 2790.6L914.8 2777.9zM949.8 2765.7L962.6 2778.5L949.8 2791.3L937.1 2778.5zM972.2 2766.3L984.9 2779.1L972.2 2791.8L959.4 2779.1zM994.5 2766.8L1007.2 2779.6L994.5 2792.4L981.7 2779.6zM1016.8 2767.3L1029.6 2780.1L1016.8 2792.9L1004 2780.1zM1039.1 2767.8L1051.9 2780.5L1039.1 2793.3L1026.3 2780.5zM1061.4 2768.2L1074.2 2780.9L1061.4 2793.7L1048.6 2780.9zM1083.7 2768.5L1096.5 2781.3L1083.7 2794L1071 2781.3zM1106 2768.8L1118.8 2781.5L1106 2794.3L1093.3 2781.5zM1128.4 2769L1141.1 2781.7L1128.4 2794.5L1115.6 2781.7zM1150.7 2769.1L1163.5 2781.9L1150.7 2794.7L1137.9 2781.9zM1173 2769.2L1185.8 2782L1173 2794.8L1160.2 2782zM1195.3 2769.2L1208.1 2782L1195.3 2794.8L1182.5 2782zM1217.6 2769.2L1230.4 2782L1217.6 2794.8L1204.9 2782zM1239.9 2769.2L1252.7 2782L1239.9 2794.8L1227.2 2782zM1262.3 2769.2L1275 2782L1262.3 2794.8L1249.5 2782zM1284.6 2769.2L1297.3 2782L1284.6 2794.8L1271.8 2782zM1306.9 2769.2L1319.7 2782L1306.9 2794.8L1294.1 2782zM1329.2 2769.2L1342 2782L1329.2 2794.8L1316.4 2782zM1351.5 2769.2L1364.3 2782L1351.5 2794.8L1338.7 2782zM1373.8 2769.2L1386.6 2782L1373.8 2794.8L1361.1 2782zM1396.1 2769.2L1408.9 2782L1396.1 2794.8L1383.4 2782zM1418.5 2769.2L1431.2 2782L1418.5 2794.8L1405.7 2782zM1440.8 2769.2L1453.6 2782L1440.8 2794.8L1428 2782zM1463.1 2769.2L1475.9 2782L1463.1 2794.8L1450.3 2782zM1485.4 2769.2L1498.2 2782L1485.4 2794.8L1472.6 2782zM1507.7 2769.2L1520.5 2782L1507.7 2794.8L1495 2782zM1530 2769.2L1542.8 2782L1530 2794.8L1517.3 2782zM1552.4 2769.2L1565.1 2782L1552.4 2794.8L1539.6 2782zM1574.7 2769.2L1587.4 2782L1574.7 2794.8L1561.9 2782zM1597 2769.2L1609.8 2782L1597 2794.8L1584.2 2782zM1619.3 2769.2L1632.1 2782L1619.3 2794.8L1606.5 2782z"/><path fill="#B177DE" d="M288.6 2550L310.6 2538.6L310.6 2561.4zM310.9 2573.1L332.9 2561.7L332.9 2584.5zM333.2 2602.9L355.3 2591.5L355.3 2614.3zM355.5 2628L377.6 2616.5L377.6 2639.4zM377.9 2652.6L399.9 2641.2L399.9 2664zM400.2 2682.8L422.2 2671.4L422.2 2694.2zM422.5 2698.7L444.5 2687.3L444.5 2710.1zM444.8 2708.9L466.8 2697.5L466.8 2720.3zM467.1 2718.8L489.2 2707.4L489.2 2730.3zM489.4 2727.3L511.5 2715.9L511.5 2738.7zM511.8 2734.8L533.8 2723.4L533.8 2746.2zM534.1 2739.8L556.1 2728.4L556.1 2751.2zM556.4 2745.8L578.4 2734.4L578.4 2757.2zM578.7 2749.8L600.7 2738.4L600.7 2761.2zM601 2753.6L623 2742.2L623 2765zM623.3 2757.3L645.4 2745.8L645.4 2768.7zM645.6 2760.8L667.7 2749.4L667.7 2772.2zM668 2764.1L690 2752.7L690 2775.5zM690.3 2766.8L712.3 2755.4L712.3 2778.2zM712.6 2769.2L734.6 2757.8L734.6 2780.6zM734.9 2771.4L756.9 2760L756.9 2782.8zM757.2 2773.1L779.3 2761.7L779.3 2784.5zM779.5 2774.2L801.6 2762.8L801.6 2785.6zM801.8 2775L823.9 2763.6L823.9 2786.4zM824.2 2775.8L846.2 2764.3L846.2 2787.2zM846.5 2776.5L868.5 2765.1L868.5 2787.9zM868.8 2777.2L890.8 2765.8L890.8 2788.6zM891.1 2777.8L913.1 2766.4L913.1 2789.2zM913.4 2778.4L935.5 2767L935.5 2789.8zM935.7 2779L957.8 2767.6L957.8 2790.4zM958.1 2779.5L980.1 2768.1L980.1 2790.9zM980.4 2780L1002.4 2768.6L1002.4 2791.4zM1002.7 2780.4L1024.7 2769L1024.7 2791.8zM1025 2780.8L1047 2769.4L1047 2792.2zM1047.3 2781.1L1069.4 2769.7L1069.4 2792.5zM1069.6 2781.4L1091.7 2770L1091.7 2792.8zM1091.9 2781.6L1114 2770.2L1114 2793zM1114.3 2781.8L1136.3 2770.4L1136.3 2793.2zM1136.6 2781.9L1158.6 2770.5L1158.6 2793.3zM1158.9 2782L1180.9 2770.6L1180.9 2793.4zM1181.2 2782L1203.2 2770.6L1203.2 2793.4zM1203.5 2782L1225.6 2770.6L1225.6 2793.4zM1225.8 2782L1247.9 2770.6L1247.9 2793.4zM1248.2 2782L1270.2 2770.6L1270.2 2793.4zM1270.5 2782L1292.5 2770.6L1292.5 2793.4zM1292.8 2782L1314.8 2770.6L1314.8 2793.4zM1315.1 2782L1337.1 2770.6L1337.1 2793.4zM1337.4 2782L1359.4 2770.6L1359.4 2793.4zM1359.7 2782L1381.8 2770.6L1381.8 2793.4zM1382 2782L1404.1 2770.6L1404.1 2793.4zM1404.4 2782L1426.4 2770.6L1426.4 2793.4zM1426.7 2782L1448.7 2770.6L1448.7 2793.4zM1449 2782L1471 2770.6L1471 2793.4zM1471.3 2782L1493.3 2770.6L1493.3 2793.4zM1493.6 2782L1515.7 2770.6L1515.7 2793.4zM1515.9 2782L1538 2770.6L1538 2793.4zM1538.3 2782L1560.3 2770.6L1560.3 2793.4zM1560.6 2782L1582.6 2770.6L1582.6 2793.4zM1582.9 2782L1604.9 2770.6L1604.9 2793.4zM1605.2 2782L1627.2 2770.6L1627.2 2793.4z"/><path fill="#5EE54A" d="M316.8 2772.5L294.8 2761.1L294.8 2783.9zM339.1 2773.3L317.1 2761.9L317.1 2784.7zM361.4 2774.3L339.4 2762.9L339.4 2785.7zM383.7 2775.3L361.7 2763.9L361.7 2786.7zM406.1 2776.3L384 2764.9L384 2787.7zM428.4 2777.1L406.3 2765.7L406.3 2788.6zM450.7 2777.9L428.7 2766.5L428.7 2789.3zM473 2778.5L451 2767.1L451 2789.9zM495.3 2778.9L473.3 2767.5L473.3 2790.3zM517.6 2779.1L495.6 2767.7L495.6 2790.5zM540 2779.3L517.9 2767.9L517.9 2790.7zM562.3 2779.5L540.2 2768.1L540.2 2790.9zM584.6 2779.7L562.6 2768.3L562.6 2791.1zM606.9 2779.9L584.9 2768.5L584.9 2791.3zM629.2 2780L607.2 2768.6L607.2 2791.4zM651.5 2780.2L629.5 2768.8L629.5 2791.6zM673.8 2780.3L651.8 2768.9L651.8 2791.7zM696.2 2780.5L674.1 2769.1L674.1 2791.9zM718.5 2780.6L696.4 2769.2L696.4 2792zM740.8 2780.7L718.8 2769.3L718.8 2792.1zM763.1 2780.9L741.1 2769.5L741.1 2792.3zM785.4 2781L763.4 2769.6L763.4 2792.4zM807.7 2781.1L785.7 2769.7L785.7 2792.5zM830.1 2781.2L808 2769.8L808 2792.6zM852.4 2781.3L830.3 2769.9L830.3 2792.7zM874.7 2781.4L852.6 2770L852.6 2792.8zM897 2781.5L875 2770.1L875 2792.9zM919.3 2781.5L897.3 2770.1L897.3 2792.9zM941.6 2781.6L919.6 2770.2L919.6 2793zM963.9 2781.7L941.9 2770.3L941.9 2793.1zM986.3 2781.7L964.2 2770.3L964.2 2793.1zM1008.6 2781.8L986.5 2770.4L986.5 2793.2zM1030.9 2781.8L1008.9 2770.4L1008.9 2793.2zM1053.2 2781.9L1031.2 2770.5L1031.2 2793.3zM1075.5 2781.9L1053.5 2770.5L1053.5 2793.3zM1097.8 2781.9L1075.8 2770.5L1075.8 2793.3zM1120.2 2782L1098.1 2770.6L1098.1 2793.4zM1142.5 2782L1120.4 2770.6L1120.4 2793.4zM1164.8 2782L1142.7 2770.6L1142.7 2793.4zM1187.1 2782L1165.1 2770.6L1165.1 2793.4zM1209.4 2782L1187.4 2770.6L1187.4 2793.4zM1231.7 2782L1209.7 2770.6L1209.7 2793.4zM1254 2782L1232 2770.6L1232 2793.4zM1276.4 2782L1254.3 2770.6L1254.3 2793.4zM1298.7 2782L1276.6 2770.6L1276.6 2793.4zM1321 2782L1299 2770.6L1299 2793.4zM1343.3 2782L1321.3 2770.6L1321.3 2793.4zM1365.6 2782L1343.6 2770.6L1343.6 2793.4zM1387.9 2782L1365.9 2770.6L1365.9 2793.4zM1410.2 2782L1388.2 2770.6L1388.2 2793.4zM1432.6 2782L1410.5 2770.6L1410.5 2793.4zM1454.9 2782L1432.8 2770.6L1432.8 2793.4zM1477.2 2782L1455.2 2770.6L1455.2 2793.4zM1499.5 2782L1477.5 2770.6L1477.5 2793.4zM1521.8 2782L1499.8 2770.6L1499.8 2793.4zM1544.1 2782L1522.1 2770.6L1522.1 2793.4zM1566.5 2782L1544.4 2770.6L1544.4 2793.4zM1588.8 2782L1566.7 2770.6L1566.7 2793.4zM1611.1 2782L1589.1 2770.6L1589.1 2793.4zM1633.4 2782L1611.4 2770.6L1611.4 2793.4z"/></g>
<g fill="none" stroke="#000" stroke-width="3.6" stroke-linejoin="round"><polyline points="302.7,2042.5 325,2098 347.3,2167.3 369.6,2236.4 392,2315.7 414.3,2383.5 436.6,2448.2 458.9,2509.8 481.2,2559.5 503.5,2599.3 525.9,2631.6 548.2,2663.9 570.5,2691.7 592.8,2704.3 615.1,2716.7 637.4,2729.3 659.7,2736.9 682.1,2744.4 704.4,2751.2 726.7,2757 749,2761.5 771.3,2765.2 793.6,2768 816,2770.2 838.3,2772 860.6,2773.6 882.9,2774.7 905.2,2775.6 927.5,2776.4 949.8,2777 972.2,2777.5 994.5,2778 1016.8,2778.5 1039.1,2779 1061.4,2779.6 1083.7,2780.1 1106,2780.7 1128.4,2781.3 1150.7,2781.7 1173,2781.9 1195.3,2782 1217.6,2782 1239.9,2782 1262.3,2782 1284.6,2782 1306.9,2782 1329.2,2782 1351.5,2782 1373.8,2782 1396.1,2782 1418.5,2782 1440.8,2782 1463.1,2782 1485.4,2782 1507.7,2782 1530,2782 1552.4,2782 1574.7,2782 1597,2782 1619.3,2782"/><polyline points="302.7,2300 325,2325.3 347.3,2359.8 369.6,2396.7 392,2441 414.3,2483.1 436.6,2530.5 458.9,2565.8 481.2,2605.4 503.5,2639.4 525.9,2664.3 548.2,2686.8 570.5,2704.3 592.8,2719.3 615.1,2731.8 637.4,2741.9 659.7,2749.4 682.1,2757 704.4,2762.7 726.7,2767.1 749,2770.2 771.3,2772.6 793.6,2774.3 816,2775.6 838.3,2776.8 860.6,2777.7 882.9,2778.4 905.2,2778.8 927.5,2779.3 949.8,2779.7 972.2,2780.1 994.5,2780.4 1016.8,2780.7 1039.1,2781 1061.4,2781.3 1083.7,2781.5 1106,2781.7 1128.4,2781.8 1150.7,2781.9 1173,2782 1195.3,2782 1217.6,2782 1239.9,2782 1262.3,2782 1284.6,2782 1306.9,2782 1329.2,2782 1351.5,2782 1373.8,2782 1396.1,2782 1418.5,2782 1440.8,2782 1463.1,2782 1485.4,2782 1507.7,2782 1530,2782 1552.4,2782 1574.7,2782 1597,2782 1619.3,2782"/><polyline points="302.7,2400 325,2413.9 325,2422.4 347.3,2429.4 347.3,2444 369.6,2455.9 369.6,2477.9 392,2495.8 392,2525.6 414.3,2549.9 414.3,2575.1 436.6,2595.7 458.9,2631.9 481.2,2652.4 503.5,2677 525.9,2697 548.2,2712 570.5,2724.5 592.8,2734.5 615.1,2744.5 637.4,2752.1 659.7,2757.6 682.1,2762.1 704.4,2766.2 726.7,2769.6 749,2771.9 771.3,2773.8 793.6,2775.4 816,2776.7 838.3,2777.5 860.6,2778 882.9,2778.5 905.2,2779 927.5,2779.4 949.8,2779.8 972.2,2780.2 994.5,2780.6 1016.8,2780.9 1039.1,2781.1 1061.4,2781.4 1083.7,2781.6 1106,2781.7 1128.4,2781.9 1150.7,2781.9 1173,2782 1195.3,2782 1217.6,2782 1239.9,2782 1262.3,2782 1284.6,2782 1306.9,2782 1329.2,2782 1351.5,2782 1373.8,2782 1396.1,2782 1418.5,2782 1440.8,2782 1463.1,2782 1485.4,2782 1507.7,2782 1530,2782 1552.4,2782 1574.7,2782 1597,2782 1619.3,2782"/><polyline points="302.7,2732.5 325,2744.3 347.3,2752.1 369.6,2757.1 392,2762.1 414.3,2766.3 436.6,2769.7 458.9,2772.4 481.2,2774.5 503.5,2775.8 525.9,2777 548.2,2778 570.5,2778.7 592.8,2779 615.1,2779.3 637.4,2779.5 659.7,2779.7 682.1,2779.9 704.4,2780.1 726.7,2780.3 749,2780.5 771.3,2780.6 793.6,2780.8 816,2780.9 838.3,2781.1 860.6,2781.2 882.9,2781.3 905.2,2781.4 927.5,2781.5 949.8,2781.6 972.2,2781.7 994.5,2781.7 1016.8,2781.8 1039.1,2781.8 1061.4,2781.9 1083.7,2781.9 1106,2782 1128.4,2782 1150.7,2782 1173,2782 1195.3,2782 1217.6,2782 1239.9,2782 1262.3,2782 1284.6,2782 1306.9,2782 1329.2,2782 1351.5,2782 1373.8,2782 1396.1,2782 1418.5,2782 1440.8,2782 1463.1,2782 1485.4,2782 1507.7,2782 1530,2782 1552.4,2782 1574.7,2782 1597,2782 1619.3,2782"/><polyline points="302.7,2425 302.7,2442.7 325,2457.2 325,2481.8 347.3,2501.8 347.3,2523.8 369.6,2541.7 369.6,2563.5 392,2581.4 392,2603.4 414.3,2621.4 436.6,2654.6 458.9,2677.4 481.2,2692.3 503.5,2704.8 525.9,2714.7 548.2,2724.7 570.5,2732.2 592.8,2739.7 615.1,2744.7 637.4,2749.7 659.7,2754.3 682.1,2758.7 704.4,2762.6 726.7,2766 749,2768.5 771.3,2770.6 793.6,2772.5 816,2773.9 838.3,2775 860.6,2775.7 882.9,2776.5 905.2,2777.2 927.5,2777.9 949.8,2778.5 972.2,2779.1 994.5,2779.6 1016.8,2780.1 1039.1,2780.5 1061.4,2780.9 1083.7,2781.3 1106,2781.5 1128.4,2781.7 1150.7,2781.9 1173,2782 1195.3,2782 1217.6,2782 1239.9,2782 1262.3,2782 1284.6,2782 1306.9,2782 1329.2,2782 1351.5,2782 1373.8,2782 1396.1,2782 1418.5,2782 1440.8,2782 1463.1,2782 1485.4,2782 1507.7,2782 1530,2782 1552.4,2782 1574.7,2782 1597,2782 1619.3,2782"/><polyline points="302.7,2550 302.7,2562.7 325,2573.1 325,2589.5 347.3,2602.9 347.3,2616.7 369.6,2628 369.6,2641.5 392,2652.6 392,2669.2 414.3,2682.8 436.6,2698.7 458.9,2708.9 481.2,2718.8 503.5,2727.3 525.9,2734.8 548.2,2739.8 570.5,2745.8 592.8,2749.8 615.1,2753.6 637.4,2757.3 659.7,2760.8 682.1,2764.1 704.4,2766.8 726.7,2769.2 749,2771.4 771.3,2773.1 793.6,2774.2 816,2775 838.3,2775.8 860.6,2776.5 882.9,2777.2 905.2,2777.8 927.5,2778.4 949.8,2779 972.2,2779.5 994.5,2780 1016.8,2780.4 1039.1,2780.8 1061.4,2781.1 1083.7,2781.4 1106,2781.6 1128.4,2781.8 1150.7,2781.9 1173,2782 1195.3,2782 1217.6,2782 1239.9,2782 1262.3,2782 1284.6,2782 1306.9,2782 1329.2,2782 1351.5,2782 1373.8,2782 1396.1,2782 1418.5,2782 1440.8,2782 1463.1,2782 1485.4,2782 1507.7,2782 1530,2782 1552.4,2782 1574.7,2782 1597,2782 1619.3,2782"/><polyline points="302.7,2772.5 325,2773.3 347.3,2774.3 369.6,2775.3 392,2776.3 414.3,2777.1 436.6,2777.9 458.9,2778.5 481.2,2778.9 503.5,2779.1 525.9,2779.3 548.2,2779.5 570.5,2779.7 592.8,2779.9 615.1,2780 637.4,2780.2 659.7,2780.3 682.1,2780.5 704.4,2780.6 726.7,2780.7 749,2780.9 771.3,2781 793.6,2781.1 816,2781.2 838.3,2781.3 860.6,2781.4 882.9,2781.5 905.2,2781.5 927.5,2781.6 949.8,2781.7 972.2,2781.7 994.5,2781.8 1016.8,2781.8 1039.1,2781.9 1061.4,2781.9 1083.7,2781.9 1106,2782 1128.4,2782 1150.7,2782 1173,2782 1195.3,2782 1217.6,2782 1239.9,2782 1262.3,2782 1284.6,2782 1306.9,2782 1329.2,2782 1351.5,2782 1373.8,2782 1396.1,2782 1418.5,2782 1440.8,2782 1463.1,2782 1485.4,2782 1507.7,2782 1530,2782 1552.4,2782 1574.7,2782 1597,2782 1619.3,2782"/></g>
<g><path fill="#515151" d="M293.5 2363.3h18.4v18.4h-18.4zM315.8 2300.6h18.4v18.4h-18.4zM338.1 2230.8h18.4v18.4h-18.4zM360.4 2166.1h18.4v18.4h-18.4zM382.8 2101.3h18.4v18.4h-18.4zM405.1 2046h18.4v18.4h-18.4zM427.4 1995.7h18.4v18.4h-18.4zM449.7 1955.2h18.4v18.4h-18.4zM472 1917.2h18.4v18.4h-18.4zM494.3 1891.4h18.4v18.4h-18.4zM516.7 1868.8h18.4v18.4h-18.4zM539 1853.8h18.4v18.4h-18.4zM561.3 1841.2h18.4v18.4h-18.4zM583.6 1833.5h18.4v18.4h-18.4zM605.9 1831.8h18.4v18.4h-18.4zM628.2 1835.4h18.4v18.4h-18.4zM650.5 1842.5h18.4v18.4h-18.4zM672.9 1856.8h18.4v18.4h-18.4zM695.2 1876.4h18.4v18.4h-18.4zM717.5 1895.8h18.4v18.4h-18.4zM739.8 1929.3h18.4v18.4h-18.4zM762.1 1963.6h18.4v18.4h-18.4zM784.4 2009.4h18.4v18.4h-18.4zM806.8 2061.9h18.4v18.4h-18.4zM829.1 2121.3h18.4v18.4h-18.4zM851.4 2185.6h18.4v18.4h-18.4zM873.7 2250.1h18.4v18.4h-18.4zM896 2317h18.4v18.4h-18.4zM918.3 2381.6h18.4v18.4h-18.4zM940.6 2444.1h18.4v18.4h-18.4zM963 2494.1h18.4v18.4h-18.4zM985.3 2546.8h18.4v18.4h-18.4zM1007.6 2586.3h18.4v18.4h-18.4zM1029.9 2618.4h18.4v18.4h-18.4zM1052.2 2643.2h18.4v18.4h-18.4zM1074.5 2668.1h18.4v18.4h-18.4zM1096.8 2685.5h18.4v18.4h-18.4zM1119.2 2697.9h18.4v18.4h-18.4zM1141.5 2710.5h18.4v18.4h-18.4zM1163.8 2718h18.4v18.4h-18.4zM1186.1 2724.6h18.4v18.4h-18.4zM1208.4 2730.5h18.4v18.4h-18.4zM1230.7 2735.8h18.4v18.4h-18.4zM1253.1 2740.5h18.4v18.4h-18.4zM1275.4 2744.4h18.4v18.4h-18.4zM1297.7 2748h18.4v18.4h-18.4zM1320 2751.5h18.4v18.4h-18.4zM1342.3 2755h18.4v18.4h-18.4zM1364.6 2758.1h18.4v18.4h-18.4zM1386.9 2760.5h18.4v18.4h-18.4zM1409.3 2762.1h18.4v18.4h-18.4zM1431.6 2763.4h18.4v18.4h-18.4zM1453.9 2764.5h18.4v18.4h-18.4zM1476.2 2765.4h18.4v18.4h-18.4zM1498.5 2766h18.4v18.4h-18.4zM1520.8 2766.5h18.4v18.4h-18.4zM1543.2 2767h18.4v18.4h-18.4zM1565.5 2767.4h18.4v18.4h-18.4zM1587.8 2767.7h18.4v18.4h-18.4zM1610.1 2767.8h18.4v18.4h-18.4z"/><path fill="#1A6FDF" d="M293.5 2440.8h18.4v18.4h-18.4zM315.8 2390h18.4v18.4h-18.4zM338.1 2325.9h18.4v18.4h-18.4zM360.4 2253.9h18.4v18.4h-18.4zM382.8 2191.5h18.4v18.4h-18.4zM405.1 2126.8h18.4v18.4h-18.4zM427.4 2071.4h18.4v18.4h-18.4zM449.7 2021h18.4v18.4h-18.4zM472 1980.4h18.4v18.4h-18.4zM494.3 1944.6h18.4v18.4h-18.4zM516.7 1921.3h18.4v18.4h-18.4zM539 1906.1h18.4v18.4h-18.4zM561.3 1900.8h18.4v18.4h-18.4zM583.6 1903.1h18.4v18.4h-18.4zM605.9 1914.8h18.4v18.4h-18.4zM628.2 1938.9h18.4v18.4h-18.4zM650.5 1968.2h18.4v18.4h-18.4zM672.9 2004.6h18.4v18.4h-18.4zM695.2 2055.6h18.4v18.4h-18.4zM717.5 2112h18.4v18.4h-18.4zM739.8 2178.5h18.4v18.4h-18.4zM762.1 2240.5h18.4v18.4h-18.4zM784.4 2311.6h18.4v18.4h-18.4zM806.8 2381.7h18.4v18.4h-18.4zM829.1 2443.9h18.4v18.4h-18.4zM851.4 2498.8h18.4v18.4h-18.4zM873.7 2543.7h18.4v18.4h-18.4zM896 2583.7h18.4v18.4h-18.4zM918.3 2618.8h18.4v18.4h-18.4zM940.6 2646.6h18.4v18.4h-18.4zM963 2666.7h18.4v18.4h-18.4zM985.3 2686.1h18.4v18.4h-18.4zM1007.6 2698.5h18.4v18.4h-18.4zM1029.9 2710.8h18.4v18.4h-18.4zM1052.2 2718.3h18.4v18.4h-18.4zM1074.5 2725.7h18.4v18.4h-18.4zM1096.8 2731.5h18.4v18.4h-18.4zM1119.2 2736.4h18.4v18.4h-18.4zM1141.5 2740.2h18.4v18.4h-18.4zM1163.8 2743.4h18.4v18.4h-18.4zM1186.1 2746.1h18.4v18.4h-18.4zM1208.4 2748.2h18.4v18.4h-18.4zM1230.7 2749.7h18.4v18.4h-18.4zM1253.1 2750.8h18.4v18.4h-18.4zM1275.4 2751.9h18.4v18.4h-18.4zM1297.7 2753.2h18.4v18.4h-18.4zM1320 2754.8h18.4v18.4h-18.4zM1342.3 2756.8h18.4v18.4h-18.4zM1364.6 2758.8h18.4v18.4h-18.4zM1386.9 2760.6h18.4v18.4h-18.4zM1409.3 2761.9h18.4v18.4h-18.4zM1431.6 2763.3h18.4v18.4h-18.4zM1453.9 2764.4h18.4v18.4h-18.4zM1476.2 2765.4h18.4v18.4h-18.4zM1498.5 2766h18.4v18.4h-18.4zM1520.8 2766.5h18.4v18.4h-18.4zM1543.2 2767h18.4v18.4h-18.4zM1565.5 2767.4h18.4v18.4h-18.4zM1587.8 2767.7h18.4v18.4h-18.4zM1610.1 2767.8h18.4v18.4h-18.4z"/><path fill="#F14040" d="M293.5 2675.8h18.4v18.4h-18.4zM315.8 2641.7h18.4v18.4h-18.4zM338.1 2576h18.4v18.4h-18.4zM360.4 2508.2h18.4v18.4h-18.4zM382.8 2371.7h18.4v18.4h-18.4zM405.1 2278.3h18.4v18.4h-18.4zM427.4 2154.7h18.4v18.4h-18.4zM449.7 2100.8h18.4v18.4h-18.4zM472 2060.4h18.4v18.4h-18.4zM494.3 2025h18.4v18.4h-18.4zM516.7 1996.4h18.4v18.4h-18.4zM539 1981.1h18.4v18.4h-18.4zM561.3 1975.8h18.4v18.4h-18.4zM583.6 1980.4h18.4v18.4h-18.4zM605.9 1994.6h18.4v18.4h-18.4zM628.2 2018.8h18.4v18.4h-18.4zM650.5 2052.9h18.4v18.4h-18.4zM672.9 2091.9h18.4v18.4h-18.4zM695.2 2143h18.4v18.4h-18.4zM717.5 2201.9h18.4v18.4h-18.4zM739.8 2266.3h18.4v18.4h-18.4zM762.1 2326.1h18.4v18.4h-18.4zM784.4 2388h18.4v18.4h-18.4zM806.8 2446.9h18.4v18.4h-18.4zM829.1 2499.2h18.4v18.4h-18.4zM851.4 2546.6h18.4v18.4h-18.4zM873.7 2584.1h18.4v18.4h-18.4zM896 2616.6h18.4v18.4h-18.4zM918.3 2644.2h18.4v18.4h-18.4zM940.6 2666.7h18.4v18.4h-18.4zM963 2686.8h18.4v18.4h-18.4zM985.3 2703.6h18.4v18.4h-18.4zM1007.6 2715.9h18.4v18.4h-18.4zM1029.9 2725.8h18.4v18.4h-18.4zM1052.2 2733.3h18.4v18.4h-18.4zM1074.5 2739.7h18.4v18.4h-18.4zM1096.8 2745.2h18.4v18.4h-18.4zM1119.2 2749.6h18.4v18.4h-18.4zM1141.5 2751.4h18.4v18.4h-18.4zM1163.8 2752.4h18.4v18.4h-18.4zM1186.1 2753.1h18.4v18.4h-18.4zM1208.4 2753.6h18.4v18.4h-18.4zM1230.7 2754h18.4v18.4h-18.4zM1253.1 2754.5h18.4v18.4h-18.4zM1275.4 2755h18.4v18.4h-18.4zM1297.7 2755.7h18.4v18.4h-18.4zM1320 2756.7h18.4v18.4h-18.4zM1342.3 2758h18.4v18.4h-18.4zM1364.6 2759.3h18.4v18.4h-18.4zM1386.9 2760.6h18.4v18.4h-18.4zM1409.3 2761.8h18.4v18.4h-18.4zM1431.6 2763.1h18.4v18.4h-18.4zM1453.9 2764.3h18.4v18.4h-18.4zM1476.2 2765.3h18.4v18.4h-18.4zM1498.5 2766h18.4v18.4h-18.4zM1520.8 2766.5h18.4v18.4h-18.4zM1543.2 2767h18.4v18.4h-18.4zM1565.5 2767.4h18.4v18.4h-18.4zM1587.8 2767.7h18.4v18.4h-18.4zM1610.1 2767.8h18.4v18.4h-18.4z"/><path fill="#37AD6B" d="M293.5 2735.8h18.4v18.4h-18.4zM315.8 2731.2h18.4v18.4h-18.4zM338.1 2724.1h18.4v18.4h-18.4zM360.4 2707.6h18.4v18.4h-18.4zM382.8 2679.3h18.4v18.4h-18.4zM405.1 2623.9h18.4v18.4h-18.4zM427.4 2571.3h18.4v18.4h-18.4zM449.7 2511h18.4v18.4h-18.4zM472 2511h18.4v18.4h-18.4zM494.3 2456.5h18.4v18.4h-18.4zM516.7 2456.5h18.4v18.4h-18.4zM539 2400.4h18.4v18.4h-18.4zM561.3 2326.8h18.4v18.4h-18.4zM583.6 2247.5h18.4v18.4h-18.4zM605.9 2170.6h18.4v18.4h-18.4zM628.2 2093.5h18.4v18.4h-18.4zM650.5 2023.3h18.4v18.4h-18.4zM672.9 1953.3h18.4v18.4h-18.4zM695.2 1953.3h18.4v18.4h-18.4zM717.5 1911.9h18.4v18.4h-18.4zM739.8 1874.3h18.4v18.4h-18.4zM762.1 1848.6h18.4v18.4h-18.4zM784.4 1826.1h18.4v18.4h-18.4zM806.8 1813.4h18.4v18.4h-18.4zM829.1 1809.8h18.4v18.4h-18.4zM851.4 1815.5h18.4v18.4h-18.4zM873.7 1827.5h18.4v18.4h-18.4zM896 1851.8h18.4v18.4h-18.4zM918.3 1878.7h18.4v18.4h-18.4zM940.6 1917.3h18.4v18.4h-18.4zM963 1975.1h18.4v18.4h-18.4zM985.3 2037.2h18.4v18.4h-18.4zM1007.6 2104.3h18.4v18.4h-18.4zM1029.9 2186.2h18.4v18.4h-18.4zM1052.2 2263h18.4v18.4h-18.4zM1074.5 2344.9h18.4v18.4h-18.4zM1096.8 2412h18.4v18.4h-18.4zM1119.2 2471.8h18.4v18.4h-18.4zM1141.5 2533.4h18.4v18.4h-18.4zM1163.8 2533.4h18.4v18.4h-18.4zM1186.1 2575.4h18.4v18.4h-18.4zM1208.4 2615h18.4v18.4h-18.4zM1230.7 2644.4h18.4v18.4h-18.4zM1253.1 2669h18.4v18.4h-18.4zM1275.4 2686.2h18.4v18.4h-18.4zM1297.7 2699.6h18.4v18.4h-18.4zM1320 2713.5h18.4v18.4h-18.4zM1342.3 2725.9h18.4v18.4h-18.4zM1364.6 2731.9h18.4v18.4h-18.4zM1386.9 2735.4h18.4v18.4h-18.4zM1409.3 2737.5h18.4v18.4h-18.4zM1431.6 2739.1h18.4v18.4h-18.4zM1453.9 2740.9h18.4v18.4h-18.4zM1476.2 2742.9h18.4v18.4h-18.4zM1498.5 2744.2h18.4v18.4h-18.4zM1520.8 2745.3h18.4v18.4h-18.4zM1543.2 2746.2h18.4v18.4h-18.4zM1565.5 2747h18.4v18.4h-18.4zM1587.8 2747.6h18.4v18.4h-18.4zM1610.1 2747.8h18.4v18.4h-18.4z"/><path fill="#CC9900" d="M293.5 2378.3h18.4v18.4h-18.4zM315.8 2376.1h18.4v18.4h-18.4zM338.1 2352h18.4v18.4h-18.4zM360.4 2272.1h18.4v18.4h-18.4zM382.8 2206.2h18.4v18.4h-18.4zM405.1 2149.5h18.4v18.4h-18.4zM427.4 2122.8h18.4v18.4h-18.4zM449.7 2107.4h18.4v18.4h-18.4zM472 2094.8h18.4v18.4h-18.4zM494.3 2082.2h18.4v18.4h-18.4zM516.7 2073.5h18.4v18.4h-18.4zM539 2068.4h18.4v18.4h-18.4zM561.3 2065.8h18.4v18.4h-18.4zM583.6 2065.8h18.4v18.4h-18.4zM605.9 2070.4h18.4v18.4h-18.4zM628.2 2077.7h18.4v18.4h-18.4zM650.5 2087.4h18.4v18.4h-18.4zM672.9 2102h18.4v18.4h-18.4zM695.2 2116.7h18.4v18.4h-18.4zM717.5 2136.1h18.4v18.4h-18.4zM739.8 2158.1h18.4v18.4h-18.4zM762.1 2184.9h18.4v18.4h-18.4zM784.4 2214.4h18.4v18.4h-18.4zM806.8 2245h18.4v18.4h-18.4zM829.1 2282.1h18.4v18.4h-18.4zM851.4 2319.3h18.4v18.4h-18.4zM873.7 2356.5h18.4v18.4h-18.4zM896 2393.7h18.4v18.4h-18.4zM918.3 2430.8h18.4v18.4h-18.4zM940.6 2468.1h18.4v18.4h-18.4zM963 2504.3h18.4v18.4h-18.4zM985.3 2536.4h18.4v18.4h-18.4zM1007.6 2563.7h18.4v18.4h-18.4zM1029.9 2590.9h18.4v18.4h-18.4zM1052.2 2615.7h18.4v18.4h-18.4zM1074.5 2635.6h18.4v18.4h-18.4zM1096.8 2655.4h18.4v18.4h-18.4zM1119.2 2672.9h18.4v18.4h-18.4zM1141.5 2685.4h18.4v18.4h-18.4zM1163.8 2695.4h18.4v18.4h-18.4zM1186.1 2705.3h18.4v18.4h-18.4zM1208.4 2712.9h18.4v18.4h-18.4zM1230.7 2718.5h18.4v18.4h-18.4zM1253.1 2723.6h18.4v18.4h-18.4zM1275.4 2728.4h18.4v18.4h-18.4zM1297.7 2733h18.4v18.4h-18.4zM1320 2736h18.4v18.4h-18.4zM1342.3 2738.5h18.4v18.4h-18.4zM1364.6 2740.7h18.4v18.4h-18.4zM1386.9 2742.5h18.4v18.4h-18.4zM1409.3 2744.1h18.4v18.4h-18.4zM1431.6 2745.6h18.4v18.4h-18.4zM1453.9 2746.9h18.4v18.4h-18.4zM1476.2 2748.1h18.4v18.4h-18.4zM1498.5 2749.2h18.4v18.4h-18.4zM1520.8 2750.2h18.4v18.4h-18.4zM1543.2 2751.2h18.4v18.4h-18.4zM1565.5 2752.2h18.4v18.4h-18.4zM1587.8 2753h18.4v18.4h-18.4zM1610.1 2753.8h18.4v18.4h-18.4z"/><path fill="#B177DE" d="M293.5 2430.8h18.4v18.4h-18.4zM315.8 2383.7h18.4v18.4h-18.4zM338.1 2348.5h18.4v18.4h-18.4zM360.4 2309.3h18.4v18.4h-18.4zM382.8 2265h18.4v18.4h-18.4zM405.1 2217.6h18.4v18.4h-18.4zM427.4 2178.4h18.4v18.4h-18.4zM449.7 2162.2h18.4v18.4h-18.4zM472 2152.1h18.4v18.4h-18.4zM494.3 2139.7h18.4v18.4h-18.4zM516.7 2131h18.4v18.4h-18.4zM539 2126h18.4v18.4h-18.4zM561.3 2120.8h18.4v18.4h-18.4zM583.6 2120.8h18.4v18.4h-18.4zM605.9 2120.8h18.4v18.4h-18.4zM628.2 2125.4h18.4v18.4h-18.4zM650.5 2132.6h18.4v18.4h-18.4zM672.9 2144.5h18.4v18.4h-18.4zM695.2 2163.9h18.4v18.4h-18.4zM717.5 2183.4h18.4v18.4h-18.4zM739.8 2212.4h18.4v18.4h-18.4zM762.1 2241.9h18.4v18.4h-18.4zM784.4 2278.5h18.4v18.4h-18.4zM806.8 2314.8h18.4v18.4h-18.4zM829.1 2357h18.4v18.4h-18.4zM851.4 2394.3h18.4v18.4h-18.4zM873.7 2431.4h18.4v18.4h-18.4zM896 2471.1h18.4v18.4h-18.4zM918.3 2506.2h18.4v18.4h-18.4zM940.6 2536h18.4v18.4h-18.4zM963 2569.1h18.4v18.4h-18.4zM985.3 2593.8h18.4v18.4h-18.4zM1007.6 2618.7h18.4v18.4h-18.4zM1029.9 2653.4h18.4v18.4h-18.4zM1052.2 2683.2h18.4v18.4h-18.4zM1074.5 2700.6h18.4v18.4h-18.4zM1096.8 2713.1h18.4v18.4h-18.4zM1119.2 2722.1h18.4v18.4h-18.4zM1141.5 2729.8h18.4v18.4h-18.4zM1163.8 2736.9h18.4v18.4h-18.4zM1186.1 2742h18.4v18.4h-18.4zM1208.4 2745.7h18.4v18.4h-18.4zM1230.7 2748.4h18.4v18.4h-18.4zM1253.1 2750.2h18.4v18.4h-18.4zM1275.4 2751.7h18.4v18.4h-18.4zM1297.7 2753.1h18.4v18.4h-18.4zM1320 2755h18.4v18.4h-18.4zM1342.3 2756.9h18.4v18.4h-18.4zM1364.6 2758.9h18.4v18.4h-18.4zM1386.9 2760.6h18.4v18.4h-18.4zM1409.3 2761.9h18.4v18.4h-18.4zM1431.6 2763.3h18.4v18.4h-18.4zM1453.9 2764.4h18.4v18.4h-18.4zM1476.2 2765.4h18.4v18.4h-18.4zM1498.5 2766h18.4v18.4h-18.4zM1520.8 2766.5h18.4v18.4h-18.4zM1543.2 2767h18.4v18.4h-18.4zM1565.5 2767.4h18.4v18.4h-18.4zM1587.8 2767.7h18.4v18.4h-18.4zM1610.1 2767.8h18.4v18.4h-18.4z"/><path fill="#5EE54A" d="M293.5 2175.8h18.4v18.4h-18.4zM315.8 2245.4h18.4v18.4h-18.4zM338.1 2322.9h18.4v18.4h-18.4zM360.4 2390.3h18.4v18.4h-18.4zM382.8 2457.7h18.4v18.4h-18.4zM405.1 2513.2h18.4v18.4h-18.4zM427.4 2573.1h18.4v18.4h-18.4zM449.7 2573.1h18.4v18.4h-18.4zM472 2610.3h18.4v18.4h-18.4zM494.3 2610.3h18.4v18.4h-18.4zM516.7 2641.6h18.4v18.4h-18.4zM539 2641.6h18.4v18.4h-18.4zM561.3 2666h18.4v18.4h-18.4zM583.6 2666h18.4v18.4h-18.4zM605.9 2686.5h18.4v18.4h-18.4zM628.2 2686.5h18.4v18.4h-18.4zM650.5 2701h18.4v18.4h-18.4zM672.9 2701h18.4v18.4h-18.4zM695.2 2712.4h18.4v18.4h-18.4zM717.5 2712.4h18.4v18.4h-18.4zM739.8 2719.9h18.4v18.4h-18.4zM762.1 2719.9h18.4v18.4h-18.4zM784.4 2726.8h18.4v18.4h-18.4zM806.8 2726.8h18.4v18.4h-18.4zM829.1 2731.5h18.4v18.4h-18.4zM851.4 2731.5h18.4v18.4h-18.4zM873.7 2734.5h18.4v18.4h-18.4zM896 2734.5h18.4v18.4h-18.4zM918.3 2736.9h18.4v18.4h-18.4zM940.6 2736.9h18.4v18.4h-18.4zM963 2737.9h18.4v18.4h-18.4zM985.3 2737.9h18.4v18.4h-18.4zM1007.6 2738.3h18.4v18.4h-18.4zM1029.9 2738.3h18.4v18.4h-18.4zM1052.2 2736.9h18.4v18.4h-18.4zM1074.5 2736.9h18.4v18.4h-18.4zM1096.8 2733.9h18.4v18.4h-18.4zM1119.2 2733.9h18.4v18.4h-18.4zM1141.5 2726h18.4v18.4h-18.4zM1163.8 2726h18.4v18.4h-18.4zM1186.1 2719.8h18.4v18.4h-18.4zM1208.4 2719.8h18.4v18.4h-18.4zM1230.7 2711.9h18.4v18.4h-18.4zM1253.1 2711.9h18.4v18.4h-18.4zM1275.4 2698.7h18.4v18.4h-18.4zM1297.7 2698.7h18.4v18.4h-18.4zM1320 2688.3h18.4v18.4h-18.4zM1342.3 2688.3h18.4v18.4h-18.4zM1364.6 2669h18.4v18.4h-18.4zM1386.9 2669h18.4v18.4h-18.4zM1409.3 2640.9h18.4v18.4h-18.4zM1431.6 2640.9h18.4v18.4h-18.4zM1453.9 2609.4h18.4v18.4h-18.4zM1476.2 2609.4h18.4v18.4h-18.4zM1498.5 2581.8h18.4v18.4h-18.4zM1520.8 2581.8h18.4v18.4h-18.4zM1543.2 2534.5h18.4v18.4h-18.4zM1565.5 2534.5h18.4v18.4h-18.4zM1587.8 2473.7h18.4v18.4h-18.4zM1610.1 2473.7h18.4v18.4h-18.4z"/></g>
<g fill="none" stroke="#000" stroke-width="3.6" stroke-linejoin="round"><polyline points="302.7,2372.5 325,2309.8 347.3,2240 369.6,2175.3 392,2110.5 414.3,2055.2 436.6,2004.9 458.9,1964.4 481.2,1926.4 503.5,1900.6 525.9,1878 548.2,1863 570.5,1850.4 592.8,1842.7 615.1,1841 637.4,1844.6 659.7,1851.7 682.1,1866 704.4,1885.6 726.7,1905 749,1938.5 771.3,1972.8 793.6,2018.6 816,2071.1 838.3,2130.5 860.6,2194.8 882.9,2259.3 905.2,2326.2 927.5,2390.8 949.8,2453.3 972.2,2503.3 994.5,2556 1016.8,2595.5 1039.1,2627.6 1061.4,2652.4 1083.7,2677.3 1106,2694.7 1128.4,2707.1 1150.7,2719.7 1173,2727.2 1195.3,2733.8 1217.6,2739.7 1239.9,2745 1262.3,2749.7 1284.6,2753.6 1306.9,2757.2 1329.2,2760.7 1351.5,2764.2 1373.8,2767.3 1396.1,2769.7 1418.5,2771.3 1440.8,2772.6 1463.1,2773.7 1485.4,2774.6 1507.7,2775.2 1530,2775.7 1552.4,2776.2 1574.7,2776.6 1597,2776.9 1619.3,2777"/><polyline points="302.7,2450 325,2399.2 347.3,2335.1 369.6,2263.1 392,2200.7 414.3,2136 436.6,2080.6 458.9,2030.2 481.2,1989.6 503.5,1953.8 525.9,1930.5 548.2,1915.3 570.5,1910 592.8,1912.3 615.1,1924 637.4,1948.1 659.7,1977.4 682.1,2013.8 704.4,2064.8 726.7,2121.2 749,2187.7 771.3,2249.7 793.6,2320.8 816,2390.9 838.3,2453.1 860.6,2508 882.9,2552.9 905.2,2592.9 927.5,2628 949.8,2655.8 972.2,2675.9 994.5,2695.3 1016.8,2707.7 1039.1,2720 1061.4,2727.5 1083.7,2734.9 1106,2740.7 1128.4,2745.6 1150.7,2749.4 1173,2752.6 1195.3,2755.3 1217.6,2757.4 1239.9,2758.9 1262.3,2760 1284.6,2761.1 1306.9,2762.4 1329.2,2764 1351.5,2766 1373.8,2768 1396.1,2769.8 1418.5,2771.1 1440.8,2772.5 1463.1,2773.6 1485.4,2774.6 1507.7,2775.2 1530,2775.7 1552.4,2776.2 1574.7,2776.6 1597,2776.9 1619.3,2777"/><polyline points="302.7,2685 302.7,2666.2 325,2650.9 325,2614.7 347.3,2585.2 347.3,2547.9 369.6,2517.4 369.6,2442.3 392,2380.9 392,2329.5 414.3,2287.5 414.3,2219.5 436.6,2163.9 458.9,2110 481.2,2069.6 503.5,2034.2 525.9,2005.6 548.2,1990.3 570.5,1985 592.8,1989.6 615.1,2003.8 637.4,2028 659.7,2062.1 682.1,2101.1 704.4,2152.2 726.7,2211.1 749,2275.5 771.3,2335.3 793.6,2397.2 816,2456.1 838.3,2508.4 860.6,2555.8 882.9,2593.3 905.2,2625.8 927.5,2653.4 949.8,2675.9 972.2,2696 994.5,2712.8 1016.8,2725.1 1039.1,2735 1061.4,2742.5 1083.7,2748.9 1106,2754.4 1128.4,2758.8 1150.7,2760.6 1173,2761.6 1195.3,2762.3 1217.6,2762.8 1239.9,2763.2 1262.3,2763.7 1284.6,2764.2 1306.9,2764.9 1329.2,2765.9 1351.5,2767.2 1373.8,2768.5 1396.1,2769.8 1418.5,2771 1440.8,2772.3 1463.1,2773.5 1485.4,2774.5 1507.7,2775.2 1530,2775.7 1552.4,2776.2 1574.7,2776.6 1597,2776.9 1619.3,2777"/><polyline points="302.7,2745 325,2740.4 347.3,2733.3 369.6,2716.8 392,2688.5 414.3,2633.1 436.6,2580.5 458.9,2520.2 481.2,2520.2 503.5,2465.7 525.9,2465.7 548.2,2409.6 570.5,2336 592.8,2256.7 615.1,2179.8 637.4,2102.7 659.7,2032.5 682.1,1962.5 704.4,1962.5 726.7,1921.1 749,1883.5 771.3,1857.8 793.6,1835.3 816,1822.6 838.3,1819 860.6,1824.7 882.9,1836.7 905.2,1861 927.5,1887.9 949.8,1926.5 972.2,1984.3 994.5,2046.4 1016.8,2113.5 1039.1,2195.4 1061.4,2272.2 1083.7,2354.1 1106,2421.2 1128.4,2481 1150.7,2542.6 1173,2542.6 1195.3,2584.6 1217.6,2624.2 1239.9,2653.6 1262.3,2678.2 1284.6,2695.4 1306.9,2708.8 1329.2,2722.7 1351.5,2735.1 1373.8,2741.1 1396.1,2744.6 1418.5,2746.7 1440.8,2748.3 1463.1,2750.1 1485.4,2752.1 1507.7,2753.4 1530,2754.5 1552.4,2755.4 1574.7,2756.2 1597,2756.8 1619.3,2757"/><polyline points="302.7,2389.6 325,2387.4 347.3,2363.6 347.3,2320.2 369.6,2284.7 369.6,2249.1 392,2219.9 392,2189.2 414.3,2164.1 436.6,2137.9 458.9,2122.7 481.2,2110.4 503.5,2098.1 525.9,2089.5 548.2,2084.6 570.5,2082 592.8,2082 615.1,2086.5 637.4,2093.7 659.7,2103.1 682.1,2117.5 704.4,2131.9 726.7,2151 749,2172.5 771.3,2198.9 793.6,2227.9 816,2258 838.3,2294.6 860.6,2331.3 882.9,2368 905.2,2404.8 927.5,2441.6 949.8,2478.5 972.2,2514.4 994.5,2546.3 1016.8,2573.4 1039.1,2600.5 1061.4,2625.2 1083.7,2645 1106,2664.8 1128.4,2682.2 1150.7,2694.7 1173,2704.6 1195.3,2714.6 1217.6,2722.1 1239.9,2727.7 1262.3,2732.8 1284.6,2737.6 1306.9,2742.2 1329.2,2745.2 1351.5,2747.7 1373.8,2749.9 1396.1,2751.7 1418.5,2753.3 1440.8,2754.8 1463.1,2756.1 1485.4,2757.3 1507.7,2758.4 1530,2759.4 1552.4,2760.4 1574.7,2761.4 1597,2762.2 1619.3,2763"/><polyline points="302.7,2441.9 325,2395.4 347.3,2360.6 369.6,2322 369.6,2298 392,2278.4 392,2252.8 414.3,2231.8 436.6,2193.4 458.9,2177.5 481.2,2167.7 503.5,2155.5 525.9,2147 548.2,2142.1 570.5,2137 592.8,2137 615.1,2137 637.4,2141.5 659.7,2148.5 682.1,2160.2 704.4,2179.2 726.7,2198.3 749,2226.8 771.3,2255.7 793.6,2291.7 816,2327.5 838.3,2369 860.6,2405.8 882.9,2442.5 905.2,2481.8 927.5,2516.5 949.8,2546.1 972.2,2579 994.5,2603.5 1016.8,2628.2 1039.1,2662.9 1061.4,2692.5 1083.7,2709.9 1106,2722.3 1128.4,2731.3 1150.7,2739 1173,2746.1 1195.3,2751.2 1217.6,2754.9 1239.9,2757.6 1262.3,2759.4 1284.6,2760.9 1306.9,2762.3 1329.2,2764.2 1351.5,2766.1 1373.8,2768.1 1396.1,2769.8 1418.5,2771.1 1440.8,2772.5 1463.1,2773.6 1485.4,2774.6 1507.7,2775.2 1530,2775.7 1552.4,2776.2 1574.7,2776.6 1597,2776.9 1619.3,2777"/><polyline points="302.7,2185 325,2254.6 347.3,2332.1 369.6,2399.5 392,2466.9 414.3,2522.4 436.6,2582.3 458.9,2582.3 481.2,2619.5 503.5,2619.5 525.9,2650.8 548.2,2650.8 570.5,2675.2 592.8,2675.2 615.1,2695.7 637.4,2695.7 659.7,2710.2 682.1,2710.2 704.4,2721.6 726.7,2721.6 749,2729.1 771.3,2729.1 793.6,2736 816,2736 838.3,2740.7 860.6,2740.7 882.9,2743.7 905.2,2743.7 927.5,2746.1 949.8,2746.1 972.2,2747.1 994.5,2747.1 1016.8,2747.5 1039.1,2747.5 1061.4,2746.1 1083.7,2746.1 1106,2743.1 1128.4,2743.1 1150.7,2735.2 1173,2735.2 1195.3,2729 1217.6,2729 1239.9,2721.1 1262.3,2721.1 1284.6,2707.9 1306.9,2707.9 1329.2,2697.5 1351.5,2697.5 1373.8,2678.2 1396.1,2678.2 1418.5,2650.1 1440.8,2650.1 1463.1,2618.6 1485.4,2618.6 1507.7,2591 1530,2591 1552.4,2543.7 1574.7,2543.7 1597,2482.9 1619.3,2482.9"/></g>
</g>
<path fill="none" stroke="#000" stroke-width="4.6" stroke-linejoin="miter" d="M302.7 1673.5H1619.3V2893.4H302.7z"/>
<path fill="none" stroke="#000" stroke-width="3.8" stroke-linecap="butt" d="M302.7 2893.4h-11M302.7 2782.5h-23M302.7 2671.6h-11M302.7 2560.7h-23M302.7 2449.8h-11M302.7 2338.9h-23M302.7 2228h-11M302.7 2117.1h-23M302.7 2006.2h-11M302.7 1895.3h-23M302.7 1784.4h-11M302.7 1673.5h-23M302.7 2893.4v23M368.8 2893.4v11M407.4 2893.4v11M434.8 2893.4v11M456.1 2893.4v11M473.5 2893.4v11M488.1 2893.4v11M500.9 2893.4v11M512.1 2893.4v11M522.1 2893.4v23M588.2 2893.4v11M626.8 2893.4v11M654.2 2893.4v11M675.5 2893.4v11M692.9 2893.4v11M707.6 2893.4v11M720.3 2893.4v11M731.5 2893.4v11M741.6 2893.4v23M807.6 2893.4v11M846.3 2893.4v11M873.7 2893.4v11M894.9 2893.4v11M912.3 2893.4v11M927 2893.4v11M939.7 2893.4v11M951 2893.4v11M961 2893.4v23M1027.1 2893.4v11M1065.7 2893.4v11M1093.1 2893.4v11M1114.4 2893.4v11M1131.8 2893.4v11M1146.4 2893.4v11M1159.2 2893.4v11M1170.4 2893.4v11M1180.4 2893.4v23M1246.5 2893.4v11M1285.1 2893.4v11M1312.5 2893.4v11M1333.8 2893.4v11M1351.2 2893.4v11M1365.9 2893.4v11M1378.6 2893.4v11M1389.8 2893.4v11M1399.9 2893.4v23M1465.9 2893.4v11M1504.6 2893.4v11M1532 2893.4v11M1553.2 2893.4v11M1570.6 2893.4v11M1585.3 2893.4v11M1598 2893.4v11M1609.3 2893.4v11M1619.3 2893.4v23"/>
<g font-size="60">
<text x="262.7" y="2800" text-anchor="end">0</text>
<text x="262.7" y="2578.2" text-anchor="end">500</text>
<text x="262.7" y="2356.4" text-anchor="end">1000</text>
<text x="262.7" y="2134.6" text-anchor="end">1500</text>
<text x="262.7" y="1912.8" text-anchor="end">2000</text>
<text x="262.7" y="1691" text-anchor="end">2500</text>
<text x="1643.8" y="2788.9">0</text>
<text x="1643.8" y="2544.9">20</text>
<text x="1643.8" y="2300.9">40</text>
<text x="1643.8" y="2057">60</text>
<text x="1643.8" y="1813">80</text>
<text x="302.7" y="2977.9" text-anchor="middle">0.1</text>
<text x="522.1" y="2977.9" text-anchor="middle">1</text>
<text x="741.6" y="2977.9" text-anchor="middle">10</text>
<text x="961" y="2977.9" text-anchor="middle">100</text>
<text x="1180.4" y="2977.9" text-anchor="middle">1000</text>
<text x="1399.9" y="2977.9" text-anchor="middle">10000</text>
<text x="1619.3" y="2977.9" text-anchor="middle">100000</text>
</g>
<g font-size="85" text-anchor="middle">
<text letter-spacing="0.8" transform="translate(111.7 2285.4) rotate(-90)">|Z| (Ω·cm<tspan font-size="52" dy="-30">-2</tspan><tspan dy="30">)</tspan></text>
<text transform="translate(1790.3 2283.4) rotate(-90)">θ (deg)</text>
<text x="961" y="3100.9" font-size="85">f (Hz)</text>
</g>
<g font-size="59">
<path fill="#515151" d="M1273.5 1750.5h21v21h-21z"/>
<text x="1368.8" y="1780.8">1day</text>
<path fill="#1A6FDF" d="M1273.3 1834.7a10.7 10.7 0 1 0 21.4 0a10.7 10.7 0 1 0 -21.4 0z"/>
<text x="1368.8" y="1854.5">2day</text>
<path fill="#F14040" d="M1284 1895L1296.7 1916L1271.3 1916z"/>
<text x="1368.8" y="1928.2">3day</text>
<path fill="#37AD6B" d="M1284 1995.5L1296.7 1974.5L1271.3 1974.5z"/>
<text x="1368.8" y="2001.9">5day</text>
<path fill="#CC9900" d="M1284 2042.9L1296.9 2055.8L1284 2068.7L1271.1 2055.8z"/>
<text x="1368.8" y="2075.6">7day</text>
<path fill="#B177DE" d="M1270.2 2129.5L1291.8 2117.2L1291.8 2141.8z"/>
<text x="1368.8" y="2149.3">10day</text>
<path fill="#5EE54A" d="M1297.8 2203.2L1276.2 2190.9L1276.2 2215.5z"/>
<text x="1368.8" y="2223">14day</text>
</g>
<text x="884" y="3227" font-size="83" text-anchor="middle" font-family='"Liberation Serif", "DejaVu Serif", serif'>(<tspan font-weight="bold">g</tspan>)</text>
</g>
</svg></body></html>
